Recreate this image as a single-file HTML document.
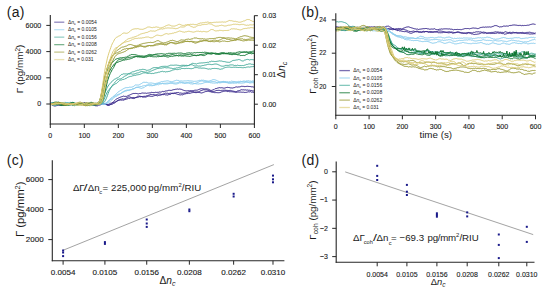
<!DOCTYPE html>
<html><head><meta charset="utf-8"><style>
html,body{margin:0;padding:0;background:#fff;}
body{width:550px;height:293px;overflow:hidden;}
svg{display:block;font-family:"Liberation Sans", sans-serif;}
text.s{stroke:#1a1a1a;stroke-width:0.12px;paint-order:stroke;}
</style></head><body>
<svg width="550" height="293" viewBox="0 0 550 293">
<rect width="550" height="293" fill="#fff"/>
<path d="M50.3,104.1 L51.0,104.5 L51.7,104.8 L52.3,105.2 L53.0,105.4 L53.7,105.8 L54.4,106.0 L55.1,105.8 L55.7,106.0 L56.4,105.7 L57.1,105.5 L57.8,105.5 L58.5,105.4 L59.1,105.2 L59.8,105.4 L60.5,105.4 L61.2,105.5 L61.9,105.3 L62.5,105.1 L63.2,105.0 L63.9,105.1 L64.6,104.9 L65.3,104.6 L65.9,104.4 L66.6,104.3 L67.3,104.2 L68.0,104.1 L68.7,104.2 L69.3,104.2 L70.0,104.2 L70.7,104.2 L71.4,104.0 L72.1,103.8 L72.8,103.8 L73.4,103.7 L74.1,103.8 L74.8,103.5 L75.5,103.7 L76.2,103.6 L76.8,103.4 L77.5,103.4 L78.2,103.5 L78.9,103.7 L79.6,103.5 L80.2,103.5 L80.9,103.4 L81.6,103.3 L82.3,103.7 L83.0,104.1 L83.6,104.3 L84.3,104.3 L85.0,104.4 L85.7,104.5 L86.4,104.3 L87.0,104.5 L87.7,104.3 L88.4,104.4 L89.1,104.4 L89.8,104.6 L90.4,104.5 L91.1,104.4 L91.8,104.2 L92.5,104.1 L93.2,104.0 L93.8,103.9 L94.5,103.7 L95.2,103.8 L95.9,103.8 L96.6,103.8 L97.2,104.2 L97.9,104.2 L98.6,104.2 L99.3,104.2 L100.0,104.2 L100.6,103.9 L101.3,103.8 L102.0,103.8 L102.7,103.6 L103.4,103.4 L104.0,103.4 L104.7,103.8 L105.4,103.6 L106.1,104.0 L106.8,104.2 L107.4,104.8 L108.1,105.0 L108.8,105.2 L109.5,104.8 L110.2,104.8 L110.8,104.2 L111.5,103.8 L112.2,103.1 L112.9,102.6 L113.6,101.7 L114.3,100.8 L114.9,100.4 L115.6,99.6 L116.3,99.1 L117.0,98.8 L117.7,98.4 L118.3,98.1 L119.0,97.8 L119.7,97.5 L120.4,97.2 L121.1,96.9 L121.7,96.7 L122.4,96.5 L123.1,96.2 L123.8,96.1 L124.5,96.4 L125.1,96.3 L125.8,96.4 L126.5,96.4 L127.2,96.0 L127.9,95.9 L128.5,95.4 L129.2,95.3 L129.9,94.8 L130.6,94.6 L131.3,94.3 L131.9,93.9 L132.6,93.7 L133.3,93.5 L134.0,93.4 L134.7,93.5 L135.3,93.4 L136.0,93.5 L136.7,93.5 L137.4,93.7 L138.1,93.7 L138.7,93.9 L139.4,93.5 L140.1,93.6 L140.8,93.5 L141.5,93.2 L142.1,92.9 L142.8,93.1 L143.5,93.1 L144.2,93.1 L144.9,93.2 L145.5,93.1 L146.2,93.3 L146.9,93.3 L147.6,93.1 L148.3,93.1 L148.9,92.9 L149.6,92.9 L150.3,92.8 L151.0,92.7 L151.7,92.3 L152.4,92.5 L153.0,92.5 L153.7,92.6 L154.4,92.6 L155.1,92.5 L155.8,92.2 L156.4,92.4 L157.1,92.4 L157.8,92.3 L158.5,92.3 L159.2,92.0 L159.8,92.0 L160.5,92.1 L161.2,92.0 L161.9,91.8 L162.6,91.4 L163.2,91.8 L163.9,91.3 L164.6,91.4 L165.3,91.0 L166.0,91.1 L166.6,90.9 L167.3,90.8 L168.0,90.6 L168.7,90.3 L169.4,90.3 L170.0,90.4 L170.7,90.4 L171.4,90.4 L172.1,90.1 L172.8,89.9 L173.4,89.7 L174.1,89.6 L174.8,89.5 L175.5,89.3 L176.2,89.3 L176.8,89.1 L177.5,89.0 L178.2,89.2 L178.9,89.2 L179.6,89.0 L180.2,89.1 L180.9,89.3 L181.6,89.4 L182.3,89.8 L183.0,89.9 L183.6,90.3 L184.3,90.5 L185.0,90.7 L185.7,90.8 L186.4,90.9 L187.0,90.8 L187.7,90.8 L188.4,90.7 L189.1,90.7 L189.8,90.9 L190.4,90.7 L191.1,90.9 L191.8,90.8 L192.5,90.7 L193.2,90.8 L193.9,90.4 L194.5,90.3 L195.2,90.2 L195.9,90.2 L196.6,90.2 L197.3,90.1 L197.9,89.9 L198.6,89.6 L199.3,89.3 L200.0,89.1 L200.7,88.8 L201.3,88.7 L202.0,88.7 L202.7,88.8 L203.4,88.8 L204.1,89.1 L204.7,88.9 L205.4,88.9 L206.1,88.9 L206.8,88.9 L207.5,89.0 L208.1,89.1 L208.8,89.3 L209.5,89.7 L210.2,90.1 L210.9,90.5 L211.5,90.4 L212.2,90.2 L212.9,89.9 L213.6,89.6 L214.3,89.4 L214.9,88.8 L215.6,88.6 L216.3,88.6 L217.0,88.1 L217.7,88.1 L218.3,87.9 L219.0,87.8 L219.7,87.6 L220.4,87.8 L221.1,87.8 L221.7,87.7 L222.4,87.8 L223.1,88.1 L223.8,88.1 L224.5,88.1 L225.1,88.0 L225.8,87.7 L226.5,87.5 L227.2,87.4 L227.9,87.3 L228.5,87.5 L229.2,87.6 L229.9,87.7 L230.6,87.9 L231.3,87.9 L231.9,88.0 L232.6,88.0 L233.3,87.8 L234.0,87.7 L234.7,87.5 L235.4,87.1 L236.0,87.0 L236.7,86.9 L237.4,87.1 L238.1,87.0 L238.8,86.9 L239.4,86.9 L240.1,86.9 L240.8,86.5 L241.5,86.3 L242.2,86.3 L242.8,86.4 L243.5,86.4 L244.2,86.4 L244.9,86.8 L245.6,86.5 L246.2,86.4 L246.9,86.4 L247.6,86.3 L248.3,86.4 L249.0,86.5 L249.6,86.5 L250.3,86.5 L251.0,86.8 L251.7,86.8 L252.4,86.8 L253.0,86.8 L253.7,87.1 L254.4,87.1" fill="none" stroke="#332288" stroke-width="1.0" stroke-opacity="1.0" stroke-linejoin="round"/>
<path d="M50.3,103.9 L51.0,103.7 L51.7,103.7 L52.3,103.8 L53.0,104.0 L53.7,104.0 L54.4,104.1 L55.1,104.2 L55.7,104.1 L56.4,104.5 L57.1,104.1 L57.8,104.2 L58.5,103.9 L59.1,103.9 L59.8,103.7 L60.5,103.3 L61.2,103.1 L61.9,102.9 L62.5,102.8 L63.2,102.6 L63.9,102.6 L64.6,102.8 L65.3,103.2 L65.9,103.5 L66.6,104.0 L67.3,104.3 L68.0,104.5 L68.7,104.7 L69.3,104.9 L70.0,104.9 L70.7,104.8 L71.4,104.6 L72.1,104.5 L72.8,104.2 L73.4,104.3 L74.1,104.2 L74.8,104.3 L75.5,104.2 L76.2,104.3 L76.8,104.4 L77.5,104.2 L78.2,104.4 L78.9,104.2 L79.6,104.3 L80.2,104.5 L80.9,104.4 L81.6,104.1 L82.3,103.9 L83.0,103.6 L83.6,103.4 L84.3,103.3 L85.0,102.9 L85.7,103.0 L86.4,102.8 L87.0,102.9 L87.7,102.9 L88.4,102.9 L89.1,102.8 L89.8,102.9 L90.4,103.0 L91.1,102.9 L91.8,103.1 L92.5,103.2 L93.2,103.2 L93.8,103.7 L94.5,103.7 L95.2,104.1 L95.9,104.1 L96.6,104.3 L97.2,104.4 L97.9,104.5 L98.6,104.5 L99.3,104.8 L100.0,104.8 L100.6,104.8 L101.3,104.5 L102.0,104.4 L102.7,104.0 L103.4,103.9 L104.0,103.7 L104.7,104.2 L105.4,104.3 L106.1,104.4 L106.8,104.9 L107.4,105.2 L108.1,105.2 L108.8,105.3 L109.5,105.1 L110.2,104.6 L110.8,104.5 L111.5,104.5 L112.2,104.2 L112.9,103.9 L113.6,103.4 L114.3,103.2 L114.9,102.7 L115.6,102.0 L116.3,101.4 L117.0,101.0 L117.7,100.6 L118.3,100.4 L119.0,100.1 L119.7,100.2 L120.4,100.0 L121.1,100.2 L121.7,100.1 L122.4,100.0 L123.1,100.0 L123.8,100.2 L124.5,99.7 L125.1,99.5 L125.8,99.4 L126.5,99.1 L127.2,98.8 L127.9,98.8 L128.5,98.3 L129.2,98.6 L129.9,98.3 L130.6,98.0 L131.3,97.9 L131.9,97.7 L132.6,97.5 L133.3,97.5 L134.0,97.4 L134.7,97.8 L135.3,97.6 L136.0,97.6 L136.7,97.5 L137.4,97.4 L138.1,97.3 L138.7,97.0 L139.4,96.7 L140.1,96.7 L140.8,96.8 L141.5,96.5 L142.1,96.6 L142.8,97.2 L143.5,97.1 L144.2,97.0 L144.9,97.1 L145.5,97.1 L146.2,96.9 L146.9,96.7 L147.6,96.3 L148.3,96.2 L148.9,96.0 L149.6,96.1 L150.3,96.2 L151.0,96.4 L151.7,96.3 L152.4,96.4 L153.0,96.2 L153.7,95.9 L154.4,95.7 L155.1,95.3 L155.8,95.0 L156.4,94.7 L157.1,94.4 L157.8,94.2 L158.5,94.0 L159.2,94.1 L159.8,93.9 L160.5,94.2 L161.2,94.4 L161.9,94.5 L162.6,94.6 L163.2,94.6 L163.9,94.7 L164.6,94.5 L165.3,94.8 L166.0,95.0 L166.6,94.9 L167.3,95.1 L168.0,94.8 L168.7,94.6 L169.4,94.5 L170.0,94.5 L170.7,94.2 L171.4,93.6 L172.1,93.6 L172.8,93.4 L173.4,93.2 L174.1,93.1 L174.8,93.3 L175.5,93.6 L176.2,93.8 L176.8,94.0 L177.5,94.3 L178.2,94.5 L178.9,94.6 L179.6,94.8 L180.2,94.9 L180.9,94.9 L181.6,94.7 L182.3,94.9 L183.0,94.7 L183.6,94.4 L184.3,94.1 L185.0,93.8 L185.7,93.8 L186.4,93.6 L187.0,93.6 L187.7,93.5 L188.4,93.3 L189.1,93.3 L189.8,93.4 L190.4,93.2 L191.1,93.0 L191.8,92.7 L192.5,92.6 L193.2,92.4 L193.9,92.4 L194.5,92.3 L195.2,91.9 L195.9,92.2 L196.6,92.0 L197.3,92.0 L197.9,92.2 L198.6,92.4 L199.3,92.5 L200.0,92.7 L200.7,92.8 L201.3,93.0 L202.0,92.7 L202.7,92.7 L203.4,92.4 L204.1,92.1 L204.7,91.9 L205.4,91.6 L206.1,91.6 L206.8,91.4 L207.5,91.3 L208.1,91.3 L208.8,91.3 L209.5,91.6 L210.2,91.7 L210.9,91.8 L211.5,92.1 L212.2,92.1 L212.9,92.3 L213.6,92.4 L214.3,92.6 L214.9,92.6 L215.6,92.6 L216.3,92.6 L217.0,92.6 L217.7,92.7 L218.3,92.7 L219.0,92.8 L219.7,92.6 L220.4,92.5 L221.1,92.2 L221.7,91.8 L222.4,91.7 L223.1,91.5 L223.8,91.2 L224.5,91.2 L225.1,91.2 L225.8,91.0 L226.5,91.2 L227.2,91.6 L227.9,91.4 L228.5,91.4 L229.2,91.7 L229.9,91.7 L230.6,91.7 L231.3,91.7 L231.9,91.8 L232.6,91.8 L233.3,91.9 L234.0,92.0 L234.7,92.1 L235.4,92.2 L236.0,92.5 L236.7,92.2 L237.4,92.1 L238.1,92.1 L238.8,92.0 L239.4,92.1 L240.1,92.2 L240.8,92.0 L241.5,92.2 L242.2,92.3 L242.8,92.2 L243.5,92.2 L244.2,92.3 L244.9,92.6 L245.6,92.4 L246.2,92.3 L246.9,92.3 L247.6,92.0 L248.3,91.8 L249.0,91.9 L249.6,91.9 L250.3,91.6 L251.0,92.0 L251.7,92.2 L252.4,92.1 L253.0,92.2 L253.7,92.4 L254.4,92.3" fill="none" stroke="#332288" stroke-width="1.0" stroke-opacity="1.0" stroke-linejoin="round"/>
<path d="M50.3,103.3 L51.0,103.3 L51.7,103.2 L52.3,103.2 L53.0,103.0 L53.7,103.0 L54.4,103.2 L55.1,103.6 L55.7,103.7 L56.4,104.1 L57.1,104.1 L57.8,103.9 L58.5,103.9 L59.1,103.6 L59.8,103.2 L60.5,103.2 L61.2,103.1 L61.9,103.1 L62.5,103.1 L63.2,103.7 L63.9,103.7 L64.6,103.9 L65.3,104.0 L65.9,104.1 L66.6,104.2 L67.3,104.1 L68.0,104.2 L68.7,104.1 L69.3,104.0 L70.0,104.1 L70.7,104.0 L71.4,103.8 L72.1,104.0 L72.8,104.2 L73.4,104.3 L74.1,104.5 L74.8,104.4 L75.5,104.3 L76.2,104.4 L76.8,104.1 L77.5,103.8 L78.2,103.7 L78.9,103.5 L79.6,103.5 L80.2,103.4 L80.9,103.3 L81.6,103.0 L82.3,103.2 L83.0,103.1 L83.6,103.0 L84.3,102.8 L85.0,102.7 L85.7,102.9 L86.4,102.9 L87.0,103.3 L87.7,103.4 L88.4,103.6 L89.1,103.7 L89.8,104.0 L90.4,103.9 L91.1,104.1 L91.8,104.3 L92.5,104.8 L93.2,104.8 L93.8,105.2 L94.5,105.5 L95.2,105.7 L95.9,105.8 L96.6,105.8 L97.2,105.9 L97.9,105.6 L98.6,105.2 L99.3,104.9 L100.0,104.6 L100.6,104.3 L101.3,104.2 L102.0,104.0 L102.7,103.8 L103.4,104.1 L104.0,103.9 L104.7,104.1 L105.4,104.4 L106.1,104.3 L106.8,104.7 L107.4,104.7 L108.1,104.5 L108.8,104.2 L109.5,103.8 L110.2,103.5 L110.8,103.1 L111.5,103.1 L112.2,102.6 L112.9,102.7 L113.6,102.5 L114.3,102.3 L114.9,102.2 L115.6,102.0 L116.3,101.7 L117.0,101.2 L117.7,100.7 L118.3,100.2 L119.0,100.0 L119.7,99.6 L120.4,99.4 L121.1,99.0 L121.7,99.2 L122.4,98.8 L123.1,99.0 L123.8,99.1 L124.5,98.9 L125.1,98.6 L125.8,98.3 L126.5,97.9 L127.2,97.6 L127.9,97.1 L128.5,96.9 L129.2,97.0 L129.9,96.9 L130.6,97.3 L131.3,97.7 L131.9,98.2 L132.6,98.5 L133.3,98.5 L134.0,98.7 L134.7,98.2 L135.3,97.8 L136.0,97.3 L136.7,97.0 L137.4,96.4 L138.1,96.1 L138.7,96.2 L139.4,96.1 L140.1,96.5 L140.8,96.3 L141.5,96.6 L142.1,96.5 L142.8,96.7 L143.5,96.4 L144.2,96.4 L144.9,96.2 L145.5,96.3 L146.2,96.1 L146.9,95.6 L147.6,95.7 L148.3,95.4 L148.9,95.1 L149.6,94.9 L150.3,94.5 L151.0,94.3 L151.7,94.5 L152.4,94.7 L153.0,94.4 L153.7,94.5 L154.4,94.7 L155.1,94.9 L155.8,95.3 L156.4,95.5 L157.1,95.8 L157.8,95.8 L158.5,95.5 L159.2,95.6 L159.8,95.1 L160.5,95.2 L161.2,95.0 L161.9,94.6 L162.6,94.2 L163.2,94.0 L163.9,93.9 L164.6,93.4 L165.3,93.1 L166.0,93.3 L166.6,93.3 L167.3,93.2 L168.0,93.3 L168.7,93.5 L169.4,93.4 L170.0,93.3 L170.7,93.2 L171.4,93.3 L172.1,93.2 L172.8,93.3 L173.4,93.6 L174.1,93.3 L174.8,93.1 L175.5,92.9 L176.2,92.6 L176.8,92.5 L177.5,92.5 L178.2,92.4 L178.9,92.8 L179.6,93.1 L180.2,92.9 L180.9,93.2 L181.6,93.2 L182.3,93.3 L183.0,93.3 L183.6,93.2 L184.3,93.1 L185.0,92.9 L185.7,93.1 L186.4,92.6 L187.0,92.7 L187.7,92.5 L188.4,92.1 L189.1,91.9 L189.8,91.9 L190.4,91.2 L191.1,91.4 L191.8,91.2 L192.5,91.4 L193.2,91.5 L193.9,92.0 L194.5,92.2 L195.2,92.6 L195.9,92.5 L196.6,92.6 L197.3,92.4 L197.9,92.0 L198.6,91.8 L199.3,91.5 L200.0,91.0 L200.7,90.8 L201.3,90.6 L202.0,90.1 L202.7,90.1 L203.4,89.8 L204.1,89.7 L204.7,89.9 L205.4,89.9 L206.1,89.9 L206.8,89.9 L207.5,90.1 L208.1,90.1 L208.8,90.6 L209.5,90.7 L210.2,91.0 L210.9,91.3 L211.5,91.4 L212.2,91.7 L212.9,91.5 L213.6,91.4 L214.3,91.3 L214.9,91.1 L215.6,90.8 L216.3,90.5 L217.0,90.5 L217.7,90.4 L218.3,90.3 L219.0,90.4 L219.7,90.4 L220.4,90.6 L221.1,90.6 L221.7,90.3 L222.4,90.3 L223.1,90.2 L223.8,90.3 L224.5,90.2 L225.1,90.2 L225.8,90.3 L226.5,90.4 L227.2,90.4 L227.9,90.5 L228.5,90.5 L229.2,90.4 L229.9,90.6 L230.6,90.4 L231.3,90.7 L231.9,90.7 L232.6,91.0 L233.3,91.2 L234.0,91.1 L234.7,91.5 L235.4,91.7 L236.0,91.6 L236.7,91.5 L237.4,91.0 L238.1,91.0 L238.8,90.6 L239.4,90.6 L240.1,90.2 L240.8,90.0 L241.5,89.7 L242.2,89.9 L242.8,89.8 L243.5,89.8 L244.2,90.0 L244.9,89.9 L245.6,89.9 L246.2,90.2 L246.9,90.0 L247.6,90.0 L248.3,90.2 L249.0,90.4 L249.6,90.2 L250.3,90.4 L251.0,90.4 L251.7,90.5 L252.4,90.8 L253.0,90.8 L253.7,91.0 L254.4,90.9" fill="none" stroke="#332288" stroke-width="1.0" stroke-opacity="1.0" stroke-linejoin="round"/>
<path d="M50.3,102.6 L51.0,102.6 L51.7,102.8 L52.3,102.7 L53.0,102.7 L53.7,102.9 L54.4,102.9 L55.1,102.7 L55.7,103.1 L56.4,103.2 L57.1,103.3 L57.8,103.1 L58.5,103.1 L59.1,103.4 L59.8,103.6 L60.5,103.8 L61.2,103.8 L61.9,104.3 L62.5,104.3 L63.2,104.4 L63.9,104.7 L64.6,104.7 L65.3,104.6 L65.9,104.5 L66.6,104.7 L67.3,104.4 L68.0,104.5 L68.7,104.5 L69.3,104.5 L70.0,104.5 L70.7,104.6 L71.4,104.7 L72.1,104.6 L72.8,104.3 L73.4,104.2 L74.1,104.3 L74.8,104.2 L75.5,104.3 L76.2,104.2 L76.8,104.1 L77.5,104.2 L78.2,104.1 L78.9,103.8 L79.6,103.7 L80.2,103.7 L80.9,103.5 L81.6,103.6 L82.3,103.6 L83.0,103.9 L83.6,104.1 L84.3,104.4 L85.0,104.8 L85.7,105.1 L86.4,105.3 L87.0,105.2 L87.7,105.2 L88.4,105.0 L89.1,105.1 L89.8,104.7 L90.4,104.4 L91.1,104.1 L91.8,104.0 L92.5,103.8 L93.2,103.6 L93.8,103.6 L94.5,103.7 L95.2,103.4 L95.9,103.3 L96.6,103.4 L97.2,103.1 L97.9,103.2 L98.6,102.9 L99.3,103.1 L100.0,103.2 L100.6,103.3 L101.3,103.5 L102.0,103.5 L102.7,103.6 L103.4,103.6 L104.0,103.6 L104.7,103.8 L105.4,103.2 L106.1,103.1 L106.8,102.4 L107.4,101.7 L108.1,101.1 L108.8,100.4 L109.5,99.6 L110.2,98.9 L110.8,98.3 L111.5,97.8 L112.2,97.3 L112.9,96.6 L113.6,96.2 L114.3,95.6 L114.9,95.1 L115.6,94.4 L116.3,93.8 L117.0,93.1 L117.7,92.4 L118.3,91.9 L119.0,91.5 L119.7,91.1 L120.4,90.4 L121.1,90.3 L121.7,89.9 L122.4,89.2 L123.1,88.8 L123.8,88.5 L124.5,88.2 L125.1,87.7 L125.8,87.8 L126.5,87.6 L127.2,87.6 L127.9,87.6 L128.5,87.5 L129.2,87.2 L129.9,87.2 L130.6,87.2 L131.3,87.2 L131.9,87.1 L132.6,86.8 L133.3,86.6 L134.0,86.0 L134.7,85.5 L135.3,85.0 L136.0,85.0 L136.7,85.0 L137.4,85.0 L138.1,85.3 L138.7,84.9 L139.4,84.7 L140.1,84.3 L140.8,83.9 L141.5,83.5 L142.1,83.1 L142.8,82.6 L143.5,82.3 L144.2,82.4 L144.9,82.2 L145.5,82.4 L146.2,82.2 L146.9,82.5 L147.6,82.7 L148.3,83.1 L148.9,83.0 L149.6,83.1 L150.3,83.0 L151.0,83.0 L151.7,83.0 L152.4,83.2 L153.0,83.2 L153.7,83.4 L154.4,83.5 L155.1,83.6 L155.8,83.5 L156.4,83.3 L157.1,83.3 L157.8,83.0 L158.5,82.9 L159.2,82.7 L159.8,82.2 L160.5,82.1 L161.2,81.7 L161.9,81.6 L162.6,81.6 L163.2,81.5 L163.9,81.3 L164.6,81.2 L165.3,81.2 L166.0,80.8 L166.6,80.9 L167.3,80.8 L168.0,80.9 L168.7,81.0 L169.4,81.3 L170.0,81.4 L170.7,81.5 L171.4,81.7 L172.1,81.7 L172.8,81.6 L173.4,81.3 L174.1,81.0 L174.8,80.8 L175.5,80.6 L176.2,80.4 L176.8,80.1 L177.5,80.4 L178.2,80.4 L178.9,80.6 L179.6,81.1 L180.2,80.9 L180.9,81.1 L181.6,80.9 L182.3,81.1 L183.0,81.1 L183.6,81.0 L184.3,80.9 L185.0,80.9 L185.7,80.9 L186.4,80.9 L187.0,80.8 L187.7,80.7 L188.4,80.6 L189.1,80.8 L189.8,80.9 L190.4,80.9 L191.1,81.0 L191.8,81.0 L192.5,81.1 L193.2,81.3 L193.9,81.3 L194.5,81.3 L195.2,81.3 L195.9,81.2 L196.6,81.2 L197.3,81.1 L197.9,80.7 L198.6,80.7 L199.3,80.4 L200.0,80.3 L200.7,80.5 L201.3,80.2 L202.0,80.2 L202.7,80.3 L203.4,80.2 L204.1,80.2 L204.7,80.7 L205.4,80.6 L206.1,80.8 L206.8,80.9 L207.5,81.0 L208.1,81.2 L208.8,81.1 L209.5,80.9 L210.2,80.7 L210.9,80.4 L211.5,80.3 L212.2,80.0 L212.9,79.6 L213.6,79.6 L214.3,79.6 L214.9,79.9 L215.6,80.0 L216.3,80.3 L217.0,80.6 L217.7,81.0 L218.3,81.2 L219.0,81.7 L219.7,81.9 L220.4,82.0 L221.1,81.9 L221.7,81.9 L222.4,81.6 L223.1,81.5 L223.8,81.4 L224.5,81.5 L225.1,81.5 L225.8,81.6 L226.5,81.8 L227.2,81.9 L227.9,81.9 L228.5,82.0 L229.2,81.8 L229.9,81.7 L230.6,81.8 L231.3,81.2 L231.9,81.2 L232.6,81.4 L233.3,81.4 L234.0,81.7 L234.7,81.6 L235.4,81.9 L236.0,82.2 L236.7,81.9 L237.4,81.8 L238.1,81.3 L238.8,81.5 L239.4,81.5 L240.1,81.2 L240.8,81.3 L241.5,81.5 L242.2,81.8 L242.8,81.7 L243.5,81.7 L244.2,82.1 L244.9,81.6 L245.6,81.5 L246.2,80.9 L246.9,80.9 L247.6,80.9 L248.3,80.7 L249.0,80.8 L249.6,81.1 L250.3,81.0 L251.0,81.2 L251.7,81.3 L252.4,80.9 L253.0,81.1 L253.7,81.0 L254.4,80.8" fill="none" stroke="#88CCEE" stroke-width="1.0" stroke-opacity="1.0" stroke-linejoin="round"/>
<path d="M50.3,104.3 L51.0,104.4 L51.7,104.0 L52.3,104.2 L53.0,103.8 L53.7,103.9 L54.4,103.9 L55.1,103.8 L55.7,103.8 L56.4,103.8 L57.1,103.8 L57.8,103.9 L58.5,103.8 L59.1,103.7 L59.8,103.4 L60.5,103.2 L61.2,103.0 L61.9,102.8 L62.5,102.7 L63.2,102.7 L63.9,102.7 L64.6,102.8 L65.3,102.9 L65.9,102.9 L66.6,103.4 L67.3,103.6 L68.0,103.7 L68.7,104.3 L69.3,104.1 L70.0,103.9 L70.7,103.9 L71.4,103.2 L72.1,103.5 L72.8,102.9 L73.4,102.8 L74.1,103.0 L74.8,103.3 L75.5,103.4 L76.2,103.8 L76.8,103.8 L77.5,104.1 L78.2,104.2 L78.9,104.2 L79.6,104.6 L80.2,104.6 L80.9,104.7 L81.6,104.8 L82.3,104.6 L83.0,104.6 L83.6,104.6 L84.3,104.4 L85.0,104.3 L85.7,104.2 L86.4,104.1 L87.0,104.2 L87.7,104.0 L88.4,104.2 L89.1,103.9 L89.8,103.9 L90.4,103.8 L91.1,103.8 L91.8,103.7 L92.5,103.8 L93.2,103.6 L93.8,103.7 L94.5,103.7 L95.2,103.9 L95.9,104.2 L96.6,104.3 L97.2,104.4 L97.9,104.5 L98.6,104.3 L99.3,104.4 L100.0,104.5 L100.6,104.4 L101.3,104.2 L102.0,104.2 L102.7,104.2 L103.4,104.0 L104.0,104.1 L104.7,104.0 L105.4,103.9 L106.1,103.9 L106.8,103.4 L107.4,103.3 L108.1,102.9 L108.8,102.6 L109.5,102.0 L110.2,101.5 L110.8,100.8 L111.5,100.2 L112.2,99.3 L112.9,98.7 L113.6,98.0 L114.3,97.5 L114.9,97.1 L115.6,96.6 L116.3,96.4 L117.0,95.9 L117.7,95.5 L118.3,95.1 L119.0,94.5 L119.7,94.1 L120.4,93.9 L121.1,93.2 L121.7,92.9 L122.4,92.4 L123.1,92.1 L123.8,91.9 L124.5,91.6 L125.1,91.0 L125.8,91.0 L126.5,90.9 L127.2,90.4 L127.9,90.2 L128.5,90.2 L129.2,90.0 L129.9,89.8 L130.6,89.6 L131.3,89.6 L131.9,89.5 L132.6,89.3 L133.3,89.1 L134.0,88.9 L134.7,88.3 L135.3,87.8 L136.0,87.5 L136.7,87.2 L137.4,87.1 L138.1,87.3 L138.7,87.6 L139.4,87.8 L140.1,87.8 L140.8,88.3 L141.5,88.4 L142.1,88.1 L142.8,87.9 L143.5,87.7 L144.2,87.5 L144.9,86.8 L145.5,86.5 L146.2,86.1 L146.9,85.6 L147.6,85.2 L148.3,84.9 L148.9,84.8 L149.6,84.7 L150.3,84.7 L151.0,84.8 L151.7,84.9 L152.4,85.3 L153.0,85.4 L153.7,85.2 L154.4,85.4 L155.1,85.1 L155.8,84.9 L156.4,84.8 L157.1,84.7 L157.8,84.5 L158.5,84.8 L159.2,84.3 L159.8,84.0 L160.5,84.0 L161.2,83.9 L161.9,83.6 L162.6,83.4 L163.2,83.8 L163.9,83.7 L164.6,83.9 L165.3,83.9 L166.0,84.0 L166.6,83.9 L167.3,83.9 L168.0,83.7 L168.7,83.6 L169.4,83.5 L170.0,83.3 L170.7,83.3 L171.4,83.4 L172.1,83.1 L172.8,83.4 L173.4,83.7 L174.1,83.7 L174.8,84.0 L175.5,84.0 L176.2,84.0 L176.8,83.9 L177.5,83.7 L178.2,83.5 L178.9,83.2 L179.6,82.8 L180.2,83.0 L180.9,82.7 L181.6,82.7 L182.3,83.0 L183.0,83.2 L183.6,83.1 L184.3,83.4 L185.0,83.2 L185.7,83.3 L186.4,83.2 L187.0,83.1 L187.7,83.0 L188.4,83.1 L189.1,83.3 L189.8,83.6 L190.4,83.8 L191.1,83.8 L191.8,83.9 L192.5,84.1 L193.2,83.9 L193.9,83.7 L194.5,83.6 L195.2,83.4 L195.9,83.2 L196.6,82.9 L197.3,82.6 L197.9,82.3 L198.6,82.1 L199.3,81.6 L200.0,81.6 L200.7,81.0 L201.3,81.0 L202.0,80.9 L202.7,81.0 L203.4,81.3 L204.1,81.2 L204.7,81.4 L205.4,81.4 L206.1,81.8 L206.8,81.6 L207.5,81.9 L208.1,81.9 L208.8,82.2 L209.5,81.9 L210.2,81.9 L210.9,81.7 L211.5,81.6 L212.2,81.7 L212.9,81.4 L213.6,81.5 L214.3,81.6 L214.9,81.7 L215.6,81.9 L216.3,82.3 L217.0,82.6 L217.7,82.7 L218.3,82.3 L219.0,82.3 L219.7,82.1 L220.4,82.0 L221.1,81.8 L221.7,81.7 L222.4,81.7 L223.1,81.8 L223.8,81.6 L224.5,81.9 L225.1,82.1 L225.8,82.4 L226.5,82.6 L227.2,82.7 L227.9,83.0 L228.5,83.3 L229.2,83.3 L229.9,83.3 L230.6,83.2 L231.3,82.8 L231.9,82.7 L232.6,82.3 L233.3,82.4 L234.0,82.2 L234.7,82.0 L235.4,82.0 L236.0,82.1 L236.7,82.2 L237.4,82.4 L238.1,82.6 L238.8,82.9 L239.4,83.0 L240.1,83.0 L240.8,83.1 L241.5,83.1 L242.2,83.1 L242.8,83.0 L243.5,82.9 L244.2,82.8 L244.9,82.6 L245.6,82.4 L246.2,82.4 L246.9,82.2 L247.6,82.0 L248.3,82.1 L249.0,82.1 L249.6,82.2 L250.3,82.1 L251.0,81.9 L251.7,81.8 L252.4,81.9 L253.0,81.8 L253.7,81.8 L254.4,81.9" fill="none" stroke="#88CCEE" stroke-width="1.0" stroke-opacity="1.0" stroke-linejoin="round"/>
<path d="M50.3,103.8 L51.0,103.5 L51.7,103.2 L52.3,103.0 L53.0,102.7 L53.7,102.6 L54.4,102.8 L55.1,102.9 L55.7,103.1 L56.4,102.9 L57.1,103.0 L57.8,103.3 L58.5,103.2 L59.1,103.3 L59.8,103.6 L60.5,103.7 L61.2,103.6 L61.9,103.3 L62.5,103.2 L63.2,102.8 L63.9,102.3 L64.6,102.4 L65.3,102.3 L65.9,102.5 L66.6,102.6 L67.3,102.6 L68.0,102.5 L68.7,102.7 L69.3,102.5 L70.0,102.3 L70.7,102.3 L71.4,102.5 L72.1,102.5 L72.8,102.7 L73.4,102.6 L74.1,103.0 L74.8,103.3 L75.5,103.9 L76.2,104.3 L76.8,104.4 L77.5,104.6 L78.2,104.8 L78.9,104.7 L79.6,104.6 L80.2,104.6 L80.9,104.6 L81.6,104.7 L82.3,104.5 L83.0,104.4 L83.6,104.5 L84.3,104.5 L85.0,104.4 L85.7,104.2 L86.4,104.2 L87.0,104.3 L87.7,104.5 L88.4,104.7 L89.1,104.8 L89.8,105.0 L90.4,105.1 L91.1,104.9 L91.8,104.7 L92.5,104.7 L93.2,104.4 L93.8,104.5 L94.5,104.5 L95.2,104.4 L95.9,104.1 L96.6,103.7 L97.2,103.5 L97.9,103.3 L98.6,103.2 L99.3,103.2 L100.0,103.4 L100.6,103.5 L101.3,103.7 L102.0,104.1 L102.7,104.3 L103.4,104.5 L104.0,104.6 L104.7,104.4 L105.4,104.2 L106.1,103.5 L106.8,103.2 L107.4,102.4 L108.1,101.4 L108.8,101.0 L109.5,100.5 L110.2,99.8 L110.8,99.1 L111.5,98.8 L112.2,98.2 L112.9,97.7 L113.6,97.1 L114.3,96.2 L114.9,96.0 L115.6,95.6 L116.3,95.2 L117.0,94.7 L117.7,94.5 L118.3,94.3 L119.0,94.2 L119.7,94.1 L120.4,93.6 L121.1,93.2 L121.7,92.7 L122.4,92.3 L123.1,91.7 L123.8,91.3 L124.5,90.9 L125.1,90.8 L125.8,90.4 L126.5,90.2 L127.2,90.3 L127.9,90.2 L128.5,90.2 L129.2,90.0 L129.9,90.3 L130.6,89.8 L131.3,89.7 L131.9,89.2 L132.6,88.7 L133.3,88.6 L134.0,88.4 L134.7,88.3 L135.3,87.8 L136.0,87.7 L136.7,87.5 L137.4,87.5 L138.1,87.2 L138.7,86.8 L139.4,86.8 L140.1,86.6 L140.8,86.4 L141.5,86.5 L142.1,86.1 L142.8,86.0 L143.5,85.8 L144.2,85.8 L144.9,85.5 L145.5,85.5 L146.2,85.2 L146.9,85.1 L147.6,85.1 L148.3,85.2 L148.9,85.3 L149.6,85.8 L150.3,85.6 L151.0,85.8 L151.7,85.7 L152.4,85.7 L153.0,85.6 L153.7,85.3 L154.4,84.9 L155.1,84.5 L155.8,84.4 L156.4,84.2 L157.1,83.7 L157.8,83.8 L158.5,83.3 L159.2,83.5 L159.8,83.6 L160.5,83.4 L161.2,83.4 L161.9,83.7 L162.6,83.3 L163.2,83.5 L163.9,83.2 L164.6,83.3 L165.3,83.3 L166.0,83.1 L166.6,83.1 L167.3,83.0 L168.0,83.0 L168.7,83.1 L169.4,83.0 L170.0,82.9 L170.7,82.7 L171.4,82.7 L172.1,82.7 L172.8,83.0 L173.4,82.9 L174.1,83.1 L174.8,82.9 L175.5,83.0 L176.2,83.0 L176.8,82.7 L177.5,82.6 L178.2,82.4 L178.9,82.3 L179.6,81.9 L180.2,82.0 L180.9,82.3 L181.6,82.3 L182.3,82.4 L183.0,82.6 L183.6,82.7 L184.3,82.9 L185.0,82.9 L185.7,82.8 L186.4,82.6 L187.0,82.7 L187.7,82.6 L188.4,82.3 L189.1,82.4 L189.8,82.3 L190.4,82.4 L191.1,82.5 L191.8,82.5 L192.5,82.8 L193.2,83.0 L193.9,83.4 L194.5,83.5 L195.2,83.6 L195.9,83.7 L196.6,83.9 L197.3,83.8 L197.9,84.0 L198.6,84.0 L199.3,83.8 L200.0,83.8 L200.7,83.8 L201.3,83.7 L202.0,83.4 L202.7,83.4 L203.4,83.0 L204.1,83.0 L204.7,82.5 L205.4,82.5 L206.1,82.2 L206.8,82.3 L207.5,82.1 L208.1,82.0 L208.8,82.2 L209.5,82.3 L210.2,82.6 L210.9,82.9 L211.5,82.8 L212.2,82.9 L212.9,83.2 L213.6,83.0 L214.3,83.1 L214.9,83.1 L215.6,83.0 L216.3,83.0 L217.0,82.7 L217.7,83.0 L218.3,82.7 L219.0,82.6 L219.7,82.9 L220.4,82.8 L221.1,82.5 L221.7,82.6 L222.4,82.5 L223.1,82.4 L223.8,82.5 L224.5,82.5 L225.1,82.6 L225.8,82.2 L226.5,82.3 L227.2,82.2 L227.9,82.2 L228.5,82.5 L229.2,82.3 L229.9,82.5 L230.6,82.7 L231.3,83.0 L231.9,83.0 L232.6,83.1 L233.3,83.2 L234.0,83.3 L234.7,83.1 L235.4,83.1 L236.0,83.1 L236.7,83.1 L237.4,82.8 L238.1,82.7 L238.8,82.8 L239.4,82.4 L240.1,82.1 L240.8,81.7 L241.5,81.6 L242.2,81.4 L242.8,81.3 L243.5,81.0 L244.2,81.0 L244.9,81.1 L245.6,81.3 L246.2,81.4 L246.9,81.8 L247.6,82.3 L248.3,82.4 L249.0,82.8 L249.6,82.9 L250.3,82.9 L251.0,82.8 L251.7,82.7 L252.4,82.7 L253.0,82.6 L253.7,82.8 L254.4,82.6" fill="none" stroke="#88CCEE" stroke-width="1.0" stroke-opacity="1.0" stroke-linejoin="round"/>
<path d="M50.3,104.3 L51.0,104.2 L51.7,104.6 L52.3,104.7 L53.0,104.8 L53.7,104.8 L54.4,104.6 L55.1,104.8 L55.7,104.3 L56.4,104.1 L57.1,103.7 L57.8,103.7 L58.5,103.4 L59.1,103.4 L59.8,103.2 L60.5,103.1 L61.2,103.2 L61.9,103.2 L62.5,103.5 L63.2,103.4 L63.9,103.4 L64.6,103.4 L65.3,103.0 L65.9,103.1 L66.6,102.9 L67.3,102.9 L68.0,102.9 L68.7,103.2 L69.3,103.5 L70.0,103.9 L70.7,104.2 L71.4,104.8 L72.1,105.2 L72.8,105.6 L73.4,105.4 L74.1,105.9 L74.8,105.5 L75.5,104.9 L76.2,104.5 L76.8,104.1 L77.5,103.6 L78.2,103.1 L78.9,102.9 L79.6,103.1 L80.2,103.1 L80.9,103.4 L81.6,103.6 L82.3,103.8 L83.0,104.2 L83.6,104.4 L84.3,104.1 L85.0,103.7 L85.7,103.5 L86.4,103.2 L87.0,102.7 L87.7,102.9 L88.4,102.7 L89.1,103.0 L89.8,103.1 L90.4,103.3 L91.1,103.3 L91.8,103.7 L92.5,103.7 L93.2,103.7 L93.8,103.4 L94.5,103.3 L95.2,103.2 L95.9,103.3 L96.6,103.3 L97.2,103.2 L97.9,103.5 L98.6,103.5 L99.3,103.4 L100.0,103.2 L100.6,102.7 L101.3,101.5 L102.0,100.3 L102.7,98.7 L103.4,97.3 L104.0,95.4 L104.7,93.6 L105.4,91.8 L106.1,90.0 L106.8,88.5 L107.4,87.2 L108.1,86.0 L108.8,84.9 L109.5,84.2 L110.2,83.3 L110.8,82.6 L111.5,82.2 L112.2,81.2 L112.9,80.4 L113.6,80.0 L114.3,79.4 L114.9,79.1 L115.6,78.8 L116.3,78.3 L117.0,78.1 L117.7,77.8 L118.3,77.5 L119.0,76.7 L119.7,76.2 L120.4,75.6 L121.1,74.8 L121.7,74.4 L122.4,74.4 L123.1,73.9 L123.8,73.8 L124.5,73.9 L125.1,73.7 L125.8,74.0 L126.5,73.9 L127.2,73.9 L127.9,73.8 L128.5,73.5 L129.2,73.5 L129.9,73.2 L130.6,72.8 L131.3,72.4 L131.9,72.2 L132.6,71.8 L133.3,71.8 L134.0,71.6 L134.7,71.3 L135.3,71.0 L136.0,70.9 L136.7,70.6 L137.4,70.3 L138.1,70.4 L138.7,70.2 L139.4,69.8 L140.1,69.9 L140.8,69.7 L141.5,69.6 L142.1,69.4 L142.8,69.3 L143.5,69.4 L144.2,69.5 L144.9,69.6 L145.5,69.8 L146.2,70.3 L146.9,70.2 L147.6,70.3 L148.3,70.1 L148.9,70.1 L149.6,69.8 L150.3,69.4 L151.0,69.1 L151.7,68.5 L152.4,68.2 L153.0,67.8 L153.7,67.7 L154.4,67.6 L155.1,67.6 L155.8,67.6 L156.4,67.5 L157.1,67.7 L157.8,67.6 L158.5,67.6 L159.2,67.2 L159.8,67.2 L160.5,66.8 L161.2,66.6 L161.9,66.4 L162.6,66.4 L163.2,66.4 L163.9,66.3 L164.6,66.3 L165.3,66.3 L166.0,66.3 L166.6,66.4 L167.3,66.4 L168.0,66.2 L168.7,66.0 L169.4,65.7 L170.0,65.3 L170.7,65.2 L171.4,65.2 L172.1,65.3 L172.8,65.2 L173.4,65.3 L174.1,65.1 L174.8,65.2 L175.5,65.1 L176.2,65.0 L176.8,65.2 L177.5,65.3 L178.2,65.3 L178.9,65.5 L179.6,65.6 L180.2,65.6 L180.9,65.6 L181.6,65.3 L182.3,65.3 L183.0,65.2 L183.6,65.3 L184.3,65.3 L185.0,65.4 L185.7,65.4 L186.4,65.3 L187.0,65.5 L187.7,65.7 L188.4,65.5 L189.1,65.4 L189.8,65.0 L190.4,64.4 L191.1,64.0 L191.8,63.7 L192.5,63.3 L193.2,63.4 L193.9,63.5 L194.5,63.7 L195.2,63.8 L195.9,63.7 L196.6,64.0 L197.3,63.6 L197.9,63.3 L198.6,63.3 L199.3,63.1 L200.0,63.1 L200.7,63.0 L201.3,62.9 L202.0,63.0 L202.7,62.9 L203.4,62.8 L204.1,62.8 L204.7,62.7 L205.4,62.6 L206.1,62.5 L206.8,62.5 L207.5,62.3 L208.1,62.3 L208.8,62.3 L209.5,61.7 L210.2,61.8 L210.9,61.5 L211.5,61.2 L212.2,61.4 L212.9,61.3 L213.6,61.4 L214.3,61.5 L214.9,61.5 L215.6,61.5 L216.3,61.4 L217.0,61.4 L217.7,61.2 L218.3,61.1 L219.0,61.1 L219.7,60.8 L220.4,61.0 L221.1,61.1 L221.7,61.0 L222.4,61.3 L223.1,61.5 L223.8,61.6 L224.5,61.6 L225.1,61.9 L225.8,61.8 L226.5,62.1 L227.2,62.1 L227.9,62.4 L228.5,62.3 L229.2,62.3 L229.9,62.3 L230.6,61.8 L231.3,61.5 L231.9,61.0 L232.6,60.6 L233.3,60.4 L234.0,60.5 L234.7,60.3 L235.4,60.2 L236.0,60.1 L236.7,59.9 L237.4,59.9 L238.1,59.5 L238.8,59.6 L239.4,59.6 L240.1,59.9 L240.8,60.2 L241.5,60.7 L242.2,60.9 L242.8,61.0 L243.5,60.9 L244.2,60.3 L244.9,60.0 L245.6,59.9 L246.2,59.6 L246.9,59.5 L247.6,59.4 L248.3,59.5 L249.0,59.7 L249.6,60.0 L250.3,59.7 L251.0,59.6 L251.7,59.6 L252.4,59.6 L253.0,59.8 L253.7,59.8 L254.4,60.0" fill="none" stroke="#44AA99" stroke-width="1.0" stroke-opacity="1.0" stroke-linejoin="round"/>
<path d="M50.3,103.6 L51.0,103.9 L51.7,104.0 L52.3,104.8 L53.0,104.7 L53.7,105.0 L54.4,105.3 L55.1,105.3 L55.7,105.3 L56.4,105.1 L57.1,104.8 L57.8,104.8 L58.5,104.2 L59.1,104.1 L59.8,103.7 L60.5,103.8 L61.2,103.8 L61.9,104.0 L62.5,104.1 L63.2,104.4 L63.9,104.6 L64.6,104.6 L65.3,104.7 L65.9,104.7 L66.6,105.3 L67.3,105.3 L68.0,105.2 L68.7,105.4 L69.3,105.2 L70.0,104.7 L70.7,104.5 L71.4,104.5 L72.1,104.0 L72.8,103.9 L73.4,104.0 L74.1,104.2 L74.8,104.4 L75.5,104.7 L76.2,104.9 L76.8,104.8 L77.5,104.8 L78.2,104.5 L78.9,104.6 L79.6,104.6 L80.2,104.1 L80.9,103.8 L81.6,103.6 L82.3,103.5 L83.0,103.6 L83.6,103.4 L84.3,103.8 L85.0,103.9 L85.7,104.2 L86.4,104.4 L87.0,104.2 L87.7,104.6 L88.4,104.4 L89.1,104.1 L89.8,104.0 L90.4,103.6 L91.1,103.5 L91.8,103.4 L92.5,103.1 L93.2,103.6 L93.8,103.8 L94.5,104.1 L95.2,104.1 L95.9,103.9 L96.6,103.8 L97.2,103.8 L97.9,103.9 L98.6,103.8 L99.3,104.2 L100.0,104.2 L100.6,104.1 L101.3,104.0 L102.0,103.3 L102.7,102.5 L103.4,101.3 L104.0,99.5 L104.7,97.9 L105.4,96.1 L106.1,94.5 L106.8,93.0 L107.4,91.8 L108.1,90.7 L108.8,89.7 L109.5,89.2 L110.2,88.3 L110.8,87.4 L111.5,86.9 L112.2,85.8 L112.9,84.8 L113.6,83.9 L114.3,83.3 L114.9,82.3 L115.6,81.5 L116.3,80.9 L117.0,80.1 L117.7,79.5 L118.3,79.3 L119.0,79.3 L119.7,78.9 L120.4,78.9 L121.1,78.7 L121.7,78.3 L122.4,78.0 L123.1,77.3 L123.8,76.8 L124.5,76.3 L125.1,76.0 L125.8,75.7 L126.5,75.3 L127.2,74.8 L127.9,74.6 L128.5,73.9 L129.2,74.0 L129.9,73.9 L130.6,73.7 L131.3,73.8 L131.9,74.0 L132.6,74.2 L133.3,74.1 L134.0,74.0 L134.7,73.8 L135.3,73.7 L136.0,73.3 L136.7,73.1 L137.4,72.9 L138.1,73.1 L138.7,72.6 L139.4,72.3 L140.1,72.0 L140.8,71.7 L141.5,71.4 L142.1,71.4 L142.8,71.6 L143.5,71.8 L144.2,71.8 L144.9,72.2 L145.5,72.2 L146.2,72.1 L146.9,72.2 L147.6,72.4 L148.3,72.1 L148.9,72.0 L149.6,71.7 L150.3,71.3 L151.0,71.1 L151.7,70.9 L152.4,70.5 L153.0,70.3 L153.7,70.0 L154.4,69.7 L155.1,69.4 L155.8,69.2 L156.4,68.9 L157.1,68.6 L157.8,68.5 L158.5,68.5 L159.2,68.1 L159.8,68.3 L160.5,68.2 L161.2,68.2 L161.9,68.1 L162.6,67.9 L163.2,67.8 L163.9,67.8 L164.6,67.5 L165.3,67.7 L166.0,67.5 L166.6,67.9 L167.3,67.8 L168.0,67.6 L168.7,67.8 L169.4,67.9 L170.0,67.9 L170.7,68.2 L171.4,68.2 L172.1,68.6 L172.8,68.5 L173.4,68.6 L174.1,68.4 L174.8,68.3 L175.5,68.3 L176.2,67.9 L176.8,67.9 L177.5,67.9 L178.2,67.8 L178.9,67.3 L179.6,67.3 L180.2,67.2 L180.9,67.0 L181.6,66.7 L182.3,66.2 L183.0,66.2 L183.6,65.9 L184.3,66.1 L185.0,66.2 L185.7,65.8 L186.4,65.9 L187.0,65.8 L187.7,65.5 L188.4,65.5 L189.1,65.1 L189.8,64.9 L190.4,64.8 L191.1,64.6 L191.8,64.8 L192.5,64.9 L193.2,65.3 L193.9,65.7 L194.5,65.9 L195.2,66.0 L195.9,66.0 L196.6,65.9 L197.3,65.9 L197.9,65.9 L198.6,66.1 L199.3,66.0 L200.0,66.0 L200.7,66.1 L201.3,65.9 L202.0,65.8 L202.7,65.5 L203.4,65.5 L204.1,65.3 L204.7,65.1 L205.4,65.0 L206.1,65.0 L206.8,64.6 L207.5,64.4 L208.1,64.4 L208.8,64.2 L209.5,64.3 L210.2,64.4 L210.9,64.5 L211.5,64.6 L212.2,64.6 L212.9,64.4 L213.6,64.3 L214.3,64.1 L214.9,64.1 L215.6,64.0 L216.3,64.0 L217.0,64.3 L217.7,64.4 L218.3,64.7 L219.0,65.0 L219.7,65.3 L220.4,65.7 L221.1,66.1 L221.7,66.1 L222.4,66.2 L223.1,66.4 L223.8,66.0 L224.5,65.9 L225.1,65.4 L225.8,65.5 L226.5,65.4 L227.2,65.4 L227.9,65.4 L228.5,65.4 L229.2,65.1 L229.9,65.1 L230.6,64.9 L231.3,64.8 L231.9,65.1 L232.6,64.9 L233.3,65.1 L234.0,65.2 L234.7,65.6 L235.4,65.4 L236.0,65.5 L236.7,65.6 L237.4,65.2 L238.1,65.4 L238.8,65.5 L239.4,65.5 L240.1,65.5 L240.8,65.5 L241.5,65.6 L242.2,65.5 L242.8,65.5 L243.5,65.6 L244.2,65.3 L244.9,65.2 L245.6,64.9 L246.2,64.5 L246.9,64.4 L247.6,64.4 L248.3,64.1 L249.0,63.8 L249.6,63.9 L250.3,63.9 L251.0,63.9 L251.7,64.4 L252.4,64.3 L253.0,64.5 L253.7,64.6 L254.4,64.8" fill="none" stroke="#44AA99" stroke-width="1.0" stroke-opacity="1.0" stroke-linejoin="round"/>
<path d="M50.3,104.5 L51.0,104.3 L51.7,104.5 L52.3,104.6 L53.0,104.6 L53.7,104.4 L54.4,104.5 L55.1,104.5 L55.7,104.9 L56.4,104.8 L57.1,104.6 L57.8,104.7 L58.5,104.5 L59.1,104.4 L59.8,103.9 L60.5,103.9 L61.2,103.9 L61.9,103.8 L62.5,103.7 L63.2,103.5 L63.9,103.3 L64.6,103.3 L65.3,103.1 L65.9,103.3 L66.6,103.5 L67.3,103.4 L68.0,103.7 L68.7,103.7 L69.3,103.9 L70.0,104.1 L70.7,103.9 L71.4,104.1 L72.1,104.0 L72.8,104.4 L73.4,104.5 L74.1,104.5 L74.8,104.7 L75.5,104.9 L76.2,105.2 L76.8,105.1 L77.5,105.4 L78.2,105.2 L78.9,105.0 L79.6,104.7 L80.2,104.2 L80.9,104.0 L81.6,103.6 L82.3,103.3 L83.0,103.5 L83.6,103.4 L84.3,103.5 L85.0,103.8 L85.7,104.0 L86.4,104.6 L87.0,104.7 L87.7,105.0 L88.4,105.4 L89.1,105.7 L89.8,105.6 L90.4,105.6 L91.1,105.4 L91.8,105.3 L92.5,105.0 L93.2,105.0 L93.8,104.6 L94.5,104.8 L95.2,104.4 L95.9,104.0 L96.6,103.9 L97.2,103.4 L97.9,103.4 L98.6,103.0 L99.3,103.0 L100.0,102.9 L100.6,102.9 L101.3,103.0 L102.0,103.1 L102.7,102.9 L103.4,102.9 L104.0,102.5 L104.7,101.5 L105.4,100.4 L106.1,98.9 L106.8,97.2 L107.4,95.7 L108.1,93.6 L108.8,91.8 L109.5,90.3 L110.2,88.8 L110.8,87.9 L111.5,86.7 L112.2,85.7 L112.9,85.5 L113.6,85.0 L114.3,84.6 L114.9,84.2 L115.6,83.7 L116.3,83.6 L117.0,82.9 L117.7,82.2 L118.3,81.8 L119.0,81.1 L119.7,80.4 L120.4,80.1 L121.1,79.9 L121.7,80.0 L122.4,79.6 L123.1,79.5 L123.8,79.4 L124.5,79.2 L125.1,78.6 L125.8,78.6 L126.5,78.2 L127.2,77.7 L127.9,77.3 L128.5,77.0 L129.2,76.8 L129.9,76.5 L130.6,76.4 L131.3,76.4 L131.9,76.1 L132.6,75.8 L133.3,75.7 L134.0,75.4 L134.7,75.3 L135.3,75.4 L136.0,75.2 L136.7,74.9 L137.4,74.8 L138.1,74.8 L138.7,74.6 L139.4,74.5 L140.1,74.4 L140.8,73.9 L141.5,73.7 L142.1,73.3 L142.8,73.1 L143.5,72.9 L144.2,72.9 L144.9,72.8 L145.5,72.8 L146.2,73.1 L146.9,73.1 L147.6,73.5 L148.3,73.5 L148.9,73.3 L149.6,73.2 L150.3,73.3 L151.0,73.4 L151.7,73.6 L152.4,73.4 L153.0,73.4 L153.7,73.5 L154.4,73.2 L155.1,73.0 L155.8,72.8 L156.4,72.8 L157.1,72.5 L157.8,72.6 L158.5,72.2 L159.2,72.2 L159.8,72.1 L160.5,71.7 L161.2,71.5 L161.9,71.6 L162.6,71.3 L163.2,71.7 L163.9,71.7 L164.6,71.6 L165.3,72.0 L166.0,71.7 L166.6,71.7 L167.3,71.7 L168.0,71.7 L168.7,71.4 L169.4,71.4 L170.0,71.2 L170.7,70.9 L171.4,70.7 L172.1,70.1 L172.8,70.1 L173.4,69.9 L174.1,69.7 L174.8,69.6 L175.5,69.4 L176.2,69.5 L176.8,69.6 L177.5,69.6 L178.2,69.5 L178.9,69.3 L179.6,69.1 L180.2,69.1 L180.9,69.1 L181.6,68.5 L182.3,68.5 L183.0,68.5 L183.6,68.5 L184.3,68.6 L185.0,68.6 L185.7,68.5 L186.4,68.4 L187.0,68.4 L187.7,68.5 L188.4,68.4 L189.1,68.4 L189.8,68.6 L190.4,68.6 L191.1,68.8 L191.8,68.6 L192.5,68.5 L193.2,68.3 L193.9,68.1 L194.5,67.7 L195.2,67.7 L195.9,67.5 L196.6,67.6 L197.3,67.6 L197.9,67.8 L198.6,68.0 L199.3,68.0 L200.0,68.1 L200.7,68.0 L201.3,68.2 L202.0,68.2 L202.7,68.1 L203.4,68.1 L204.1,68.2 L204.7,68.2 L205.4,68.4 L206.1,68.5 L206.8,68.7 L207.5,68.9 L208.1,69.1 L208.8,69.1 L209.5,68.9 L210.2,69.1 L210.9,69.0 L211.5,68.8 L212.2,68.6 L212.9,68.4 L213.6,68.5 L214.3,68.5 L214.9,68.3 L215.6,68.5 L216.3,68.5 L217.0,68.6 L217.7,68.7 L218.3,68.7 L219.0,69.0 L219.7,69.2 L220.4,69.3 L221.1,69.2 L221.7,68.9 L222.4,68.9 L223.1,68.4 L223.8,68.1 L224.5,67.8 L225.1,67.6 L225.8,67.3 L226.5,67.3 L227.2,67.1 L227.9,67.2 L228.5,67.1 L229.2,67.0 L229.9,67.2 L230.6,67.3 L231.3,67.5 L231.9,67.2 L232.6,67.4 L233.3,67.2 L234.0,67.2 L234.7,67.3 L235.4,67.2 L236.0,67.3 L236.7,67.4 L237.4,67.4 L238.1,67.5 L238.8,67.5 L239.4,67.4 L240.1,67.5 L240.8,67.4 L241.5,67.6 L242.2,67.7 L242.8,67.7 L243.5,67.7 L244.2,67.6 L244.9,67.4 L245.6,67.6 L246.2,67.2 L246.9,67.2 L247.6,67.0 L248.3,66.9 L249.0,67.1 L249.6,67.1 L250.3,66.9 L251.0,66.8 L251.7,66.7 L252.4,66.7 L253.0,66.3 L253.7,66.6 L254.4,66.8" fill="none" stroke="#44AA99" stroke-width="1.0" stroke-opacity="1.0" stroke-linejoin="round"/>
<path d="M50.3,103.7 L51.0,103.5 L51.7,103.2 L52.3,103.1 L53.0,102.8 L53.7,102.6 L54.4,102.3 L55.1,102.2 L55.7,102.1 L56.4,102.1 L57.1,102.1 L57.8,102.3 L58.5,102.1 L59.1,102.3 L59.8,102.6 L60.5,102.6 L61.2,102.7 L61.9,103.0 L62.5,103.0 L63.2,103.2 L63.9,103.5 L64.6,103.5 L65.3,103.6 L65.9,103.7 L66.6,103.9 L67.3,104.0 L68.0,104.0 L68.7,103.8 L69.3,103.5 L70.0,103.1 L70.7,102.8 L71.4,102.6 L72.1,102.4 L72.8,102.4 L73.4,102.5 L74.1,102.6 L74.8,103.3 L75.5,103.4 L76.2,103.6 L76.8,103.8 L77.5,104.3 L78.2,104.2 L78.9,104.2 L79.6,104.4 L80.2,104.5 L80.9,104.2 L81.6,104.3 L82.3,104.2 L83.0,104.6 L83.6,104.5 L84.3,105.0 L85.0,105.2 L85.7,105.2 L86.4,105.2 L87.0,104.7 L87.7,104.1 L88.4,103.8 L89.1,103.2 L89.8,103.0 L90.4,102.5 L91.1,102.1 L91.8,102.6 L92.5,102.5 L93.2,102.8 L93.8,103.5 L94.5,103.8 L95.2,104.0 L95.9,104.0 L96.6,104.1 L97.2,104.0 L97.9,103.5 L98.6,102.9 L99.3,101.7 L100.0,100.0 L100.6,97.4 L101.3,94.6 L102.0,91.0 L102.7,87.7 L103.4,84.2 L104.0,80.7 L104.7,77.8 L105.4,75.5 L106.1,73.1 L106.8,71.6 L107.4,70.1 L108.1,68.7 L108.8,67.6 L109.5,66.3 L110.2,65.3 L110.8,64.0 L111.5,63.2 L112.2,62.5 L112.9,61.8 L113.6,61.2 L114.3,60.5 L114.9,59.9 L115.6,59.3 L116.3,59.0 L117.0,58.7 L117.7,58.5 L118.3,58.4 L119.0,58.2 L119.7,58.0 L120.4,57.8 L121.1,57.8 L121.7,57.8 L122.4,57.6 L123.1,57.4 L123.8,57.6 L124.5,57.4 L125.1,57.2 L125.8,57.2 L126.5,57.1 L127.2,56.5 L127.9,56.3 L128.5,56.1 L129.2,55.5 L129.9,55.1 L130.6,55.1 L131.3,54.4 L131.9,54.6 L132.6,54.5 L133.3,54.6 L134.0,54.5 L134.7,54.7 L135.3,54.7 L136.0,54.8 L136.7,55.1 L137.4,55.3 L138.1,55.3 L138.7,55.8 L139.4,55.7 L140.1,55.9 L140.8,55.9 L141.5,55.9 L142.1,55.9 L142.8,56.0 L143.5,56.1 L144.2,56.1 L144.9,56.0 L145.5,55.9 L146.2,55.8 L146.9,55.4 L147.6,55.1 L148.3,54.7 L148.9,54.5 L149.6,54.4 L150.3,54.5 L151.0,54.6 L151.7,54.8 L152.4,55.0 L153.0,54.7 L153.7,54.8 L154.4,54.5 L155.1,54.4 L155.8,54.1 L156.4,54.1 L157.1,53.9 L157.8,53.9 L158.5,53.9 L159.2,53.9 L159.8,53.7 L160.5,53.7 L161.2,53.7 L161.9,53.6 L162.6,53.8 L163.2,53.9 L163.9,54.1 L164.6,54.1 L165.3,54.2 L166.0,54.2 L166.6,53.7 L167.3,53.9 L168.0,53.4 L168.7,53.3 L169.4,53.3 L170.0,53.4 L170.7,53.3 L171.4,53.4 L172.1,53.4 L172.8,53.3 L173.4,53.3 L174.1,53.3 L174.8,53.2 L175.5,53.4 L176.2,53.3 L176.8,53.4 L177.5,53.2 L178.2,53.1 L178.9,53.0 L179.6,53.1 L180.2,53.0 L180.9,53.1 L181.6,53.1 L182.3,53.3 L183.0,53.4 L183.6,53.7 L184.3,53.6 L185.0,53.7 L185.7,53.6 L186.4,53.2 L187.0,53.0 L187.7,53.0 L188.4,52.9 L189.1,52.7 L189.8,52.9 L190.4,53.1 L191.1,52.8 L191.8,53.0 L192.5,53.1 L193.2,52.9 L193.9,52.9 L194.5,52.6 L195.2,52.8 L195.9,52.8 L196.6,52.6 L197.3,52.6 L197.9,52.3 L198.6,52.6 L199.3,52.5 L200.0,52.4 L200.7,52.5 L201.3,52.5 L202.0,52.5 L202.7,52.3 L203.4,52.5 L204.1,52.3 L204.7,52.2 L205.4,52.3 L206.1,52.3 L206.8,52.5 L207.5,52.6 L208.1,52.8 L208.8,52.8 L209.5,53.0 L210.2,52.8 L210.9,53.0 L211.5,52.7 L212.2,52.8 L212.9,53.0 L213.6,53.3 L214.3,53.6 L214.9,53.6 L215.6,53.9 L216.3,53.9 L217.0,54.0 L217.7,53.6 L218.3,53.6 L219.0,53.3 L219.7,53.3 L220.4,53.0 L221.1,52.7 L221.7,52.6 L222.4,52.6 L223.1,52.5 L223.8,52.8 L224.5,52.8 L225.1,53.4 L225.8,53.2 L226.5,53.2 L227.2,53.3 L227.9,53.1 L228.5,52.7 L229.2,52.9 L229.9,52.8 L230.6,52.7 L231.3,52.9 L231.9,52.9 L232.6,53.1 L233.3,53.0 L234.0,53.0 L234.7,53.0 L235.4,53.1 L236.0,52.6 L236.7,52.4 L237.4,52.3 L238.1,51.9 L238.8,52.1 L239.4,51.7 L240.1,52.0 L240.8,51.9 L241.5,52.1 L242.2,52.2 L242.8,52.1 L243.5,52.1 L244.2,52.1 L244.9,52.1 L245.6,52.3 L246.2,52.1 L246.9,52.0 L247.6,52.1 L248.3,52.1 L249.0,52.0 L249.6,51.8 L250.3,51.7 L251.0,51.8 L251.7,51.7 L252.4,51.3 L253.0,51.4 L253.7,51.1 L254.4,51.1" fill="none" stroke="#117733" stroke-width="1.0" stroke-opacity="1.0" stroke-linejoin="round"/>
<path d="M50.3,104.4 L51.0,104.4 L51.7,104.3 L52.3,104.6 L53.0,104.2 L53.7,104.5 L54.4,104.1 L55.1,104.1 L55.7,103.8 L56.4,104.0 L57.1,104.1 L57.8,104.3 L58.5,104.5 L59.1,104.5 L59.8,104.5 L60.5,104.7 L61.2,104.6 L61.9,104.8 L62.5,104.8 L63.2,104.6 L63.9,105.1 L64.6,105.1 L65.3,105.3 L65.9,105.3 L66.6,105.3 L67.3,104.9 L68.0,105.2 L68.7,105.0 L69.3,104.8 L70.0,104.9 L70.7,104.6 L71.4,104.4 L72.1,104.6 L72.8,104.7 L73.4,104.6 L74.1,104.8 L74.8,104.6 L75.5,104.4 L76.2,104.2 L76.8,104.3 L77.5,104.3 L78.2,104.3 L78.9,104.4 L79.6,104.4 L80.2,104.4 L80.9,104.2 L81.6,104.2 L82.3,103.9 L83.0,103.6 L83.6,103.6 L84.3,103.4 L85.0,103.5 L85.7,103.6 L86.4,103.5 L87.0,103.8 L87.7,103.9 L88.4,104.1 L89.1,104.1 L89.8,103.8 L90.4,104.4 L91.1,104.2 L91.8,104.3 L92.5,104.4 L93.2,104.7 L93.8,105.2 L94.5,104.9 L95.2,105.2 L95.9,105.0 L96.6,105.0 L97.2,104.8 L97.9,104.5 L98.6,104.0 L99.3,103.5 L100.0,102.9 L100.6,101.7 L101.3,100.1 L102.0,97.8 L102.7,94.9 L103.4,91.7 L104.0,88.5 L104.7,85.3 L105.4,82.4 L106.1,79.8 L106.8,77.8 L107.4,75.6 L108.1,74.2 L108.8,72.6 L109.5,71.3 L110.2,70.0 L110.8,69.1 L111.5,67.6 L112.2,66.8 L112.9,65.9 L113.6,64.9 L114.3,64.0 L114.9,63.6 L115.6,63.3 L116.3,62.9 L117.0,62.4 L117.7,62.4 L118.3,62.0 L119.0,61.8 L119.7,61.3 L120.4,61.3 L121.1,60.8 L121.7,60.8 L122.4,60.5 L123.1,60.2 L123.8,60.0 L124.5,60.1 L125.1,59.8 L125.8,59.7 L126.5,59.7 L127.2,59.5 L127.9,59.3 L128.5,59.2 L129.2,59.1 L129.9,58.9 L130.6,58.7 L131.3,58.6 L131.9,58.1 L132.6,58.0 L133.3,57.5 L134.0,57.3 L134.7,57.2 L135.3,56.8 L136.0,56.6 L136.7,56.6 L137.4,56.9 L138.1,56.6 L138.7,56.8 L139.4,56.9 L140.1,57.0 L140.8,57.0 L141.5,57.0 L142.1,57.2 L142.8,57.3 L143.5,57.5 L144.2,57.5 L144.9,57.3 L145.5,57.1 L146.2,57.2 L146.9,56.9 L147.6,56.6 L148.3,56.5 L148.9,56.3 L149.6,56.2 L150.3,56.5 L151.0,56.6 L151.7,56.5 L152.4,56.7 L153.0,56.7 L153.7,56.8 L154.4,56.8 L155.1,56.7 L155.8,56.8 L156.4,56.9 L157.1,56.7 L157.8,56.6 L158.5,56.7 L159.2,56.4 L159.8,56.4 L160.5,56.5 L161.2,56.4 L161.9,56.4 L162.6,56.2 L163.2,56.1 L163.9,56.3 L164.6,56.4 L165.3,56.3 L166.0,56.6 L166.6,56.8 L167.3,57.0 L168.0,56.9 L168.7,57.0 L169.4,56.6 L170.0,56.7 L170.7,56.4 L171.4,56.2 L172.1,56.5 L172.8,56.2 L173.4,56.1 L174.1,56.0 L174.8,55.8 L175.5,55.8 L176.2,55.7 L176.8,55.6 L177.5,55.6 L178.2,55.9 L178.9,56.1 L179.6,55.7 L180.2,55.8 L180.9,55.9 L181.6,56.1 L182.3,56.0 L183.0,56.0 L183.6,56.1 L184.3,55.8 L185.0,56.0 L185.7,55.9 L186.4,56.1 L187.0,56.1 L187.7,56.2 L188.4,56.2 L189.1,56.4 L189.8,56.4 L190.4,56.3 L191.1,56.1 L191.8,55.8 L192.5,55.7 L193.2,55.6 L193.9,55.3 L194.5,55.1 L195.2,55.3 L195.9,55.3 L196.6,55.4 L197.3,55.3 L197.9,55.2 L198.6,55.3 L199.3,55.1 L200.0,55.0 L200.7,54.9 L201.3,55.0 L202.0,55.2 L202.7,55.5 L203.4,55.6 L204.1,55.4 L204.7,55.5 L205.4,55.0 L206.1,54.8 L206.8,54.2 L207.5,53.8 L208.1,53.7 L208.8,53.4 L209.5,53.7 L210.2,53.8 L210.9,53.9 L211.5,54.0 L212.2,53.7 L212.9,53.7 L213.6,53.4 L214.3,53.3 L214.9,53.1 L215.6,53.1 L216.3,53.3 L217.0,53.6 L217.7,53.8 L218.3,54.0 L219.0,54.3 L219.7,54.2 L220.4,54.1 L221.1,53.7 L221.7,53.6 L222.4,53.6 L223.1,53.6 L223.8,53.8 L224.5,53.7 L225.1,53.7 L225.8,53.7 L226.5,53.8 L227.2,53.8 L227.9,53.7 L228.5,53.8 L229.2,54.2 L229.9,54.2 L230.6,54.3 L231.3,54.6 L231.9,54.5 L232.6,54.6 L233.3,54.2 L234.0,54.2 L234.7,54.2 L235.4,54.2 L236.0,54.1 L236.7,54.6 L237.4,54.8 L238.1,54.8 L238.8,54.9 L239.4,54.9 L240.1,55.4 L240.8,55.6 L241.5,55.5 L242.2,55.5 L242.8,55.5 L243.5,55.4 L244.2,55.6 L244.9,55.3 L245.6,55.0 L246.2,54.6 L246.9,54.2 L247.6,54.0 L248.3,53.7 L249.0,53.1 L249.6,52.9 L250.3,52.5 L251.0,52.7 L251.7,52.5 L252.4,52.9 L253.0,53.0 L253.7,53.3 L254.4,53.5" fill="none" stroke="#117733" stroke-width="1.0" stroke-opacity="1.0" stroke-linejoin="round"/>
<path d="M50.3,103.7 L51.0,103.7 L51.7,104.0 L52.3,104.0 L53.0,103.8 L53.7,104.0 L54.4,103.8 L55.1,103.8 L55.7,103.7 L56.4,103.7 L57.1,104.0 L57.8,104.4 L58.5,104.3 L59.1,104.8 L59.8,105.0 L60.5,105.4 L61.2,105.5 L61.9,105.4 L62.5,105.4 L63.2,105.5 L63.9,105.2 L64.6,105.4 L65.3,105.3 L65.9,105.0 L66.6,105.3 L67.3,105.0 L68.0,105.0 L68.7,104.5 L69.3,104.3 L70.0,103.8 L70.7,103.7 L71.4,103.4 L72.1,103.1 L72.8,103.2 L73.4,103.2 L74.1,103.2 L74.8,103.5 L75.5,103.7 L76.2,103.9 L76.8,103.8 L77.5,103.7 L78.2,103.5 L78.9,103.5 L79.6,103.2 L80.2,103.5 L80.9,103.8 L81.6,103.7 L82.3,103.9 L83.0,103.8 L83.6,104.0 L84.3,103.4 L85.0,103.3 L85.7,103.1 L86.4,103.3 L87.0,103.1 L87.7,103.4 L88.4,103.7 L89.1,104.3 L89.8,104.8 L90.4,104.9 L91.1,105.1 L91.8,104.9 L92.5,104.9 L93.2,104.6 L93.8,104.4 L94.5,104.1 L95.2,103.9 L95.9,103.8 L96.6,103.6 L97.2,103.7 L97.9,103.6 L98.6,103.7 L99.3,103.9 L100.0,103.6 L100.6,103.1 L101.3,102.7 L102.0,101.8 L102.7,100.3 L103.4,98.4 L104.0,96.0 L104.7,92.9 L105.4,89.9 L106.1,87.0 L106.8,84.1 L107.4,81.5 L108.1,79.2 L108.8,77.0 L109.5,75.2 L110.2,73.5 L110.8,72.3 L111.5,71.0 L112.2,69.6 L112.9,68.6 L113.6,67.6 L114.3,66.1 L114.9,65.0 L115.6,63.3 L116.3,62.2 L117.0,61.2 L117.7,60.6 L118.3,60.0 L119.0,59.5 L119.7,59.3 L120.4,59.3 L121.1,59.1 L121.7,59.0 L122.4,59.0 L123.1,59.2 L123.8,59.3 L124.5,58.9 L125.1,58.8 L125.8,58.4 L126.5,58.0 L127.2,57.8 L127.9,57.8 L128.5,57.5 L129.2,57.3 L129.9,57.4 L130.6,57.2 L131.3,57.0 L131.9,57.0 L132.6,56.9 L133.3,56.8 L134.0,56.5 L134.7,56.5 L135.3,56.3 L136.0,56.5 L136.7,56.4 L137.4,56.5 L138.1,56.8 L138.7,56.6 L139.4,56.7 L140.1,56.5 L140.8,56.7 L141.5,56.8 L142.1,56.8 L142.8,57.0 L143.5,56.8 L144.2,56.7 L144.9,56.6 L145.5,56.3 L146.2,56.3 L146.9,55.9 L147.6,56.0 L148.3,55.7 L148.9,55.7 L149.6,55.6 L150.3,55.7 L151.0,55.2 L151.7,55.4 L152.4,55.3 L153.0,55.2 L153.7,54.8 L154.4,54.9 L155.1,54.6 L155.8,54.9 L156.4,54.9 L157.1,55.1 L157.8,55.3 L158.5,55.7 L159.2,56.0 L159.8,56.0 L160.5,56.2 L161.2,56.2 L161.9,55.8 L162.6,55.9 L163.2,55.4 L163.9,55.3 L164.6,55.3 L165.3,55.1 L166.0,55.2 L166.6,55.5 L167.3,55.6 L168.0,55.5 L168.7,55.4 L169.4,55.3 L170.0,55.2 L170.7,54.9 L171.4,54.7 L172.1,54.5 L172.8,54.5 L173.4,54.7 L174.1,54.8 L174.8,55.2 L175.5,55.3 L176.2,55.3 L176.8,55.1 L177.5,55.5 L178.2,55.1 L178.9,55.1 L179.6,55.1 L180.2,54.8 L180.9,55.0 L181.6,55.0 L182.3,55.2 L183.0,55.0 L183.6,55.1 L184.3,55.0 L185.0,54.9 L185.7,54.9 L186.4,54.7 L187.0,54.6 L187.7,54.5 L188.4,54.5 L189.1,54.6 L189.8,54.1 L190.4,54.1 L191.1,54.4 L191.8,54.6 L192.5,54.8 L193.2,55.2 L193.9,55.2 L194.5,55.5 L195.2,55.6 L195.9,55.5 L196.6,55.7 L197.3,55.4 L197.9,55.2 L198.6,55.3 L199.3,54.8 L200.0,54.8 L200.7,54.5 L201.3,54.4 L202.0,54.4 L202.7,54.3 L203.4,54.3 L204.1,54.0 L204.7,53.9 L205.4,53.5 L206.1,53.4 L206.8,53.7 L207.5,53.5 L208.1,53.6 L208.8,53.8 L209.5,53.7 L210.2,53.7 L210.9,53.8 L211.5,53.7 L212.2,53.5 L212.9,53.6 L213.6,53.4 L214.3,53.5 L214.9,53.8 L215.6,54.0 L216.3,54.1 L217.0,54.2 L217.7,54.3 L218.3,54.4 L219.0,54.1 L219.7,54.1 L220.4,53.9 L221.1,53.7 L221.7,53.8 L222.4,53.6 L223.1,53.5 L223.8,53.5 L224.5,53.2 L225.1,53.3 L225.8,53.7 L226.5,53.5 L227.2,53.7 L227.9,53.6 L228.5,53.8 L229.2,53.9 L229.9,54.0 L230.6,53.9 L231.3,54.0 L231.9,54.0 L232.6,54.0 L233.3,53.9 L234.0,54.1 L234.7,54.0 L235.4,54.1 L236.0,54.2 L236.7,54.0 L237.4,54.2 L238.1,53.9 L238.8,53.8 L239.4,53.3 L240.1,53.1 L240.8,52.7 L241.5,52.4 L242.2,52.4 L242.8,52.1 L243.5,52.1 L244.2,52.0 L244.9,52.0 L245.6,52.0 L246.2,52.0 L246.9,52.0 L247.6,52.4 L248.3,52.7 L249.0,53.1 L249.6,53.3 L250.3,53.4 L251.0,53.7 L251.7,53.8 L252.4,53.6 L253.0,53.4 L253.7,53.2 L254.4,53.0" fill="none" stroke="#117733" stroke-width="1.0" stroke-opacity="1.0" stroke-linejoin="round"/>
<path d="M50.3,104.4 L51.0,104.1 L51.7,104.1 L52.3,104.0 L53.0,103.9 L53.7,103.8 L54.4,103.7 L55.1,103.4 L55.7,103.3 L56.4,103.6 L57.1,103.4 L57.8,103.5 L58.5,103.5 L59.1,103.6 L59.8,103.5 L60.5,103.6 L61.2,103.7 L61.9,104.1 L62.5,104.0 L63.2,104.2 L63.9,104.4 L64.6,104.2 L65.3,104.4 L65.9,104.0 L66.6,103.8 L67.3,103.8 L68.0,103.5 L68.7,103.4 L69.3,103.3 L70.0,103.5 L70.7,103.3 L71.4,103.5 L72.1,103.5 L72.8,103.7 L73.4,103.6 L74.1,103.7 L74.8,103.6 L75.5,103.4 L76.2,103.3 L76.8,103.0 L77.5,102.8 L78.2,102.5 L78.9,102.4 L79.6,102.2 L80.2,102.1 L80.9,102.4 L81.6,102.6 L82.3,103.0 L83.0,103.5 L83.6,103.7 L84.3,103.9 L85.0,104.2 L85.7,104.3 L86.4,104.0 L87.0,104.0 L87.7,103.6 L88.4,103.7 L89.1,103.7 L89.8,103.8 L90.4,103.7 L91.1,103.8 L91.8,103.8 L92.5,103.7 L93.2,103.9 L93.8,103.7 L94.5,104.1 L95.2,104.0 L95.9,104.0 L96.6,103.9 L97.2,103.3 L97.9,103.2 L98.6,102.2 L99.3,101.7 L100.0,100.3 L100.6,98.4 L101.3,96.6 L102.0,93.6 L102.7,90.0 L103.4,86.5 L104.0,82.9 L104.7,79.3 L105.4,76.0 L106.1,72.8 L106.8,69.8 L107.4,67.5 L108.1,65.2 L108.8,63.0 L109.5,61.1 L110.2,59.8 L110.8,58.3 L111.5,57.2 L112.2,56.2 L112.9,55.2 L113.6,54.3 L114.3,53.5 L114.9,52.8 L115.6,51.9 L116.3,51.1 L117.0,50.4 L117.7,50.1 L118.3,49.6 L119.0,49.1 L119.7,48.6 L120.4,48.2 L121.1,47.7 L121.7,47.1 L122.4,47.1 L123.1,46.9 L123.8,47.0 L124.5,46.6 L125.1,46.5 L125.8,46.1 L126.5,46.0 L127.2,45.5 L127.9,45.2 L128.5,44.8 L129.2,44.8 L129.9,44.4 L130.6,44.5 L131.3,44.6 L131.9,44.9 L132.6,45.1 L133.3,45.3 L134.0,45.8 L134.7,45.6 L135.3,45.8 L136.0,46.0 L136.7,45.8 L137.4,45.4 L138.1,45.4 L138.7,45.1 L139.4,44.6 L140.1,44.5 L140.8,44.2 L141.5,44.0 L142.1,43.8 L142.8,43.6 L143.5,43.4 L144.2,43.4 L144.9,43.2 L145.5,43.1 L146.2,43.0 L146.9,42.8 L147.6,42.7 L148.3,42.6 L148.9,42.4 L149.6,42.5 L150.3,42.3 L151.0,42.4 L151.7,42.5 L152.4,42.5 L153.0,42.4 L153.7,42.3 L154.4,42.0 L155.1,41.8 L155.8,41.5 L156.4,40.9 L157.1,40.7 L157.8,40.7 L158.5,40.7 L159.2,41.1 L159.8,41.5 L160.5,42.0 L161.2,42.1 L161.9,42.6 L162.6,42.7 L163.2,43.0 L163.9,42.9 L164.6,42.7 L165.3,42.7 L166.0,42.5 L166.6,42.2 L167.3,42.0 L168.0,41.6 L168.7,41.4 L169.4,41.1 L170.0,41.0 L170.7,40.4 L171.4,40.5 L172.1,40.4 L172.8,40.2 L173.4,40.5 L174.1,40.6 L174.8,41.0 L175.5,41.2 L176.2,41.5 L176.8,41.5 L177.5,41.5 L178.2,41.4 L178.9,41.1 L179.6,40.7 L180.2,40.4 L180.9,39.9 L181.6,39.9 L182.3,40.0 L183.0,40.2 L183.6,40.1 L184.3,40.2 L185.0,39.9 L185.7,39.6 L186.4,39.4 L187.0,39.3 L187.7,39.2 L188.4,39.0 L189.1,39.4 L189.8,39.4 L190.4,39.3 L191.1,39.2 L191.8,38.8 L192.5,38.8 L193.2,38.5 L193.9,37.8 L194.5,38.0 L195.2,38.0 L195.9,38.0 L196.6,38.0 L197.3,38.4 L197.9,38.4 L198.6,38.6 L199.3,38.7 L200.0,38.8 L200.7,38.8 L201.3,38.8 L202.0,39.0 L202.7,38.6 L203.4,39.0 L204.1,39.0 L204.7,38.9 L205.4,39.2 L206.1,39.1 L206.8,39.2 L207.5,39.0 L208.1,39.0 L208.8,38.9 L209.5,38.6 L210.2,38.6 L210.9,38.7 L211.5,38.6 L212.2,38.5 L212.9,38.7 L213.6,38.5 L214.3,38.5 L214.9,38.2 L215.6,38.3 L216.3,37.9 L217.0,38.0 L217.7,37.7 L218.3,37.5 L219.0,37.4 L219.7,37.4 L220.4,37.4 L221.1,37.5 L221.7,37.5 L222.4,37.6 L223.1,37.7 L223.8,37.8 L224.5,37.9 L225.1,37.9 L225.8,38.2 L226.5,38.0 L227.2,37.9 L227.9,37.9 L228.5,37.8 L229.2,37.9 L229.9,38.1 L230.6,38.1 L231.3,38.0 L231.9,38.2 L232.6,38.3 L233.3,38.3 L234.0,38.5 L234.7,38.6 L235.4,38.8 L236.0,38.6 L236.7,38.5 L237.4,38.2 L238.1,37.8 L238.8,37.7 L239.4,37.1 L240.1,36.8 L240.8,36.7 L241.5,36.6 L242.2,36.2 L242.8,36.2 L243.5,35.9 L244.2,35.7 L244.9,35.8 L245.6,35.8 L246.2,35.9 L246.9,36.1 L247.6,36.2 L248.3,36.4 L249.0,36.5 L249.6,37.0 L250.3,37.1 L251.0,37.1 L251.7,37.4 L252.4,37.4 L253.0,37.6 L253.7,37.5 L254.4,37.4" fill="none" stroke="#999933" stroke-width="1.0" stroke-opacity="1.0" stroke-linejoin="round"/>
<path d="M50.3,103.5 L51.0,103.7 L51.7,104.0 L52.3,104.1 L53.0,103.9 L53.7,104.1 L54.4,104.2 L55.1,104.1 L55.7,103.8 L56.4,103.6 L57.1,103.0 L57.8,102.9 L58.5,102.7 L59.1,102.4 L59.8,102.8 L60.5,102.8 L61.2,103.2 L61.9,103.4 L62.5,103.7 L63.2,104.1 L63.9,104.4 L64.6,104.7 L65.3,104.8 L65.9,105.0 L66.6,104.9 L67.3,104.9 L68.0,104.5 L68.7,104.5 L69.3,104.1 L70.0,104.1 L70.7,104.1 L71.4,104.0 L72.1,104.1 L72.8,104.3 L73.4,103.9 L74.1,104.0 L74.8,103.6 L75.5,103.6 L76.2,103.8 L76.8,103.8 L77.5,104.1 L78.2,104.1 L78.9,104.5 L79.6,104.4 L80.2,104.6 L80.9,105.0 L81.6,105.1 L82.3,105.0 L83.0,105.3 L83.6,105.3 L84.3,105.4 L85.0,105.5 L85.7,105.4 L86.4,105.3 L87.0,105.3 L87.7,105.1 L88.4,104.8 L89.1,104.8 L89.8,104.9 L90.4,104.8 L91.1,104.6 L91.8,104.5 L92.5,104.5 L93.2,104.4 L93.8,104.3 L94.5,104.1 L95.2,103.9 L95.9,104.1 L96.6,104.2 L97.2,103.9 L97.9,103.9 L98.6,103.8 L99.3,103.6 L100.0,103.6 L100.6,103.5 L101.3,103.0 L102.0,101.6 L102.7,99.8 L103.4,97.1 L104.0,93.9 L104.7,90.2 L105.4,86.5 L106.1,82.7 L106.8,79.4 L107.4,76.3 L108.1,73.6 L108.8,71.5 L109.5,69.4 L110.2,67.2 L110.8,65.5 L111.5,63.7 L112.2,62.0 L112.9,60.4 L113.6,59.0 L114.3,57.8 L114.9,56.7 L115.6,55.9 L116.3,55.1 L117.0,54.5 L117.7,54.1 L118.3,53.8 L119.0,53.5 L119.7,53.3 L120.4,53.1 L121.1,53.0 L121.7,52.6 L122.4,52.4 L123.1,52.3 L123.8,51.9 L124.5,51.6 L125.1,51.3 L125.8,51.1 L126.5,50.5 L127.2,50.0 L127.9,49.4 L128.5,49.2 L129.2,48.7 L129.9,48.5 L130.6,48.2 L131.3,47.9 L131.9,48.1 L132.6,48.1 L133.3,47.8 L134.0,47.8 L134.7,47.8 L135.3,47.5 L136.0,47.2 L136.7,47.2 L137.4,46.7 L138.1,46.2 L138.7,46.0 L139.4,45.8 L140.1,45.6 L140.8,45.8 L141.5,46.0 L142.1,46.2 L142.8,46.4 L143.5,46.3 L144.2,46.5 L144.9,46.2 L145.5,46.3 L146.2,46.0 L146.9,46.0 L147.6,45.7 L148.3,45.5 L148.9,45.5 L149.6,45.5 L150.3,45.7 L151.0,45.8 L151.7,45.8 L152.4,45.8 L153.0,45.9 L153.7,45.7 L154.4,45.6 L155.1,45.4 L155.8,45.2 L156.4,45.0 L157.1,45.0 L157.8,44.8 L158.5,44.7 L159.2,44.5 L159.8,44.4 L160.5,44.2 L161.2,44.3 L161.9,43.9 L162.6,44.3 L163.2,44.3 L163.9,44.4 L164.6,44.9 L165.3,44.8 L166.0,44.6 L166.6,44.9 L167.3,44.3 L168.0,44.1 L168.7,43.6 L169.4,43.0 L170.0,42.8 L170.7,42.4 L171.4,42.4 L172.1,42.6 L172.8,42.8 L173.4,42.9 L174.1,43.5 L174.8,43.8 L175.5,43.9 L176.2,43.9 L176.8,43.6 L177.5,43.3 L178.2,43.2 L178.9,42.9 L179.6,42.9 L180.2,42.6 L180.9,43.0 L181.6,42.7 L182.3,42.6 L183.0,42.4 L183.6,42.2 L184.3,41.9 L185.0,41.6 L185.7,41.4 L186.4,41.5 L187.0,41.5 L187.7,41.4 L188.4,41.4 L189.1,41.6 L189.8,41.6 L190.4,41.6 L191.1,41.4 L191.8,41.8 L192.5,42.2 L193.2,42.4 L193.9,42.6 L194.5,42.9 L195.2,43.2 L195.9,43.0 L196.6,42.8 L197.3,42.6 L197.9,42.4 L198.6,42.1 L199.3,41.9 L200.0,41.5 L200.7,41.2 L201.3,41.2 L202.0,41.0 L202.7,40.7 L203.4,40.4 L204.1,40.4 L204.7,40.5 L205.4,40.8 L206.1,40.7 L206.8,40.9 L207.5,41.0 L208.1,41.2 L208.8,41.3 L209.5,41.3 L210.2,40.9 L210.9,41.0 L211.5,40.8 L212.2,40.6 L212.9,40.4 L213.6,40.2 L214.3,40.2 L214.9,40.2 L215.6,40.2 L216.3,40.5 L217.0,40.9 L217.7,41.1 L218.3,41.5 L219.0,41.8 L219.7,41.9 L220.4,41.7 L221.1,41.5 L221.7,41.3 L222.4,41.0 L223.1,41.1 L223.8,41.1 L224.5,41.0 L225.1,41.1 L225.8,41.4 L226.5,41.5 L227.2,41.5 L227.9,41.6 L228.5,41.5 L229.2,41.5 L229.9,41.0 L230.6,40.9 L231.3,40.8 L231.9,40.7 L232.6,40.6 L233.3,40.3 L234.0,40.0 L234.7,39.7 L235.4,39.7 L236.0,39.4 L236.7,39.5 L237.4,39.5 L238.1,39.8 L238.8,39.8 L239.4,39.9 L240.1,40.1 L240.8,40.4 L241.5,40.5 L242.2,40.6 L242.8,40.9 L243.5,40.9 L244.2,40.7 L244.9,40.8 L245.6,40.5 L246.2,40.6 L246.9,40.5 L247.6,40.3 L248.3,40.0 L249.0,40.3 L249.6,40.2 L250.3,40.2 L251.0,40.4 L251.7,40.1 L252.4,40.2 L253.0,40.1 L253.7,40.3 L254.4,40.2" fill="none" stroke="#999933" stroke-width="1.0" stroke-opacity="1.0" stroke-linejoin="round"/>
<path d="M50.3,104.2 L51.0,104.3 L51.7,104.0 L52.3,103.7 L53.0,103.6 L53.7,103.4 L54.4,102.9 L55.1,102.7 L55.7,102.5 L56.4,102.5 L57.1,102.7 L57.8,102.6 L58.5,102.6 L59.1,102.9 L59.8,103.0 L60.5,103.3 L61.2,103.5 L61.9,103.8 L62.5,104.5 L63.2,104.6 L63.9,104.8 L64.6,105.0 L65.3,104.9 L65.9,104.7 L66.6,104.5 L67.3,104.3 L68.0,104.2 L68.7,104.3 L69.3,104.3 L70.0,104.4 L70.7,104.7 L71.4,104.6 L72.1,104.7 L72.8,105.0 L73.4,104.8 L74.1,105.0 L74.8,104.9 L75.5,104.5 L76.2,104.7 L76.8,104.4 L77.5,104.0 L78.2,103.9 L78.9,103.9 L79.6,103.6 L80.2,103.8 L80.9,104.1 L81.6,104.2 L82.3,104.4 L83.0,104.6 L83.6,105.3 L84.3,105.3 L85.0,105.5 L85.7,105.8 L86.4,105.6 L87.0,105.8 L87.7,105.6 L88.4,105.3 L89.1,105.1 L89.8,104.7 L90.4,104.3 L91.1,103.8 L91.8,103.3 L92.5,103.2 L93.2,103.0 L93.8,102.9 L94.5,103.3 L95.2,103.4 L95.9,103.4 L96.6,103.4 L97.2,103.4 L97.9,103.0 L98.6,102.2 L99.3,101.1 L100.0,99.5 L100.6,97.0 L101.3,94.0 L102.0,90.6 L102.7,86.7 L103.4,83.3 L104.0,80.0 L104.7,76.9 L105.4,74.0 L106.1,71.7 L106.8,69.6 L107.4,67.5 L108.1,65.6 L108.8,63.8 L109.5,62.0 L110.2,60.4 L110.8,59.0 L111.5,57.7 L112.2,56.5 L112.9,55.8 L113.6,54.7 L114.3,54.2 L114.9,53.7 L115.6,53.6 L116.3,52.9 L117.0,53.0 L117.7,52.7 L118.3,52.2 L119.0,52.0 L119.7,51.6 L120.4,51.4 L121.1,50.7 L121.7,50.3 L122.4,49.8 L123.1,49.6 L123.8,49.3 L124.5,49.0 L125.1,49.0 L125.8,48.9 L126.5,48.5 L127.2,48.7 L127.9,48.4 L128.5,48.5 L129.2,48.4 L129.9,48.6 L130.6,48.6 L131.3,48.5 L131.9,48.4 L132.6,48.0 L133.3,47.6 L134.0,47.1 L134.7,46.7 L135.3,46.4 L136.0,46.5 L136.7,46.7 L137.4,46.7 L138.1,46.7 L138.7,46.7 L139.4,46.3 L140.1,46.2 L140.8,46.0 L141.5,46.2 L142.1,46.3 L142.8,46.4 L143.5,46.9 L144.2,47.0 L144.9,47.0 L145.5,47.0 L146.2,46.7 L146.9,46.5 L147.6,46.1 L148.3,46.0 L148.9,45.9 L149.6,45.5 L150.3,45.7 L151.0,45.8 L151.7,45.5 L152.4,45.5 L153.0,45.7 L153.7,45.1 L154.4,44.7 L155.1,44.5 L155.8,44.0 L156.4,43.9 L157.1,43.7 L157.8,43.7 L158.5,43.5 L159.2,43.4 L159.8,43.5 L160.5,43.6 L161.2,43.8 L161.9,43.8 L162.6,44.0 L163.2,43.9 L163.9,44.1 L164.6,44.1 L165.3,44.2 L166.0,43.9 L166.6,44.1 L167.3,43.8 L168.0,43.3 L168.7,43.3 L169.4,43.2 L170.0,42.9 L170.7,42.7 L171.4,42.7 L172.1,43.0 L172.8,42.8 L173.4,43.1 L174.1,42.8 L174.8,43.0 L175.5,43.1 L176.2,43.1 L176.8,43.1 L177.5,43.3 L178.2,42.9 L178.9,42.9 L179.6,42.8 L180.2,42.2 L180.9,41.9 L181.6,41.7 L182.3,41.6 L183.0,41.6 L183.6,41.3 L184.3,41.1 L185.0,41.2 L185.7,41.2 L186.4,41.4 L187.0,41.3 L187.7,41.3 L188.4,41.5 L189.1,41.6 L189.8,41.5 L190.4,41.4 L191.1,41.3 L191.8,41.4 L192.5,41.4 L193.2,41.5 L193.9,41.6 L194.5,41.7 L195.2,41.8 L195.9,42.0 L196.6,41.9 L197.3,41.9 L197.9,41.6 L198.6,41.5 L199.3,41.1 L200.0,41.1 L200.7,41.0 L201.3,41.1 L202.0,41.1 L202.7,41.0 L203.4,40.9 L204.1,40.8 L204.7,40.7 L205.4,40.5 L206.1,40.5 L206.8,40.5 L207.5,40.6 L208.1,41.0 L208.8,41.3 L209.5,41.3 L210.2,41.6 L210.9,41.6 L211.5,41.5 L212.2,41.5 L212.9,41.7 L213.6,41.7 L214.3,41.7 L214.9,41.8 L215.6,41.5 L216.3,41.4 L217.0,41.0 L217.7,41.0 L218.3,40.5 L219.0,40.4 L219.7,40.0 L220.4,39.8 L221.1,39.3 L221.7,39.0 L222.4,38.7 L223.1,38.4 L223.8,38.2 L224.5,38.3 L225.1,38.4 L225.8,38.7 L226.5,39.2 L227.2,39.1 L227.9,39.4 L228.5,39.4 L229.2,39.4 L229.9,39.7 L230.6,39.9 L231.3,40.0 L231.9,40.2 L232.6,40.2 L233.3,40.4 L234.0,40.4 L234.7,40.2 L235.4,40.4 L236.0,40.1 L236.7,40.0 L237.4,39.7 L238.1,39.3 L238.8,39.0 L239.4,39.0 L240.1,38.9 L240.8,38.9 L241.5,38.9 L242.2,38.8 L242.8,38.8 L243.5,39.4 L244.2,39.5 L244.9,39.2 L245.6,39.6 L246.2,39.4 L246.9,39.6 L247.6,39.3 L248.3,39.2 L249.0,39.2 L249.6,39.1 L250.3,39.0 L251.0,38.9 L251.7,38.7 L252.4,38.7 L253.0,38.8 L253.7,38.7 L254.4,38.7" fill="none" stroke="#999933" stroke-width="1.0" stroke-opacity="1.0" stroke-linejoin="round"/>
<path d="M50.3,103.6 L51.0,104.0 L51.7,103.8 L52.3,104.1 L53.0,103.9 L53.7,103.3 L54.4,103.3 L55.1,103.3 L55.7,103.0 L56.4,103.1 L57.1,103.2 L57.8,103.4 L58.5,103.3 L59.1,103.3 L59.8,103.4 L60.5,103.2 L61.2,103.3 L61.9,103.2 L62.5,103.4 L63.2,103.8 L63.9,104.0 L64.6,104.2 L65.3,104.4 L65.9,104.7 L66.6,104.8 L67.3,104.8 L68.0,104.8 L68.7,104.6 L69.3,104.6 L70.0,104.5 L70.7,104.4 L71.4,104.0 L72.1,103.9 L72.8,103.8 L73.4,103.7 L74.1,103.7 L74.8,103.5 L75.5,103.7 L76.2,103.4 L76.8,103.3 L77.5,102.9 L78.2,102.9 L78.9,102.8 L79.6,102.7 L80.2,102.7 L80.9,102.9 L81.6,102.9 L82.3,103.1 L83.0,102.9 L83.6,103.2 L84.3,103.4 L85.0,103.1 L85.7,102.7 L86.4,102.9 L87.0,102.3 L87.7,102.6 L88.4,102.6 L89.1,102.8 L89.8,102.9 L90.4,103.1 L91.1,103.2 L91.8,103.3 L92.5,103.1 L93.2,103.4 L93.8,103.3 L94.5,103.3 L95.2,103.4 L95.9,103.3 L96.6,103.3 L97.2,103.3 L97.9,103.0 L98.6,102.5 L99.3,101.6 L100.0,99.8 L100.6,97.0 L101.3,93.2 L102.0,88.8 L102.7,84.2 L103.4,79.7 L104.0,75.2 L104.7,71.2 L105.4,67.4 L106.1,64.1 L106.8,61.0 L107.4,58.2 L108.1,55.7 L108.8,53.2 L109.5,51.3 L110.2,49.3 L110.8,47.5 L111.5,45.6 L112.2,43.9 L112.9,42.6 L113.6,41.4 L114.3,39.9 L114.9,38.8 L115.6,38.2 L116.3,37.5 L117.0,37.0 L117.7,36.8 L118.3,36.3 L119.0,36.0 L119.7,35.7 L120.4,35.4 L121.1,34.8 L121.7,34.2 L122.4,33.6 L123.1,33.4 L123.8,32.9 L124.5,33.0 L125.1,33.4 L125.8,33.1 L126.5,33.3 L127.2,33.2 L127.9,32.9 L128.5,32.6 L129.2,31.9 L129.9,31.5 L130.6,30.8 L131.3,30.0 L131.9,29.6 L132.6,29.4 L133.3,29.2 L134.0,28.9 L134.7,28.9 L135.3,28.8 L136.0,28.7 L136.7,28.8 L137.4,28.6 L138.1,29.0 L138.7,28.7 L139.4,29.1 L140.1,29.2 L140.8,29.3 L141.5,29.3 L142.1,29.4 L142.8,29.3 L143.5,29.1 L144.2,28.8 L144.9,28.5 L145.5,28.3 L146.2,27.9 L146.9,27.6 L147.6,27.1 L148.3,27.0 L148.9,27.0 L149.6,27.0 L150.3,27.2 L151.0,27.4 L151.7,27.6 L152.4,27.7 L153.0,27.3 L153.7,27.3 L154.4,27.4 L155.1,27.2 L155.8,27.0 L156.4,26.9 L157.1,27.2 L157.8,27.2 L158.5,27.3 L159.2,27.8 L159.8,27.9 L160.5,27.9 L161.2,27.9 L161.9,27.5 L162.6,27.4 L163.2,27.2 L163.9,27.0 L164.6,26.5 L165.3,26.1 L166.0,25.9 L166.6,25.5 L167.3,25.3 L168.0,25.0 L168.7,24.9 L169.4,25.0 L170.0,25.3 L170.7,25.5 L171.4,25.9 L172.1,26.1 L172.8,26.0 L173.4,26.1 L174.1,26.2 L174.8,26.0 L175.5,25.8 L176.2,25.6 L176.8,25.3 L177.5,25.0 L178.2,24.6 L178.9,24.3 L179.6,24.3 L180.2,24.5 L180.9,24.7 L181.6,25.1 L182.3,25.3 L183.0,25.5 L183.6,25.4 L184.3,25.4 L185.0,25.1 L185.7,24.8 L186.4,24.9 L187.0,24.8 L187.7,24.6 L188.4,24.6 L189.1,24.5 L189.8,24.5 L190.4,24.3 L191.1,24.3 L191.8,24.5 L192.5,24.3 L193.2,24.3 L193.9,24.3 L194.5,24.6 L195.2,24.7 L195.9,24.5 L196.6,24.6 L197.3,24.3 L197.9,24.0 L198.6,23.6 L199.3,23.4 L200.0,23.3 L200.7,22.9 L201.3,23.0 L202.0,23.0 L202.7,22.7 L203.4,22.7 L204.1,22.8 L204.7,22.5 L205.4,22.3 L206.1,22.3 L206.8,22.3 L207.5,22.0 L208.1,22.1 L208.8,22.3 L209.5,22.5 L210.2,22.5 L210.9,22.5 L211.5,22.7 L212.2,22.6 L212.9,22.5 L213.6,22.4 L214.3,22.3 L214.9,22.4 L215.6,22.3 L216.3,22.1 L217.0,22.3 L217.7,22.2 L218.3,22.2 L219.0,22.0 L219.7,22.1 L220.4,22.1 L221.1,22.1 L221.7,22.0 L222.4,21.9 L223.1,22.0 L223.8,22.2 L224.5,22.0 L225.1,22.1 L225.8,22.1 L226.5,21.7 L227.2,21.5 L227.9,21.1 L228.5,20.8 L229.2,20.5 L229.9,20.5 L230.6,20.7 L231.3,20.6 L231.9,20.9 L232.6,21.0 L233.3,21.2 L234.0,21.3 L234.7,21.4 L235.4,21.3 L236.0,21.5 L236.7,21.7 L237.4,21.7 L238.1,22.2 L238.8,22.1 L239.4,22.2 L240.1,22.3 L240.8,22.0 L241.5,21.8 L242.2,21.6 L242.8,21.4 L243.5,21.0 L244.2,21.0 L244.9,20.7 L245.6,20.3 L246.2,20.0 L246.9,19.5 L247.6,19.5 L248.3,19.6 L249.0,19.4 L249.6,19.7 L250.3,20.3 L251.0,20.5 L251.7,20.8 L252.4,21.3 L253.0,21.4 L253.7,21.5 L254.4,21.3" fill="none" stroke="#DDCC77" stroke-width="1.0" stroke-opacity="1.0" stroke-linejoin="round"/>
<path d="M50.3,104.3 L51.0,104.6 L51.7,104.5 L52.3,104.6 L53.0,104.7 L53.7,104.7 L54.4,104.1 L55.1,104.3 L55.7,104.2 L56.4,104.0 L57.1,104.1 L57.8,104.1 L58.5,104.0 L59.1,104.0 L59.8,103.7 L60.5,103.7 L61.2,103.3 L61.9,103.1 L62.5,103.3 L63.2,102.9 L63.9,103.2 L64.6,103.0 L65.3,103.3 L65.9,103.3 L66.6,103.6 L67.3,103.6 L68.0,104.0 L68.7,104.2 L69.3,104.6 L70.0,104.7 L70.7,104.7 L71.4,104.5 L72.1,104.0 L72.8,103.7 L73.4,103.5 L74.1,103.5 L74.8,103.4 L75.5,103.3 L76.2,103.5 L76.8,103.5 L77.5,103.7 L78.2,104.0 L78.9,104.2 L79.6,104.5 L80.2,104.7 L80.9,104.7 L81.6,104.4 L82.3,104.4 L83.0,104.2 L83.6,103.6 L84.3,103.6 L85.0,103.5 L85.7,103.2 L86.4,103.4 L87.0,103.7 L87.7,103.9 L88.4,104.3 L89.1,104.6 L89.8,105.1 L90.4,105.4 L91.1,105.5 L91.8,105.1 L92.5,104.8 L93.2,104.5 L93.8,103.8 L94.5,103.6 L95.2,103.2 L95.9,103.4 L96.6,103.4 L97.2,103.7 L97.9,104.0 L98.6,104.2 L99.3,104.3 L100.0,104.3 L100.6,103.9 L101.3,102.5 L102.0,101.1 L102.7,98.8 L103.4,95.8 L104.0,92.4 L104.7,88.5 L105.4,84.6 L106.1,81.4 L106.8,77.9 L107.4,74.9 L108.1,71.6 L108.8,68.9 L109.5,66.3 L110.2,63.8 L110.8,61.6 L111.5,59.6 L112.2,57.8 L112.9,56.1 L113.6,54.3 L114.3,52.8 L114.9,51.0 L115.6,50.0 L116.3,48.9 L117.0,48.0 L117.7,47.1 L118.3,46.7 L119.0,46.0 L119.7,45.5 L120.4,44.9 L121.1,44.5 L121.7,43.6 L122.4,43.3 L123.1,42.8 L123.8,42.2 L124.5,41.7 L125.1,41.0 L125.8,40.6 L126.5,39.9 L127.2,39.4 L127.9,39.1 L128.5,38.7 L129.2,38.6 L129.9,38.3 L130.6,38.2 L131.3,38.1 L131.9,37.7 L132.6,37.3 L133.3,37.3 L134.0,37.0 L134.7,36.8 L135.3,36.6 L136.0,36.4 L136.7,36.1 L137.4,36.0 L138.1,35.3 L138.7,35.0 L139.4,34.8 L140.1,34.2 L140.8,34.1 L141.5,33.8 L142.1,33.8 L142.8,33.3 L143.5,33.3 L144.2,33.3 L144.9,32.8 L145.5,32.7 L146.2,32.6 L146.9,32.4 L147.6,32.3 L148.3,31.8 L148.9,31.6 L149.6,31.3 L150.3,30.9 L151.0,30.9 L151.7,31.0 L152.4,31.1 L153.0,31.0 L153.7,31.0 L154.4,31.2 L155.1,31.2 L155.8,30.8 L156.4,30.6 L157.1,30.3 L157.8,29.7 L158.5,29.7 L159.2,29.3 L159.8,29.3 L160.5,29.0 L161.2,28.9 L161.9,28.8 L162.6,29.1 L163.2,28.8 L163.9,28.7 L164.6,28.6 L165.3,28.1 L166.0,28.2 L166.6,28.1 L167.3,27.9 L168.0,28.2 L168.7,27.9 L169.4,28.0 L170.0,28.2 L170.7,28.1 L171.4,28.1 L172.1,28.0 L172.8,28.2 L173.4,28.3 L174.1,28.5 L174.8,28.4 L175.5,28.7 L176.2,28.6 L176.8,28.5 L177.5,28.4 L178.2,28.2 L178.9,27.6 L179.6,27.4 L180.2,27.0 L180.9,26.8 L181.6,27.0 L182.3,27.1 L183.0,26.8 L183.6,27.0 L184.3,26.9 L185.0,26.4 L185.7,26.0 L186.4,25.6 L187.0,25.2 L187.7,25.0 L188.4,25.1 L189.1,25.2 L189.8,25.8 L190.4,26.1 L191.1,26.3 L191.8,26.8 L192.5,26.9 L193.2,27.2 L193.9,27.5 L194.5,27.2 L195.2,27.2 L195.9,26.7 L196.6,26.2 L197.3,25.8 L197.9,25.7 L198.6,25.4 L199.3,25.3 L200.0,25.1 L200.7,25.3 L201.3,25.0 L202.0,24.7 L202.7,24.6 L203.4,24.6 L204.1,24.4 L204.7,24.4 L205.4,24.4 L206.1,24.4 L206.8,24.3 L207.5,24.1 L208.1,23.8 L208.8,23.7 L209.5,23.8 L210.2,23.9 L210.9,24.1 L211.5,24.2 L212.2,24.6 L212.9,25.0 L213.6,25.4 L214.3,25.7 L214.9,26.0 L215.6,26.2 L216.3,26.2 L217.0,26.1 L217.7,26.0 L218.3,26.0 L219.0,25.9 L219.7,25.5 L220.4,25.5 L221.1,25.3 L221.7,25.2 L222.4,25.4 L223.1,25.6 L223.8,25.8 L224.5,26.0 L225.1,25.9 L225.8,26.0 L226.5,25.8 L227.2,25.5 L227.9,25.4 L228.5,25.2 L229.2,25.1 L229.9,25.3 L230.6,25.0 L231.3,25.0 L231.9,24.5 L232.6,24.5 L233.3,24.3 L234.0,24.1 L234.7,24.3 L235.4,24.2 L236.0,24.2 L236.7,24.4 L237.4,24.3 L238.1,24.5 L238.8,24.6 L239.4,24.7 L240.1,24.7 L240.8,24.5 L241.5,24.4 L242.2,24.5 L242.8,24.3 L243.5,24.4 L244.2,24.7 L244.9,25.0 L245.6,25.1 L246.2,25.3 L246.9,25.3 L247.6,25.1 L248.3,25.3 L249.0,25.1 L249.6,24.9 L250.3,24.8 L251.0,24.8 L251.7,24.9 L252.4,24.9 L253.0,24.8 L253.7,24.7 L254.4,24.9" fill="none" stroke="#DDCC77" stroke-width="1.0" stroke-opacity="1.0" stroke-linejoin="round"/>
<path d="M50.3,104.1 L51.0,104.3 L51.7,104.1 L52.3,104.1 L53.0,104.2 L53.7,104.0 L54.4,104.0 L55.1,103.8 L55.7,103.8 L56.4,103.5 L57.1,103.4 L57.8,103.6 L58.5,103.4 L59.1,103.7 L59.8,103.5 L60.5,103.3 L61.2,102.9 L61.9,103.0 L62.5,102.8 L63.2,103.1 L63.9,102.9 L64.6,103.0 L65.3,103.3 L65.9,103.7 L66.6,103.6 L67.3,103.6 L68.0,103.6 L68.7,103.7 L69.3,103.9 L70.0,103.8 L70.7,103.7 L71.4,104.1 L72.1,104.1 L72.8,104.5 L73.4,104.6 L74.1,104.7 L74.8,105.0 L75.5,104.7 L76.2,105.1 L76.8,105.2 L77.5,105.4 L78.2,105.4 L78.9,105.4 L79.6,105.4 L80.2,105.3 L80.9,105.0 L81.6,105.0 L82.3,105.2 L83.0,105.1 L83.6,104.9 L84.3,104.9 L85.0,104.8 L85.7,104.9 L86.4,104.7 L87.0,104.8 L87.7,104.8 L88.4,104.7 L89.1,104.6 L89.8,104.5 L90.4,104.3 L91.1,104.2 L91.8,104.0 L92.5,104.0 L93.2,103.8 L93.8,103.8 L94.5,103.9 L95.2,103.9 L95.9,104.0 L96.6,104.1 L97.2,104.2 L97.9,104.0 L98.6,104.0 L99.3,103.6 L100.0,102.8 L100.6,101.5 L101.3,99.4 L102.0,96.6 L102.7,93.0 L103.4,88.5 L104.0,84.5 L104.7,80.3 L105.4,76.6 L106.1,73.2 L106.8,69.8 L107.4,67.5 L108.1,65.0 L108.8,62.8 L109.5,60.9 L110.2,59.0 L110.8,57.0 L111.5,55.1 L112.2,53.4 L112.9,51.7 L113.6,50.6 L114.3,49.4 L114.9,48.5 L115.6,48.0 L116.3,47.7 L117.0,47.6 L117.7,46.8 L118.3,46.4 L119.0,46.0 L119.7,45.3 L120.4,45.0 L121.1,44.4 L121.7,44.0 L122.4,43.4 L123.1,43.0 L123.8,42.7 L124.5,42.3 L125.1,42.1 L125.8,42.1 L126.5,41.7 L127.2,41.5 L127.9,41.5 L128.5,41.3 L129.2,41.0 L129.9,40.8 L130.6,40.5 L131.3,40.1 L131.9,39.8 L132.6,39.2 L133.3,39.2 L134.0,39.0 L134.7,38.6 L135.3,38.4 L136.0,38.5 L136.7,38.4 L137.4,38.4 L138.1,38.1 L138.7,38.1 L139.4,38.2 L140.1,38.1 L140.8,38.0 L141.5,38.1 L142.1,37.8 L142.8,37.8 L143.5,37.7 L144.2,37.6 L144.9,37.4 L145.5,37.2 L146.2,37.1 L146.9,37.0 L147.6,37.0 L148.3,37.0 L148.9,37.1 L149.6,37.5 L150.3,37.8 L151.0,37.6 L151.7,37.8 L152.4,37.7 L153.0,37.3 L153.7,36.9 L154.4,36.5 L155.1,35.9 L155.8,35.7 L156.4,35.3 L157.1,35.2 L157.8,35.1 L158.5,35.3 L159.2,35.4 L159.8,35.6 L160.5,35.7 L161.2,35.8 L161.9,35.4 L162.6,35.3 L163.2,35.0 L163.9,34.5 L164.6,34.2 L165.3,33.9 L166.0,33.7 L166.6,33.6 L167.3,33.8 L168.0,34.1 L168.7,34.1 L169.4,33.8 L170.0,34.0 L170.7,33.6 L171.4,33.6 L172.1,33.3 L172.8,33.2 L173.4,33.2 L174.1,32.9 L174.8,32.5 L175.5,32.6 L176.2,32.3 L176.8,32.1 L177.5,31.8 L178.2,31.5 L178.9,31.3 L179.6,31.0 L180.2,31.2 L180.9,31.3 L181.6,31.5 L182.3,31.8 L183.0,32.1 L183.6,32.0 L184.3,32.3 L185.0,31.9 L185.7,31.8 L186.4,31.8 L187.0,31.7 L187.7,31.4 L188.4,31.3 L189.1,31.2 L189.8,31.5 L190.4,31.6 L191.1,31.7 L191.8,31.8 L192.5,32.0 L193.2,32.1 L193.9,32.1 L194.5,31.9 L195.2,31.7 L195.9,31.5 L196.6,31.2 L197.3,31.2 L197.9,31.3 L198.6,31.2 L199.3,31.5 L200.0,31.6 L200.7,31.3 L201.3,31.7 L202.0,31.7 L202.7,31.7 L203.4,31.4 L204.1,31.6 L204.7,31.5 L205.4,31.7 L206.1,31.9 L206.8,31.8 L207.5,31.7 L208.1,31.6 L208.8,31.1 L209.5,30.6 L210.2,30.0 L210.9,29.7 L211.5,29.5 L212.2,29.5 L212.9,29.7 L213.6,29.9 L214.3,30.4 L214.9,30.8 L215.6,30.9 L216.3,30.9 L217.0,30.9 L217.7,30.7 L218.3,30.8 L219.0,30.5 L219.7,30.3 L220.4,30.4 L221.1,30.4 L221.7,30.5 L222.4,30.7 L223.1,30.5 L223.8,30.8 L224.5,30.5 L225.1,30.5 L225.8,30.5 L226.5,30.5 L227.2,30.4 L227.9,30.5 L228.5,30.3 L229.2,30.3 L229.9,29.6 L230.6,29.3 L231.3,28.8 L231.9,28.9 L232.6,28.9 L233.3,28.8 L234.0,28.8 L234.7,28.9 L235.4,29.0 L236.0,29.0 L236.7,29.0 L237.4,29.4 L238.1,29.2 L238.8,29.8 L239.4,29.8 L240.1,29.8 L240.8,29.9 L241.5,29.6 L242.2,29.2 L242.8,29.1 L243.5,28.7 L244.2,28.6 L244.9,28.5 L245.6,28.4 L246.2,28.4 L246.9,28.4 L247.6,28.1 L248.3,28.0 L249.0,27.9 L249.6,28.0 L250.3,27.7 L251.0,27.6 L251.7,27.6 L252.4,27.7 L253.0,27.8 L253.7,28.0 L254.4,28.0" fill="none" stroke="#DDCC77" stroke-width="1.0" stroke-opacity="1.0" stroke-linejoin="round"/>
<line x1="50.30" y1="15.00" x2="50.30" y2="124.50" stroke="#262626" stroke-width="1.1" />
<line x1="49.80" y1="124.00" x2="254.90" y2="124.00" stroke="#262626" stroke-width="1.1" />
<line x1="254.40" y1="15.40" x2="254.40" y2="124.50" stroke="#262626" stroke-width="1.1" />
<line x1="46.30" y1="104.00" x2="50.30" y2="104.00" stroke="#262626" stroke-width="1.0" />
<text class="s" x="41.20" y="106.10" font-size="7" text-anchor="end" fill="#1a1a1a" >0</text>
<line x1="46.30" y1="77.80" x2="50.30" y2="77.80" stroke="#262626" stroke-width="1.0" />
<text class="s" x="41.20" y="79.90" font-size="7" text-anchor="end" fill="#1a1a1a" >2000</text>
<line x1="46.30" y1="51.60" x2="50.30" y2="51.60" stroke="#262626" stroke-width="1.0" />
<text class="s" x="41.20" y="53.70" font-size="7" text-anchor="end" fill="#1a1a1a" >4000</text>
<line x1="46.30" y1="25.40" x2="50.30" y2="25.40" stroke="#262626" stroke-width="1.0" />
<text class="s" x="41.20" y="27.50" font-size="7" text-anchor="end" fill="#1a1a1a" >6000</text>
<line x1="254.40" y1="104.20" x2="257.90" y2="104.20" stroke="#262626" stroke-width="1.0" />
<text class="s" x="262.60" y="106.50" font-size="7" text-anchor="start" fill="#1a1a1a" >0.00</text>
<line x1="254.40" y1="74.70" x2="257.90" y2="74.70" stroke="#262626" stroke-width="1.0" />
<text class="s" x="262.60" y="77.00" font-size="7" text-anchor="start" fill="#1a1a1a" >0.01</text>
<line x1="254.40" y1="45.20" x2="257.90" y2="45.20" stroke="#262626" stroke-width="1.0" />
<text class="s" x="262.60" y="47.50" font-size="7" text-anchor="start" fill="#1a1a1a" >0.02</text>
<line x1="254.40" y1="15.70" x2="257.90" y2="15.70" stroke="#262626" stroke-width="1.0" />
<text class="s" x="262.60" y="18.00" font-size="7" text-anchor="start" fill="#1a1a1a" >0.03</text>
<line x1="50.30" y1="124.00" x2="50.30" y2="128.00" stroke="#262626" stroke-width="1.0" />
<text class="s" x="50.30" y="137.60" font-size="7" text-anchor="middle" fill="#1a1a1a" >0</text>
<line x1="84.32" y1="124.00" x2="84.32" y2="128.00" stroke="#262626" stroke-width="1.0" />
<text class="s" x="84.32" y="137.60" font-size="7" text-anchor="middle" fill="#1a1a1a" >100</text>
<line x1="118.33" y1="124.00" x2="118.33" y2="128.00" stroke="#262626" stroke-width="1.0" />
<text class="s" x="118.33" y="137.60" font-size="7" text-anchor="middle" fill="#1a1a1a" >200</text>
<line x1="152.35" y1="124.00" x2="152.35" y2="128.00" stroke="#262626" stroke-width="1.0" />
<text class="s" x="152.35" y="137.60" font-size="7" text-anchor="middle" fill="#1a1a1a" >300</text>
<line x1="186.37" y1="124.00" x2="186.37" y2="128.00" stroke="#262626" stroke-width="1.0" />
<text class="s" x="186.37" y="137.60" font-size="7" text-anchor="middle" fill="#1a1a1a" >400</text>
<line x1="220.38" y1="124.00" x2="220.38" y2="128.00" stroke="#262626" stroke-width="1.0" />
<text class="s" x="220.38" y="137.60" font-size="7" text-anchor="middle" fill="#1a1a1a" >500</text>
<line x1="254.40" y1="124.00" x2="254.40" y2="128.00" stroke="#262626" stroke-width="1.0" />
<text class="s" x="254.40" y="137.60" font-size="7" text-anchor="middle" fill="#1a1a1a" >600</text>
<text x="6.70" y="17.20" font-size="14" text-anchor="start" fill="#1a1a1a" letter-spacing="0.3">(a)</text>
<text transform="translate(23.0,68.9) rotate(-90)" font-size="9.9" text-anchor="middle" fill="#1a1a1a">Γ (pg/mm<tspan dy="-3.3" font-size="6.5">2</tspan><tspan dy="3.3">)</tspan></text>
<text transform="translate(285.2,69.8) rotate(-90)" font-size="10.4" text-anchor="middle" fill="#1a1a1a">Δ<tspan font-style="italic">n</tspan><tspan dy="2" font-size="7.2" font-style="italic">c</tspan></text>
<line x1="54.20" y1="22.20" x2="64.30" y2="22.20" stroke="#332288" stroke-width="1.3" stroke-opacity="0.55"/>
<text x="67.9" y="23.95" font-size="4.7" fill="#222" textLength="29.0" lengthAdjust="spacingAndGlyphs">Δ<tspan font-style="italic">n</tspan><tspan dy="0.8" font-size="3.3" font-style="italic">c</tspan><tspan dy="-0.8"> = 0.0054</tspan></text>
<line x1="54.20" y1="29.68" x2="64.30" y2="29.68" stroke="#88CCEE" stroke-width="1.3" stroke-opacity="0.55"/>
<text x="67.9" y="31.43" font-size="4.7" fill="#222" textLength="29.0" lengthAdjust="spacingAndGlyphs">Δ<tspan font-style="italic">n</tspan><tspan dy="0.8" font-size="3.3" font-style="italic">c</tspan><tspan dy="-0.8"> = 0.0105</tspan></text>
<line x1="54.20" y1="37.16" x2="64.30" y2="37.16" stroke="#44AA99" stroke-width="1.3" stroke-opacity="0.55"/>
<text x="67.9" y="38.91" font-size="4.7" fill="#222" textLength="29.0" lengthAdjust="spacingAndGlyphs">Δ<tspan font-style="italic">n</tspan><tspan dy="0.8" font-size="3.3" font-style="italic">c</tspan><tspan dy="-0.8"> = 0.0156</tspan></text>
<line x1="54.20" y1="44.64" x2="64.30" y2="44.64" stroke="#117733" stroke-width="1.3" stroke-opacity="0.55"/>
<text x="67.9" y="46.39" font-size="4.7" fill="#222" textLength="29.0" lengthAdjust="spacingAndGlyphs">Δ<tspan font-style="italic">n</tspan><tspan dy="0.8" font-size="3.3" font-style="italic">c</tspan><tspan dy="-0.8"> = 0.0208</tspan></text>
<line x1="54.20" y1="52.12" x2="64.30" y2="52.12" stroke="#999933" stroke-width="1.3" stroke-opacity="0.55"/>
<text x="67.9" y="53.87" font-size="4.7" fill="#222" textLength="29.0" lengthAdjust="spacingAndGlyphs">Δ<tspan font-style="italic">n</tspan><tspan dy="0.8" font-size="3.3" font-style="italic">c</tspan><tspan dy="-0.8"> = 0.0262</tspan></text>
<line x1="54.20" y1="59.60" x2="64.30" y2="59.60" stroke="#DDCC77" stroke-width="1.3" stroke-opacity="0.55"/>
<text x="67.9" y="61.35" font-size="4.7" fill="#222" textLength="25.6" lengthAdjust="spacingAndGlyphs">Δ<tspan font-style="italic">n</tspan><tspan dy="0.8" font-size="3.3" font-style="italic">c</tspan><tspan dy="-0.8"> = 0.031</tspan></text>
<path d="M335.8,28.2 L336.5,28.4 L337.1,28.2 L337.8,28.1 L338.5,28.2 L339.1,28.0 L339.8,28.1 L340.5,28.2 L341.1,28.1 L341.8,28.2 L342.5,28.0 L343.1,28.2 L343.8,28.2 L344.5,28.6 L345.1,28.5 L345.8,28.7 L346.5,28.6 L347.1,28.5 L347.8,28.7 L348.4,28.8 L349.1,28.6 L349.8,28.5 L350.4,28.3 L351.1,28.7 L351.8,28.3 L352.4,28.3 L353.1,28.3 L353.8,28.2 L354.4,28.3 L355.1,28.4 L355.8,28.2 L356.4,28.0 L357.1,27.8 L357.8,28.1 L358.4,28.2 L359.1,28.4 L359.8,28.2 L360.4,28.2 L361.1,28.1 L361.8,28.2 L362.4,28.1 L363.1,28.2 L363.8,28.0 L364.4,28.3 L365.1,28.5 L365.8,28.2 L366.4,28.4 L367.1,28.5 L367.8,28.6 L368.4,28.8 L369.1,28.6 L369.7,28.8 L370.4,28.4 L371.1,28.5 L371.7,28.6 L372.4,28.2 L373.1,28.1 L373.7,28.3 L374.4,28.2 L375.1,28.4 L375.7,28.6 L376.4,28.8 L377.1,28.4 L377.7,28.5 L378.4,28.3 L379.1,28.4 L379.7,28.2 L380.4,27.8 L381.1,27.9 L381.7,27.8 L382.4,27.9 L383.1,27.8 L383.7,27.9 L384.4,28.1 L385.1,28.2 L385.7,28.5 L386.4,28.2 L387.1,28.5 L387.7,28.5 L388.4,28.4 L389.1,28.8 L389.7,29.2 L390.4,29.3 L391.1,29.5 L391.7,29.4 L392.4,29.7 L393.0,29.7 L393.7,29.5 L394.4,29.2 L395.0,29.3 L395.7,28.8 L396.4,28.7 L397.0,28.6 L397.7,28.8 L398.4,28.5 L399.0,28.4 L399.7,28.7 L400.4,28.5 L401.0,28.8 L401.7,29.0 L402.4,28.7 L403.0,28.5 L403.7,28.1 L404.4,27.9 L405.0,27.4 L405.7,27.4 L406.4,27.1 L407.0,27.1 L407.7,26.9 L408.4,26.8 L409.0,27.1 L409.7,27.2 L410.4,27.5 L411.0,27.7 L411.7,27.9 L412.4,28.1 L413.0,28.3 L413.7,28.5 L414.3,28.7 L415.0,29.0 L415.7,28.9 L416.3,29.1 L417.0,29.3 L417.7,29.0 L418.3,29.5 L419.0,29.3 L419.7,29.2 L420.3,29.2 L421.0,28.8 L421.7,29.0 L422.3,28.9 L423.0,28.5 L423.7,28.7 L424.3,28.7 L425.0,28.5 L425.7,28.5 L426.3,28.5 L427.0,28.5 L427.7,28.9 L428.3,28.9 L429.0,28.8 L429.7,29.3 L430.3,29.2 L431.0,29.1 L431.7,29.0 L432.3,29.1 L433.0,29.0 L433.7,29.0 L434.3,28.7 L435.0,28.9 L435.6,29.4 L436.3,29.6 L437.0,29.6 L437.6,29.7 L438.3,29.5 L439.0,29.5 L439.6,29.2 L440.3,29.2 L441.0,29.2 L441.6,28.9 L442.3,29.1 L443.0,29.1 L443.6,28.9 L444.3,28.8 L445.0,29.1 L445.6,28.8 L446.3,28.8 L447.0,29.0 L447.6,28.9 L448.3,29.0 L449.0,28.9 L449.6,28.9 L450.3,29.2 L451.0,29.1 L451.6,29.2 L452.3,29.3 L453.0,29.8 L453.6,29.8 L454.3,29.5 L455.0,29.6 L455.6,29.5 L456.3,29.5 L457.0,29.5 L457.6,29.4 L458.3,29.5 L458.9,29.5 L459.6,29.5 L460.3,29.7 L460.9,29.4 L461.6,29.8 L462.3,29.1 L462.9,29.4 L463.6,29.0 L464.3,28.7 L464.9,28.7 L465.6,28.5 L466.3,28.5 L466.9,28.7 L467.6,28.5 L468.3,28.5 L468.9,28.7 L469.6,28.8 L470.3,28.6 L470.9,28.4 L471.6,28.3 L472.3,28.1 L472.9,28.1 L473.6,28.0 L474.3,28.3 L474.9,27.8 L475.6,28.2 L476.3,28.2 L476.9,28.6 L477.6,28.6 L478.3,28.6 L478.9,28.2 L479.6,28.0 L480.2,27.8 L480.9,27.3 L481.6,27.4 L482.2,27.2 L482.9,27.3 L483.6,27.1 L484.2,27.3 L484.9,27.2 L485.6,27.0 L486.2,27.4 L486.9,26.8 L487.6,27.0 L488.2,27.0 L488.9,27.1 L489.6,26.9 L490.2,27.2 L490.9,26.9 L491.6,26.9 L492.2,26.5 L492.9,26.6 L493.6,26.2 L494.2,25.9 L494.9,25.5 L495.6,25.6 L496.2,25.5 L496.9,25.9 L497.6,26.1 L498.2,26.4 L498.9,26.6 L499.6,27.0 L500.2,26.9 L500.9,26.7 L501.6,26.8 L502.2,26.6 L502.9,26.5 L503.5,26.1 L504.2,26.0 L504.9,26.2 L505.5,26.2 L506.2,26.0 L506.9,26.0 L507.5,26.1 L508.2,26.1 L508.9,25.9 L509.5,25.5 L510.2,25.7 L510.9,25.2 L511.5,25.4 L512.2,25.3 L512.9,24.9 L513.5,25.0 L514.2,24.9 L514.9,25.1 L515.5,25.1 L516.2,25.2 L516.9,25.2 L517.5,25.4 L518.2,25.6 L518.9,25.3 L519.5,25.4 L520.2,25.4 L520.9,25.4 L521.5,25.7 L522.2,25.3 L522.9,25.7 L523.5,25.6 L524.2,25.5 L524.8,25.4 L525.5,25.5 L526.2,25.4 L526.8,25.4 L527.5,25.2 L528.2,25.2 L528.8,25.2 L529.5,24.9 L530.2,24.7 L530.8,24.4 L531.5,24.3 L532.2,24.0 L532.8,24.1 L533.5,24.0 L534.2,24.2 L534.8,24.3 L535.5,24.4" fill="none" stroke="#332288" stroke-width="1.0" stroke-opacity="1.0" stroke-linejoin="round"/>
<path d="M335.8,27.8 L336.5,27.7 L337.1,27.7 L337.8,27.8 L338.5,27.6 L339.1,27.5 L339.8,27.9 L340.5,27.6 L341.1,28.0 L341.8,27.9 L342.5,27.8 L343.1,28.2 L343.8,28.3 L344.5,28.6 L345.1,28.6 L345.8,28.2 L346.5,28.4 L347.1,28.6 L347.8,28.6 L348.4,28.5 L349.1,28.2 L349.8,28.5 L350.4,28.3 L351.1,28.3 L351.8,28.3 L352.4,27.8 L353.1,27.9 L353.8,27.9 L354.4,27.8 L355.1,27.7 L355.8,27.7 L356.4,27.9 L357.1,27.6 L357.8,27.9 L358.4,28.1 L359.1,28.4 L359.8,28.5 L360.4,28.7 L361.1,28.6 L361.8,28.7 L362.4,28.7 L363.1,28.7 L363.8,28.6 L364.4,28.5 L365.1,28.3 L365.8,28.2 L366.4,28.1 L367.1,27.6 L367.8,27.8 L368.4,28.1 L369.1,28.1 L369.7,28.2 L370.4,28.2 L371.1,28.2 L371.7,28.5 L372.4,28.3 L373.1,28.4 L373.7,28.2 L374.4,28.2 L375.1,28.3 L375.7,28.3 L376.4,28.4 L377.1,28.4 L377.7,28.4 L378.4,28.1 L379.1,28.0 L379.7,27.9 L380.4,27.8 L381.1,27.8 L381.7,28.0 L382.4,28.0 L383.1,27.9 L383.7,28.2 L384.4,28.1 L385.1,28.6 L385.7,28.8 L386.4,28.8 L387.1,28.9 L387.7,29.2 L388.4,29.1 L389.1,29.0 L389.7,28.9 L390.4,28.9 L391.1,28.7 L391.7,28.9 L392.4,28.7 L393.0,28.8 L393.7,28.8 L394.4,29.4 L395.0,29.5 L395.7,29.8 L396.4,29.8 L397.0,30.5 L397.7,30.6 L398.4,30.3 L399.0,30.6 L399.7,31.0 L400.4,30.9 L401.0,31.0 L401.7,31.2 L402.4,31.4 L403.0,31.7 L403.7,31.5 L404.4,31.7 L405.0,31.5 L405.7,31.6 L406.4,31.7 L407.0,31.6 L407.7,32.1 L408.4,32.3 L409.0,32.7 L409.7,33.0 L410.4,33.2 L411.0,33.3 L411.7,33.2 L412.4,32.9 L413.0,32.5 L413.7,32.3 L414.3,32.2 L415.0,31.6 L415.7,31.5 L416.3,31.2 L417.0,31.6 L417.7,31.2 L418.3,31.7 L419.0,31.6 L419.7,32.0 L420.3,31.8 L421.0,31.9 L421.7,32.0 L422.3,31.7 L423.0,31.4 L423.7,31.3 L424.3,31.6 L425.0,31.5 L425.7,31.6 L426.3,31.6 L427.0,31.7 L427.7,31.9 L428.3,32.0 L429.0,31.7 L429.7,31.7 L430.3,31.5 L431.0,31.7 L431.7,31.6 L432.3,31.9 L433.0,31.8 L433.7,31.9 L434.3,31.8 L435.0,32.0 L435.6,31.8 L436.3,31.8 L437.0,31.6 L437.6,31.4 L438.3,30.9 L439.0,31.2 L439.6,31.0 L440.3,31.1 L441.0,31.0 L441.6,31.2 L442.3,31.3 L443.0,31.6 L443.6,31.6 L444.3,31.9 L445.0,32.4 L445.6,32.1 L446.3,32.1 L447.0,32.3 L447.6,32.0 L448.3,31.9 L449.0,31.9 L449.6,31.8 L450.3,32.1 L451.0,31.8 L451.6,32.0 L452.3,32.1 L453.0,32.4 L453.6,32.4 L454.3,32.6 L455.0,32.4 L455.6,32.4 L456.3,32.2 L457.0,32.4 L457.6,32.1 L458.3,32.4 L458.9,32.4 L459.6,32.7 L460.3,32.7 L460.9,33.0 L461.6,33.1 L462.3,33.2 L462.9,33.5 L463.6,33.4 L464.3,33.2 L464.9,33.2 L465.6,33.1 L466.3,32.8 L466.9,32.6 L467.6,32.5 L468.3,32.4 L468.9,32.7 L469.6,32.6 L470.3,32.6 L470.9,32.9 L471.6,32.8 L472.3,32.9 L472.9,32.7 L473.6,32.3 L474.3,32.4 L474.9,32.4 L475.6,32.0 L476.3,31.9 L476.9,31.6 L477.6,31.9 L478.3,31.8 L478.9,31.7 L479.6,32.0 L480.2,31.7 L480.9,32.2 L481.6,32.2 L482.2,32.3 L482.9,32.3 L483.6,32.1 L484.2,32.3 L484.9,32.3 L485.6,32.5 L486.2,33.0 L486.9,32.8 L487.6,33.2 L488.2,33.0 L488.9,33.0 L489.6,32.9 L490.2,32.6 L490.9,32.8 L491.6,32.4 L492.2,32.5 L492.9,32.3 L493.6,32.3 L494.2,32.1 L494.9,32.1 L495.6,31.8 L496.2,32.1 L496.9,31.9 L497.6,32.0 L498.2,32.1 L498.9,32.1 L499.6,32.3 L500.2,32.2 L500.9,32.3 L501.6,32.4 L502.2,32.3 L502.9,32.5 L503.5,32.5 L504.2,32.2 L504.9,32.1 L505.5,31.7 L506.2,32.1 L506.9,32.1 L507.5,32.4 L508.2,32.5 L508.9,33.0 L509.5,33.1 L510.2,33.4 L510.9,33.6 L511.5,33.6 L512.2,33.4 L512.9,32.9 L513.5,32.9 L514.2,32.7 L514.9,32.5 L515.5,32.5 L516.2,32.4 L516.9,32.5 L517.5,32.6 L518.2,32.7 L518.9,33.1 L519.5,32.8 L520.2,32.6 L520.9,32.8 L521.5,32.5 L522.2,32.4 L522.9,32.4 L523.5,32.6 L524.2,32.8 L524.8,32.8 L525.5,32.7 L526.2,32.7 L526.8,32.3 L527.5,32.4 L528.2,32.4 L528.8,32.3 L529.5,32.2 L530.2,32.4 L530.8,32.4 L531.5,32.7 L532.2,32.7 L532.8,33.0 L533.5,33.0 L534.2,33.3 L534.8,33.2 L535.5,32.8" fill="none" stroke="#332288" stroke-width="1.0" stroke-opacity="1.0" stroke-linejoin="round"/>
<path d="M335.8,26.5 L336.5,26.7 L337.1,27.0 L337.8,26.9 L338.5,27.1 L339.1,27.2 L339.8,27.4 L340.5,27.2 L341.1,27.7 L341.8,27.6 L342.5,27.4 L343.1,27.6 L343.8,27.5 L344.5,27.5 L345.1,27.8 L345.8,27.4 L346.5,27.3 L347.1,27.3 L347.8,27.4 L348.4,27.0 L349.1,27.1 L349.8,26.9 L350.4,26.8 L351.1,27.0 L351.8,27.3 L352.4,27.2 L353.1,27.4 L353.8,27.6 L354.4,27.7 L355.1,27.4 L355.8,27.5 L356.4,27.4 L357.1,27.4 L357.8,27.3 L358.4,27.4 L359.1,27.6 L359.8,28.0 L360.4,28.0 L361.1,28.0 L361.8,27.9 L362.4,27.6 L363.1,27.5 L363.8,27.4 L364.4,27.3 L365.1,27.3 L365.8,27.1 L366.4,27.2 L367.1,27.2 L367.8,27.2 L368.4,27.1 L369.1,27.1 L369.7,26.8 L370.4,27.0 L371.1,27.0 L371.7,26.8 L372.4,27.0 L373.1,26.8 L373.7,26.9 L374.4,26.6 L375.1,27.2 L375.7,27.1 L376.4,27.1 L377.1,27.0 L377.7,27.0 L378.4,27.3 L379.1,27.3 L379.7,27.3 L380.4,27.2 L381.1,27.5 L381.7,27.6 L382.4,27.2 L383.1,27.2 L383.7,27.1 L384.4,27.2 L385.1,26.9 L385.7,26.6 L386.4,26.3 L387.1,26.3 L387.7,26.2 L388.4,26.1 L389.1,26.5 L389.7,26.9 L390.4,27.2 L391.1,27.7 L391.7,28.0 L392.4,28.5 L393.0,28.9 L393.7,28.9 L394.4,29.3 L395.0,29.6 L395.7,29.5 L396.4,29.8 L397.0,29.7 L397.7,29.7 L398.4,29.8 L399.0,29.7 L399.7,29.6 L400.4,29.8 L401.0,29.7 L401.7,29.6 L402.4,29.6 L403.0,29.6 L403.7,29.3 L404.4,29.6 L405.0,29.8 L405.7,30.0 L406.4,30.2 L407.0,30.4 L407.7,30.9 L408.4,30.9 L409.0,31.5 L409.7,31.4 L410.4,31.5 L411.0,31.7 L411.7,31.4 L412.4,31.3 L413.0,31.4 L413.7,31.0 L414.3,31.3 L415.0,31.6 L415.7,31.7 L416.3,31.8 L417.0,31.8 L417.7,31.8 L418.3,32.1 L419.0,32.1 L419.7,32.1 L420.3,32.2 L421.0,32.3 L421.7,32.3 L422.3,32.2 L423.0,32.0 L423.7,32.0 L424.3,32.2 L425.0,31.7 L425.7,31.5 L426.3,31.5 L427.0,31.4 L427.7,31.6 L428.3,32.0 L429.0,32.4 L429.7,32.1 L430.3,32.4 L431.0,32.3 L431.7,32.4 L432.3,32.3 L433.0,31.9 L433.7,32.2 L434.3,31.9 L435.0,32.0 L435.6,31.9 L436.3,31.9 L437.0,32.0 L437.6,32.3 L438.3,32.7 L439.0,32.7 L439.6,32.7 L440.3,32.8 L441.0,32.6 L441.6,32.7 L442.3,32.7 L443.0,32.5 L443.6,32.3 L444.3,32.1 L445.0,32.5 L445.6,32.3 L446.3,32.4 L447.0,32.8 L447.6,32.6 L448.3,32.8 L449.0,32.7 L449.6,32.7 L450.3,32.5 L451.0,32.8 L451.6,32.6 L452.3,33.1 L453.0,33.0 L453.6,33.1 L454.3,32.8 L455.0,32.8 L455.6,32.7 L456.3,32.5 L457.0,32.1 L457.6,32.1 L458.3,31.6 L458.9,32.4 L459.6,32.2 L460.3,32.7 L460.9,32.4 L461.6,32.8 L462.3,32.6 L462.9,33.0 L463.6,32.9 L464.3,33.1 L464.9,33.1 L465.6,33.3 L466.3,33.7 L466.9,33.4 L467.6,33.4 L468.3,32.9 L468.9,32.9 L469.6,33.1 L470.3,33.2 L470.9,33.5 L471.6,33.9 L472.3,33.8 L472.9,34.2 L473.6,34.3 L474.3,34.5 L474.9,34.4 L475.6,34.3 L476.3,34.3 L476.9,34.3 L477.6,34.1 L478.3,34.1 L478.9,33.7 L479.6,33.7 L480.2,33.4 L480.9,33.2 L481.6,32.8 L482.2,32.8 L482.9,33.0 L483.6,33.2 L484.2,33.2 L484.9,33.1 L485.6,33.0 L486.2,33.4 L486.9,33.2 L487.6,33.1 L488.2,33.1 L488.9,33.1 L489.6,33.1 L490.2,33.5 L490.9,33.1 L491.6,33.5 L492.2,33.4 L492.9,33.4 L493.6,33.4 L494.2,33.5 L494.9,33.4 L495.6,33.3 L496.2,33.3 L496.9,33.0 L497.6,32.8 L498.2,33.0 L498.9,33.2 L499.6,33.2 L500.2,33.0 L500.9,33.2 L501.6,33.5 L502.2,33.6 L502.9,33.6 L503.5,33.6 L504.2,34.2 L504.9,34.1 L505.5,34.0 L506.2,33.9 L506.9,33.7 L507.5,33.5 L508.2,33.1 L508.9,33.3 L509.5,32.2 L510.2,32.4 L510.9,32.3 L511.5,32.5 L512.2,32.4 L512.9,32.2 L513.5,32.3 L514.2,32.7 L514.9,33.0 L515.5,32.9 L516.2,33.1 L516.9,33.0 L517.5,33.3 L518.2,33.1 L518.9,33.0 L519.5,33.1 L520.2,32.9 L520.9,33.3 L521.5,33.4 L522.2,33.4 L522.9,33.3 L523.5,33.5 L524.2,33.6 L524.8,33.4 L525.5,33.5 L526.2,33.7 L526.8,33.6 L527.5,33.7 L528.2,33.7 L528.8,33.8 L529.5,34.0 L530.2,34.0 L530.8,34.0 L531.5,33.9 L532.2,33.9 L532.8,34.0 L533.5,33.8 L534.2,33.8 L534.8,33.7 L535.5,33.8" fill="none" stroke="#332288" stroke-width="1.0" stroke-opacity="1.0" stroke-linejoin="round"/>
<path d="M335.8,28.8 L336.5,28.7 L337.1,28.8 L337.8,28.9 L338.5,29.0 L339.1,29.0 L339.8,29.2 L340.5,29.5 L341.1,29.7 L341.8,29.7 L342.5,29.5 L343.1,29.7 L343.8,30.0 L344.5,29.9 L345.1,29.9 L345.8,30.0 L346.5,30.1 L347.1,29.9 L347.8,29.9 L348.4,29.6 L349.1,29.1 L349.8,28.9 L350.4,28.9 L351.1,28.7 L351.8,28.5 L352.4,28.6 L353.1,28.4 L353.8,28.4 L354.4,28.6 L355.1,28.4 L355.8,28.5 L356.4,28.6 L357.1,28.2 L357.8,28.2 L358.4,28.2 L359.1,28.0 L359.8,28.1 L360.4,28.4 L361.1,28.3 L361.8,28.4 L362.4,28.6 L363.1,28.2 L363.8,28.3 L364.4,28.8 L365.1,28.7 L365.8,29.1 L366.4,28.9 L367.1,29.1 L367.8,29.3 L368.4,29.1 L369.1,29.4 L369.7,29.6 L370.4,29.5 L371.1,29.8 L371.7,29.6 L372.4,29.7 L373.1,29.4 L373.7,29.2 L374.4,29.0 L375.1,29.1 L375.7,28.6 L376.4,28.9 L377.1,28.7 L377.7,29.1 L378.4,29.1 L379.1,29.2 L379.7,29.0 L380.4,29.2 L381.1,29.1 L381.7,29.4 L382.4,29.3 L383.1,29.2 L383.7,29.3 L384.4,29.5 L385.1,29.2 L385.7,29.4 L386.4,29.1 L387.1,29.6 L387.7,29.6 L388.4,30.3 L389.1,30.8 L389.7,31.5 L390.4,31.9 L391.1,32.3 L391.7,33.1 L392.4,33.1 L393.0,33.8 L393.7,34.1 L394.4,34.8 L395.0,34.8 L395.7,35.1 L396.4,35.4 L397.0,35.5 L397.7,35.7 L398.4,35.6 L399.0,35.4 L399.7,35.7 L400.4,35.7 L401.0,35.8 L401.7,36.2 L402.4,36.4 L403.0,36.7 L403.7,37.0 L404.4,36.7 L405.0,37.1 L405.7,36.8 L406.4,37.0 L407.0,37.5 L407.7,37.4 L408.4,37.4 L409.0,37.6 L409.7,38.0 L410.4,37.9 L411.0,38.1 L411.7,38.2 L412.4,38.1 L413.0,38.1 L413.7,38.1 L414.3,38.3 L415.0,38.3 L415.7,38.5 L416.3,38.3 L417.0,38.0 L417.7,37.3 L418.3,37.4 L419.0,37.1 L419.7,36.6 L420.3,36.2 L421.0,36.5 L421.7,36.4 L422.3,36.7 L423.0,36.6 L423.7,37.0 L424.3,37.4 L425.0,37.7 L425.7,37.9 L426.3,37.9 L427.0,38.0 L427.7,38.0 L428.3,37.9 L429.0,37.7 L429.7,37.8 L430.3,37.4 L431.0,37.8 L431.7,37.4 L432.3,37.4 L433.0,37.4 L433.7,37.8 L434.3,38.0 L435.0,38.0 L435.6,37.7 L436.3,37.7 L437.0,37.5 L437.6,37.3 L438.3,37.1 L439.0,37.0 L439.6,37.2 L440.3,37.1 L441.0,37.1 L441.6,37.3 L442.3,37.7 L443.0,37.9 L443.6,37.8 L444.3,38.0 L445.0,38.0 L445.6,37.7 L446.3,37.4 L447.0,37.2 L447.6,37.3 L448.3,37.1 L449.0,37.2 L449.6,37.1 L450.3,37.4 L451.0,37.6 L451.6,38.0 L452.3,38.2 L453.0,38.3 L453.6,38.9 L454.3,38.3 L455.0,38.5 L455.6,38.5 L456.3,38.5 L457.0,38.4 L457.6,38.2 L458.3,38.4 L458.9,38.1 L459.6,38.1 L460.3,38.2 L460.9,38.4 L461.6,38.2 L462.3,38.4 L462.9,38.1 L463.6,37.9 L464.3,37.9 L464.9,38.0 L465.6,38.0 L466.3,38.0 L466.9,37.9 L467.6,38.0 L468.3,38.0 L468.9,38.3 L469.6,38.1 L470.3,38.1 L470.9,38.2 L471.6,38.1 L472.3,38.6 L472.9,38.6 L473.6,38.4 L474.3,38.6 L474.9,38.4 L475.6,38.2 L476.3,38.1 L476.9,38.1 L477.6,37.8 L478.3,37.6 L478.9,37.9 L479.6,37.8 L480.2,37.6 L480.9,37.8 L481.6,38.0 L482.2,37.9 L482.9,37.7 L483.6,37.9 L484.2,37.7 L484.9,37.6 L485.6,37.6 L486.2,37.3 L486.9,37.2 L487.6,37.1 L488.2,37.2 L488.9,37.6 L489.6,37.4 L490.2,37.7 L490.9,37.9 L491.6,38.4 L492.2,38.4 L492.9,38.7 L493.6,39.1 L494.2,38.9 L494.9,39.3 L495.6,39.3 L496.2,39.1 L496.9,39.2 L497.6,39.0 L498.2,39.0 L498.9,38.8 L499.6,38.6 L500.2,38.5 L500.9,38.1 L501.6,37.9 L502.2,37.9 L502.9,37.6 L503.5,37.5 L504.2,37.7 L504.9,37.7 L505.5,37.8 L506.2,38.1 L506.9,38.6 L507.5,38.4 L508.2,38.5 L508.9,38.5 L509.5,38.4 L510.2,38.4 L510.9,38.2 L511.5,38.3 L512.2,38.3 L512.9,38.1 L513.5,38.0 L514.2,37.8 L514.9,37.7 L515.5,37.7 L516.2,37.6 L516.9,37.8 L517.5,37.8 L518.2,37.5 L518.9,37.9 L519.5,37.8 L520.2,38.1 L520.9,38.7 L521.5,38.6 L522.2,38.3 L522.9,38.7 L523.5,38.4 L524.2,38.4 L524.8,38.2 L525.5,38.1 L526.2,38.1 L526.8,37.9 L527.5,38.1 L528.2,37.8 L528.8,37.8 L529.5,37.5 L530.2,37.4 L530.8,37.4 L531.5,37.3 L532.2,37.4 L532.8,37.5 L533.5,37.3 L534.2,37.8 L534.8,37.6 L535.5,37.5" fill="none" stroke="#88CCEE" stroke-width="1.0" stroke-opacity="1.0" stroke-linejoin="round"/>
<path d="M335.8,29.1 L336.5,29.4 L337.1,29.1 L337.8,28.9 L338.5,29.0 L339.1,29.2 L339.8,29.0 L340.5,28.9 L341.1,28.8 L341.8,28.7 L342.5,28.6 L343.1,28.5 L343.8,28.7 L344.5,28.4 L345.1,28.6 L345.8,28.2 L346.5,28.1 L347.1,28.0 L347.8,27.5 L348.4,27.6 L349.1,27.5 L349.8,28.0 L350.4,28.2 L351.1,28.3 L351.8,28.5 L352.4,28.4 L353.1,28.4 L353.8,28.3 L354.4,28.2 L355.1,27.8 L355.8,28.0 L356.4,28.1 L357.1,27.9 L357.8,28.0 L358.4,28.0 L359.1,28.0 L359.8,28.0 L360.4,27.8 L361.1,27.9 L361.8,27.6 L362.4,27.5 L363.1,27.2 L363.8,27.1 L364.4,27.4 L365.1,27.6 L365.8,27.5 L366.4,27.9 L367.1,27.9 L367.8,28.1 L368.4,28.4 L369.1,28.3 L369.7,28.4 L370.4,28.6 L371.1,28.5 L371.7,28.6 L372.4,28.2 L373.1,28.2 L373.7,28.4 L374.4,28.2 L375.1,28.4 L375.7,27.8 L376.4,27.5 L377.1,27.3 L377.7,27.4 L378.4,27.2 L379.1,27.4 L379.7,27.4 L380.4,27.9 L381.1,27.9 L381.7,28.1 L382.4,28.0 L383.1,28.0 L383.7,27.8 L384.4,27.9 L385.1,28.0 L385.7,28.1 L386.4,28.4 L387.1,28.6 L387.7,29.0 L388.4,29.5 L389.1,30.1 L389.7,30.7 L390.4,31.3 L391.1,32.0 L391.7,32.6 L392.4,32.8 L393.0,33.3 L393.7,33.9 L394.4,34.0 L395.0,34.8 L395.7,35.0 L396.4,35.5 L397.0,35.9 L397.7,36.1 L398.4,36.3 L399.0,36.6 L399.7,36.9 L400.4,37.0 L401.0,36.9 L401.7,36.8 L402.4,37.1 L403.0,37.5 L403.7,37.7 L404.4,37.9 L405.0,38.0 L405.7,38.5 L406.4,38.4 L407.0,38.5 L407.7,38.7 L408.4,38.6 L409.0,38.2 L409.7,38.2 L410.4,38.1 L411.0,38.0 L411.7,37.9 L412.4,38.0 L413.0,37.9 L413.7,38.3 L414.3,38.5 L415.0,38.5 L415.7,38.6 L416.3,38.6 L417.0,38.5 L417.7,38.4 L418.3,38.6 L419.0,38.6 L419.7,38.7 L420.3,38.7 L421.0,38.4 L421.7,38.4 L422.3,38.6 L423.0,38.7 L423.7,38.7 L424.3,39.1 L425.0,39.5 L425.7,39.7 L426.3,39.7 L427.0,39.9 L427.7,39.9 L428.3,40.0 L429.0,40.0 L429.7,40.0 L430.3,40.0 L431.0,39.7 L431.7,39.7 L432.3,39.8 L433.0,39.6 L433.7,39.6 L434.3,39.6 L435.0,39.7 L435.6,39.4 L436.3,39.4 L437.0,39.7 L437.6,39.5 L438.3,39.8 L439.0,39.9 L439.6,39.9 L440.3,40.1 L441.0,40.0 L441.6,40.2 L442.3,40.0 L443.0,40.2 L443.6,40.5 L444.3,40.2 L445.0,40.5 L445.6,40.2 L446.3,40.0 L447.0,39.9 L447.6,40.0 L448.3,39.7 L449.0,39.7 L449.6,39.7 L450.3,39.7 L451.0,39.9 L451.6,40.2 L452.3,40.8 L453.0,41.1 L453.6,41.2 L454.3,41.2 L455.0,41.6 L455.6,41.3 L456.3,40.9 L457.0,41.1 L457.6,40.8 L458.3,40.6 L458.9,40.3 L459.6,40.3 L460.3,40.4 L460.9,40.6 L461.6,40.4 L462.3,40.4 L462.9,40.4 L463.6,40.2 L464.3,40.0 L464.9,40.1 L465.6,40.0 L466.3,39.9 L466.9,39.9 L467.6,40.1 L468.3,39.8 L468.9,39.6 L469.6,39.8 L470.3,39.6 L470.9,40.3 L471.6,40.1 L472.3,40.1 L472.9,40.2 L473.6,40.7 L474.3,40.9 L474.9,40.8 L475.6,41.0 L476.3,40.9 L476.9,41.0 L477.6,40.7 L478.3,40.6 L478.9,40.4 L479.6,40.5 L480.2,40.5 L480.9,40.3 L481.6,40.3 L482.2,39.9 L482.9,39.8 L483.6,39.7 L484.2,39.8 L484.9,40.3 L485.6,40.2 L486.2,40.3 L486.9,40.6 L487.6,40.3 L488.2,40.6 L488.9,40.2 L489.6,40.4 L490.2,40.5 L490.9,40.6 L491.6,40.6 L492.2,40.9 L492.9,40.9 L493.6,40.9 L494.2,40.6 L494.9,40.7 L495.6,40.5 L496.2,40.6 L496.9,41.0 L497.6,40.9 L498.2,41.0 L498.9,41.0 L499.6,40.9 L500.2,40.8 L500.9,40.7 L501.6,40.6 L502.2,40.9 L502.9,41.0 L503.5,41.1 L504.2,41.1 L504.9,41.4 L505.5,41.2 L506.2,41.9 L506.9,41.6 L507.5,41.4 L508.2,41.2 L508.9,40.9 L509.5,40.8 L510.2,40.7 L510.9,40.3 L511.5,40.1 L512.2,40.5 L512.9,40.1 L513.5,40.3 L514.2,40.5 L514.9,40.6 L515.5,40.7 L516.2,40.8 L516.9,40.9 L517.5,41.1 L518.2,40.9 L518.9,41.1 L519.5,41.2 L520.2,41.4 L520.9,41.5 L521.5,41.6 L522.2,41.8 L522.9,41.8 L523.5,42.1 L524.2,41.8 L524.8,41.8 L525.5,41.8 L526.2,41.7 L526.8,42.0 L527.5,41.6 L528.2,41.5 L528.8,41.5 L529.5,40.9 L530.2,40.8 L530.8,40.4 L531.5,40.2 L532.2,39.9 L532.8,39.8 L533.5,39.7 L534.2,39.5 L534.8,39.4 L535.5,39.9" fill="none" stroke="#88CCEE" stroke-width="1.0" stroke-opacity="1.0" stroke-linejoin="round"/>
<path d="M335.8,28.9 L336.5,28.9 L337.1,29.3 L337.8,29.6 L338.5,29.5 L339.1,30.1 L339.8,30.1 L340.5,30.1 L341.1,30.6 L341.8,30.3 L342.5,30.5 L343.1,30.6 L343.8,30.5 L344.5,30.7 L345.1,30.7 L345.8,30.1 L346.5,30.2 L347.1,30.0 L347.8,29.8 L348.4,29.8 L349.1,29.7 L349.8,29.6 L350.4,29.4 L351.1,29.5 L351.8,29.5 L352.4,29.8 L353.1,29.9 L353.8,30.0 L354.4,30.1 L355.1,30.2 L355.8,30.1 L356.4,30.2 L357.1,30.2 L357.8,29.8 L358.4,29.9 L359.1,29.8 L359.8,29.7 L360.4,29.8 L361.1,29.9 L361.8,29.7 L362.4,29.7 L363.1,29.7 L363.8,29.5 L364.4,29.5 L365.1,29.5 L365.8,29.6 L366.4,29.5 L367.1,29.3 L367.8,29.5 L368.4,29.7 L369.1,30.0 L369.7,30.0 L370.4,30.3 L371.1,30.4 L371.7,30.4 L372.4,30.8 L373.1,30.7 L373.7,30.8 L374.4,30.7 L375.1,31.1 L375.7,30.9 L376.4,30.9 L377.1,30.7 L377.7,30.9 L378.4,30.6 L379.1,30.3 L379.7,30.4 L380.4,30.4 L381.1,30.0 L381.7,30.1 L382.4,30.2 L383.1,29.9 L383.7,29.7 L384.4,29.5 L385.1,29.9 L385.7,30.0 L386.4,30.2 L387.1,30.7 L387.7,30.8 L388.4,31.4 L389.1,31.5 L389.7,32.2 L390.4,32.5 L391.1,32.8 L391.7,33.5 L392.4,34.1 L393.0,34.5 L393.7,34.6 L394.4,35.2 L395.0,35.5 L395.7,36.0 L396.4,36.3 L397.0,36.7 L397.7,36.8 L398.4,37.0 L399.0,36.9 L399.7,37.1 L400.4,37.4 L401.0,37.6 L401.7,38.1 L402.4,38.0 L403.0,38.2 L403.7,38.4 L404.4,39.3 L405.0,39.6 L405.7,39.5 L406.4,39.8 L407.0,39.8 L407.7,39.8 L408.4,39.7 L409.0,40.1 L409.7,40.0 L410.4,40.0 L411.0,40.2 L411.7,40.5 L412.4,40.4 L413.0,40.5 L413.7,40.7 L414.3,40.5 L415.0,40.5 L415.7,40.5 L416.3,40.4 L417.0,40.6 L417.7,40.4 L418.3,40.7 L419.0,41.0 L419.7,41.1 L420.3,41.1 L421.0,41.4 L421.7,41.5 L422.3,41.6 L423.0,41.7 L423.7,41.5 L424.3,41.3 L425.0,41.4 L425.7,41.4 L426.3,41.3 L427.0,41.4 L427.7,41.5 L428.3,41.7 L429.0,41.6 L429.7,42.2 L430.3,42.5 L431.0,42.8 L431.7,42.9 L432.3,43.2 L433.0,43.2 L433.7,43.1 L434.3,42.9 L435.0,43.1 L435.6,42.7 L436.3,42.6 L437.0,42.3 L437.6,41.8 L438.3,41.8 L439.0,41.8 L439.6,41.7 L440.3,41.8 L441.0,41.9 L441.6,42.3 L442.3,42.5 L443.0,42.9 L443.6,43.1 L444.3,43.3 L445.0,43.4 L445.6,43.3 L446.3,43.0 L447.0,42.9 L447.6,42.7 L448.3,42.3 L449.0,42.4 L449.6,42.1 L450.3,42.2 L451.0,42.8 L451.6,42.8 L452.3,43.1 L453.0,43.1 L453.6,43.3 L454.3,43.8 L455.0,43.9 L455.6,43.9 L456.3,43.9 L457.0,43.8 L457.6,43.6 L458.3,43.6 L458.9,43.3 L459.6,43.2 L460.3,43.1 L460.9,43.0 L461.6,42.9 L462.3,42.5 L462.9,42.5 L463.6,42.5 L464.3,42.8 L464.9,42.9 L465.6,43.0 L466.3,43.0 L466.9,43.3 L467.6,43.4 L468.3,43.6 L468.9,43.5 L469.6,43.6 L470.3,43.8 L470.9,43.4 L471.6,43.7 L472.3,43.3 L472.9,43.4 L473.6,43.3 L474.3,43.4 L474.9,43.4 L475.6,43.3 L476.3,43.4 L476.9,43.4 L477.6,43.1 L478.3,43.0 L478.9,42.9 L479.6,42.8 L480.2,42.4 L480.9,42.7 L481.6,42.6 L482.2,42.8 L482.9,43.3 L483.6,43.6 L484.2,43.6 L484.9,43.8 L485.6,44.0 L486.2,44.2 L486.9,44.3 L487.6,44.1 L488.2,44.3 L488.9,44.4 L489.6,44.0 L490.2,43.8 L490.9,43.6 L491.6,43.2 L492.2,42.9 L492.9,42.9 L493.6,43.0 L494.2,43.4 L494.9,43.3 L495.6,43.6 L496.2,43.7 L496.9,43.9 L497.6,44.2 L498.2,44.2 L498.9,44.4 L499.6,44.3 L500.2,44.3 L500.9,44.0 L501.6,43.6 L502.2,43.3 L502.9,43.3 L503.5,43.1 L504.2,42.9 L504.9,43.6 L505.5,43.7 L506.2,43.9 L506.9,44.0 L507.5,44.0 L508.2,44.2 L508.9,44.3 L509.5,44.3 L510.2,44.0 L510.9,43.7 L511.5,43.3 L512.2,43.2 L512.9,42.6 L513.5,42.8 L514.2,42.6 L514.9,42.7 L515.5,43.0 L516.2,43.0 L516.9,43.2 L517.5,43.4 L518.2,43.4 L518.9,43.7 L519.5,43.4 L520.2,43.5 L520.9,43.7 L521.5,43.8 L522.2,43.1 L522.9,43.0 L523.5,42.9 L524.2,43.0 L524.8,43.1 L525.5,43.3 L526.2,43.0 L526.8,43.3 L527.5,43.8 L528.2,43.6 L528.8,44.0 L529.5,43.6 L530.2,43.4 L530.8,43.5 L531.5,43.3 L532.2,43.4 L532.8,43.3 L533.5,43.2 L534.2,43.4 L534.8,43.5 L535.5,43.4" fill="none" stroke="#88CCEE" stroke-width="1.0" stroke-opacity="1.0" stroke-linejoin="round"/>
<path d="M335.8,21.5 L336.5,21.8 L337.1,21.6 L337.8,21.8 L338.5,22.0 L339.1,21.7 L339.8,21.9 L340.5,21.7 L341.1,21.6 L341.8,21.8 L342.5,21.9 L343.1,22.3 L343.8,22.2 L344.5,22.5 L345.1,22.7 L345.8,23.0 L346.5,23.4 L347.1,23.7 L347.8,24.6 L348.4,25.2 L349.1,26.0 L349.8,26.6 L350.4,26.6 L351.1,26.7 L351.8,26.4 L352.4,26.3 L353.1,26.5 L353.8,26.4 L354.4,26.9 L355.1,27.4 L355.8,27.9 L356.4,28.4 L357.1,28.6 L357.8,28.8 L358.4,29.0 L359.1,29.2 L359.8,29.2 L360.4,29.4 L361.1,29.8 L361.8,29.7 L362.4,29.8 L363.1,29.9 L363.8,29.7 L364.4,29.4 L365.1,29.6 L365.8,29.6 L366.4,29.3 L367.1,28.8 L367.8,29.3 L368.4,29.2 L369.1,29.2 L369.7,29.0 L370.4,28.9 L371.1,29.0 L371.7,28.7 L372.4,28.9 L373.1,28.7 L373.7,28.8 L374.4,28.6 L375.1,28.7 L375.7,28.6 L376.4,28.8 L377.1,28.6 L377.7,28.6 L378.4,28.7 L379.1,28.8 L379.7,28.9 L380.4,28.9 L381.1,29.0 L381.7,29.1 L382.4,29.1 L383.1,28.8 L383.7,28.9 L384.4,28.9 L385.1,29.2 L385.7,30.2 L386.4,31.9 L387.1,34.0 L387.7,36.0 L388.4,38.3 L389.1,40.2 L389.7,41.5 L390.4,42.5 L391.1,43.5 L391.7,44.5 L392.4,45.1 L393.0,45.8 L393.7,46.5 L394.4,47.0 L395.0,47.5 L395.7,47.9 L396.4,48.1 L397.0,48.6 L397.7,48.6 L398.4,48.6 L399.0,48.7 L399.7,49.0 L400.4,49.1 L401.0,49.3 L401.7,49.1 L402.4,48.8 L403.0,49.4 L403.7,49.3 L404.4,48.9 L405.0,48.9 L405.7,49.2 L406.4,49.1 L407.0,49.3 L407.7,49.8 L408.4,49.8 L409.0,50.4 L409.7,50.2 L410.4,50.4 L411.0,50.6 L411.7,50.7 L412.4,50.6 L413.0,50.7 L413.7,50.9 L414.3,51.1 L415.0,51.1 L415.7,51.1 L416.3,51.4 L417.0,51.4 L417.7,51.6 L418.3,51.9 L419.0,52.2 L419.7,52.4 L420.3,52.9 L421.0,52.9 L421.7,53.3 L422.3,52.9 L423.0,52.7 L423.7,52.7 L424.3,52.2 L425.0,52.3 L425.7,51.4 L426.3,51.3 L427.0,51.0 L427.7,50.7 L428.3,50.6 L429.0,50.8 L429.7,51.1 L430.3,51.4 L431.0,51.7 L431.7,52.3 L432.3,52.6 L433.0,53.1 L433.7,53.2 L434.3,53.2 L435.0,53.0 L435.6,52.9 L436.3,52.6 L437.0,52.7 L437.6,52.8 L438.3,52.8 L439.0,53.2 L439.6,53.5 L440.3,53.5 L441.0,53.7 L441.6,53.9 L442.3,54.0 L443.0,54.2 L443.6,54.2 L444.3,54.1 L445.0,54.0 L445.6,53.8 L446.3,53.7 L447.0,53.5 L447.6,53.6 L448.3,52.9 L449.0,53.0 L449.6,52.7 L450.3,52.2 L451.0,52.6 L451.6,52.9 L452.3,52.7 L453.0,53.1 L453.6,53.3 L454.3,53.5 L455.0,53.7 L455.6,53.9 L456.3,54.3 L457.0,54.4 L457.6,55.0 L458.3,55.0 L458.9,55.4 L459.6,55.4 L460.3,55.8 L460.9,55.9 L461.6,55.7 L462.3,56.1 L462.9,56.0 L463.6,55.6 L464.3,55.5 L464.9,55.3 L465.6,55.1 L466.3,54.6 L466.9,54.8 L467.6,54.5 L468.3,54.3 L468.9,54.2 L469.6,53.9 L470.3,53.8 L470.9,53.9 L471.6,53.6 L472.3,53.9 L472.9,53.8 L473.6,53.9 L474.3,53.7 L474.9,54.6 L475.6,54.7 L476.3,54.7 L476.9,55.5 L477.6,55.5 L478.3,55.7 L478.9,55.8 L479.6,55.3 L480.2,55.1 L480.9,54.5 L481.6,54.4 L482.2,53.9 L482.9,54.2 L483.6,54.0 L484.2,54.0 L484.9,54.2 L485.6,54.4 L486.2,54.4 L486.9,54.4 L487.6,54.1 L488.2,54.6 L488.9,54.7 L489.6,55.0 L490.2,55.2 L490.9,55.2 L491.6,55.5 L492.2,55.6 L492.9,55.5 L493.6,55.5 L494.2,55.4 L494.9,55.4 L495.6,55.4 L496.2,55.5 L496.9,55.3 L497.6,55.4 L498.2,55.5 L498.9,55.3 L499.6,55.3 L500.2,55.5 L500.9,55.2 L501.6,54.9 L502.2,55.0 L502.9,54.9 L503.5,55.2 L504.2,55.3 L504.9,55.2 L505.5,55.0 L506.2,55.3 L506.9,55.2 L507.5,54.9 L508.2,55.1 L508.9,55.1 L509.5,55.1 L510.2,55.3 L510.9,55.5 L511.5,55.6 L512.2,55.8 L512.9,55.6 L513.5,55.5 L514.2,55.6 L514.9,55.4 L515.5,55.4 L516.2,55.1 L516.9,55.2 L517.5,55.2 L518.2,55.3 L518.9,55.4 L519.5,55.6 L520.2,56.0 L520.9,56.0 L521.5,56.4 L522.2,56.1 L522.9,56.5 L523.5,56.3 L524.2,56.2 L524.8,55.4 L525.5,54.8 L526.2,54.6 L526.8,54.1 L527.5,54.0 L528.2,54.2 L528.8,54.2 L529.5,54.4 L530.2,55.1 L530.8,54.9 L531.5,55.1 L532.2,54.9 L532.8,55.3 L533.5,55.0 L534.2,54.8 L534.8,55.0 L535.5,54.8" fill="none" stroke="#44AA99" stroke-width="1.0" stroke-opacity="1.0" stroke-linejoin="round"/>
<path d="M335.8,29.3 L336.5,29.0 L337.1,29.0 L337.8,28.5 L338.5,28.5 L339.1,27.8 L339.8,27.5 L340.5,27.8 L341.1,27.7 L341.8,27.9 L342.5,28.0 L343.1,28.5 L343.8,28.5 L344.5,28.6 L345.1,28.8 L345.8,29.1 L346.5,28.9 L347.1,28.8 L347.8,28.6 L348.4,28.7 L349.1,28.6 L349.8,28.3 L350.4,28.3 L351.1,28.3 L351.8,28.4 L352.4,28.4 L353.1,28.6 L353.8,29.2 L354.4,29.2 L355.1,29.4 L355.8,29.7 L356.4,29.8 L357.1,30.2 L357.8,30.2 L358.4,30.5 L359.1,30.3 L359.8,30.4 L360.4,30.6 L361.1,30.6 L361.8,30.4 L362.4,30.4 L363.1,30.4 L363.8,30.3 L364.4,30.1 L365.1,29.7 L365.8,29.8 L366.4,29.3 L367.1,29.7 L367.8,29.5 L368.4,29.6 L369.1,29.6 L369.7,29.9 L370.4,29.9 L371.1,29.9 L371.7,29.4 L372.4,29.3 L373.1,29.2 L373.7,28.9 L374.4,28.7 L375.1,28.6 L375.7,28.3 L376.4,28.8 L377.1,28.4 L377.7,28.6 L378.4,28.6 L379.1,28.6 L379.7,28.6 L380.4,28.4 L381.1,28.3 L381.7,28.4 L382.4,28.1 L383.1,28.1 L383.7,28.1 L384.4,28.4 L385.1,28.9 L385.7,29.5 L386.4,30.9 L387.1,31.9 L387.7,33.9 L388.4,35.7 L389.1,37.1 L389.7,38.7 L390.4,40.1 L391.1,41.3 L391.7,42.5 L392.4,43.4 L393.0,44.0 L393.7,44.6 L394.4,45.1 L395.0,45.3 L395.7,45.8 L396.4,46.6 L397.0,47.2 L397.7,47.8 L398.4,48.3 L399.0,48.4 L399.7,48.6 L400.4,48.6 L401.0,48.8 L401.7,49.0 L402.4,48.7 L403.0,48.6 L403.7,49.1 L404.4,48.9 L405.0,48.8 L405.7,49.1 L406.4,49.2 L407.0,49.0 L407.7,49.1 L408.4,49.2 L409.0,49.0 L409.7,49.1 L410.4,49.2 L411.0,49.4 L411.7,49.6 L412.4,49.5 L413.0,49.7 L413.7,49.5 L414.3,49.7 L415.0,50.1 L415.7,50.1 L416.3,50.2 L417.0,50.5 L417.7,50.9 L418.3,50.9 L419.0,51.1 L419.7,51.1 L420.3,51.3 L421.0,51.5 L421.7,51.5 L422.3,51.6 L423.0,51.9 L423.7,51.9 L424.3,51.4 L425.0,51.1 L425.7,50.7 L426.3,50.5 L427.0,50.3 L427.7,50.5 L428.3,50.4 L429.0,50.5 L429.7,51.1 L430.3,51.5 L431.0,51.4 L431.7,51.6 L432.3,51.6 L433.0,51.9 L433.7,51.9 L434.3,51.8 L435.0,52.2 L435.6,52.2 L436.3,52.0 L437.0,52.3 L437.6,51.8 L438.3,52.0 L439.0,52.0 L439.6,51.9 L440.3,51.8 L441.0,51.7 L441.6,51.7 L442.3,51.9 L443.0,52.3 L443.6,52.3 L444.3,52.6 L445.0,52.5 L445.6,53.2 L446.3,52.7 L447.0,52.7 L447.6,52.7 L448.3,52.7 L449.0,52.8 L449.6,52.9 L450.3,53.1 L451.0,52.7 L451.6,53.1 L452.3,53.3 L453.0,53.5 L453.6,54.0 L454.3,53.8 L455.0,53.7 L455.6,53.5 L456.3,53.6 L457.0,53.4 L457.6,53.4 L458.3,53.4 L458.9,53.6 L459.6,53.6 L460.3,53.8 L460.9,54.2 L461.6,53.9 L462.3,53.9 L462.9,54.3 L463.6,54.1 L464.3,54.3 L464.9,54.1 L465.6,53.6 L466.3,53.5 L466.9,53.1 L467.6,53.1 L468.3,52.8 L468.9,52.9 L469.6,52.6 L470.3,52.6 L470.9,52.7 L471.6,53.0 L472.3,53.0 L472.9,53.3 L473.6,53.3 L474.3,53.6 L474.9,54.0 L475.6,54.1 L476.3,54.5 L476.9,54.2 L477.6,54.3 L478.3,54.1 L478.9,54.2 L479.6,54.1 L480.2,54.1 L480.9,53.6 L481.6,53.8 L482.2,53.3 L482.9,53.4 L483.6,53.3 L484.2,53.6 L484.9,53.7 L485.6,53.8 L486.2,53.8 L486.9,54.1 L487.6,53.9 L488.2,54.0 L488.9,53.7 L489.6,53.7 L490.2,53.8 L490.9,53.7 L491.6,53.7 L492.2,53.9 L492.9,53.7 L493.6,53.9 L494.2,53.5 L494.9,53.5 L495.6,53.1 L496.2,53.2 L496.9,53.1 L497.6,53.1 L498.2,53.5 L498.9,53.7 L499.6,53.7 L500.2,53.7 L500.9,53.7 L501.6,53.9 L502.2,53.6 L502.9,53.7 L503.5,53.6 L504.2,53.8 L504.9,53.7 L505.5,53.7 L506.2,54.1 L506.9,54.2 L507.5,54.3 L508.2,54.4 L508.9,54.5 L509.5,54.4 L510.2,54.4 L510.9,54.0 L511.5,53.9 L512.2,53.5 L512.9,53.7 L513.5,53.1 L514.2,53.0 L514.9,53.2 L515.5,53.3 L516.2,53.2 L516.9,53.0 L517.5,53.0 L518.2,53.2 L518.9,52.9 L519.5,52.8 L520.2,52.6 L520.9,52.4 L521.5,52.0 L522.2,51.9 L522.9,51.7 L523.5,52.0 L524.2,52.0 L524.8,52.5 L525.5,52.8 L526.2,53.1 L526.8,53.4 L527.5,53.9 L528.2,53.6 L528.8,53.7 L529.5,53.7 L530.2,53.5 L530.8,53.3 L531.5,53.2 L532.2,53.2 L532.8,53.5 L533.5,53.6 L534.2,53.8 L534.8,54.1 L535.5,53.8" fill="none" stroke="#44AA99" stroke-width="1.0" stroke-opacity="1.0" stroke-linejoin="round"/>
<path d="M335.8,29.6 L336.5,29.5 L337.1,29.6 L337.8,29.3 L338.5,29.5 L339.1,29.5 L339.8,29.7 L340.5,29.6 L341.1,29.5 L341.8,29.4 L342.5,29.6 L343.1,29.5 L343.8,29.7 L344.5,30.3 L345.1,30.3 L345.8,30.7 L346.5,30.4 L347.1,30.4 L347.8,30.0 L348.4,29.6 L349.1,29.2 L349.8,28.7 L350.4,28.7 L351.1,28.5 L351.8,28.4 L352.4,28.5 L353.1,28.7 L353.8,29.1 L354.4,29.6 L355.1,29.7 L355.8,30.1 L356.4,30.2 L357.1,30.2 L357.8,30.4 L358.4,30.2 L359.1,29.9 L359.8,29.7 L360.4,29.6 L361.1,29.0 L361.8,29.1 L362.4,28.8 L363.1,29.3 L363.8,29.3 L364.4,29.5 L365.1,29.7 L365.8,29.6 L366.4,29.7 L367.1,29.7 L367.8,29.7 L368.4,30.1 L369.1,29.9 L369.7,29.9 L370.4,29.6 L371.1,29.8 L371.7,29.7 L372.4,29.7 L373.1,29.8 L373.7,29.4 L374.4,29.5 L375.1,29.3 L375.7,28.7 L376.4,28.2 L377.1,28.1 L377.7,27.9 L378.4,27.7 L379.1,27.6 L379.7,27.8 L380.4,27.8 L381.1,28.3 L381.7,28.3 L382.4,29.1 L383.1,29.0 L383.7,29.3 L384.4,29.4 L385.1,29.7 L385.7,29.6 L386.4,30.3 L387.1,31.3 L387.7,32.6 L388.4,34.2 L389.1,36.0 L389.7,38.0 L390.4,39.8 L391.1,41.4 L391.7,43.1 L392.4,44.3 L393.0,46.0 L393.7,46.8 L394.4,47.5 L395.0,48.4 L395.7,48.8 L396.4,49.3 L397.0,49.8 L397.7,50.0 L398.4,50.8 L399.0,51.2 L399.7,51.8 L400.4,52.0 L401.0,52.1 L401.7,52.3 L402.4,52.2 L403.0,52.3 L403.7,51.9 L404.4,51.9 L405.0,51.8 L405.7,51.4 L406.4,51.6 L407.0,51.6 L407.7,51.8 L408.4,52.0 L409.0,52.4 L409.7,52.9 L410.4,52.8 L411.0,52.9 L411.7,52.9 L412.4,52.9 L413.0,52.5 L413.7,52.7 L414.3,52.4 L415.0,52.3 L415.7,52.4 L416.3,52.4 L417.0,52.3 L417.7,52.5 L418.3,52.9 L419.0,53.5 L419.7,53.5 L420.3,53.6 L421.0,53.6 L421.7,53.4 L422.3,53.3 L423.0,53.1 L423.7,52.9 L424.3,53.5 L425.0,53.1 L425.7,53.4 L426.3,53.4 L427.0,53.5 L427.7,53.9 L428.3,54.0 L429.0,54.0 L429.7,54.2 L430.3,54.2 L431.0,54.4 L431.7,54.1 L432.3,54.3 L433.0,53.9 L433.7,54.2 L434.3,53.9 L435.0,53.7 L435.6,54.0 L436.3,53.9 L437.0,53.8 L437.6,53.8 L438.3,53.8 L439.0,53.9 L439.6,53.7 L440.3,53.9 L441.0,53.7 L441.6,53.5 L442.3,53.9 L443.0,54.3 L443.6,54.9 L444.3,55.2 L445.0,55.8 L445.6,55.8 L446.3,55.7 L447.0,55.8 L447.6,55.7 L448.3,55.6 L449.0,55.5 L449.6,55.8 L450.3,55.7 L451.0,55.3 L451.6,55.6 L452.3,55.3 L453.0,55.2 L453.6,54.6 L454.3,54.8 L455.0,55.0 L455.6,55.3 L456.3,55.3 L457.0,55.8 L457.6,56.1 L458.3,56.4 L458.9,56.4 L459.6,56.2 L460.3,56.1 L460.9,56.1 L461.6,55.8 L462.3,55.4 L462.9,54.9 L463.6,55.1 L464.3,55.1 L464.9,55.1 L465.6,55.4 L466.3,55.7 L466.9,55.5 L467.6,55.7 L468.3,55.7 L468.9,55.9 L469.6,55.9 L470.3,56.2 L470.9,56.3 L471.6,56.6 L472.3,56.4 L472.9,56.5 L473.6,56.3 L474.3,56.4 L474.9,56.4 L475.6,56.5 L476.3,56.6 L476.9,56.8 L477.6,56.9 L478.3,57.1 L478.9,57.2 L479.6,57.4 L480.2,57.3 L480.9,57.5 L481.6,57.7 L482.2,57.7 L482.9,57.3 L483.6,57.0 L484.2,56.7 L484.9,56.1 L485.6,56.2 L486.2,56.1 L486.9,55.8 L487.6,55.8 L488.2,55.7 L488.9,56.1 L489.6,55.8 L490.2,55.7 L490.9,55.2 L491.6,55.1 L492.2,55.1 L492.9,55.0 L493.6,55.4 L494.2,55.7 L494.9,56.1 L495.6,56.7 L496.2,57.2 L496.9,57.6 L497.6,58.0 L498.2,58.1 L498.9,58.4 L499.6,58.7 L500.2,59.0 L500.9,58.8 L501.6,58.5 L502.2,58.3 L502.9,58.2 L503.5,57.8 L504.2,57.5 L504.9,57.5 L505.5,57.3 L506.2,57.2 L506.9,57.2 L507.5,57.1 L508.2,56.8 L508.9,56.6 L509.5,56.6 L510.2,56.6 L510.9,56.3 L511.5,55.9 L512.2,56.0 L512.9,55.6 L513.5,55.7 L514.2,55.7 L514.9,56.1 L515.5,56.2 L516.2,56.6 L516.9,56.9 L517.5,57.5 L518.2,57.4 L518.9,57.9 L519.5,57.8 L520.2,57.7 L520.9,57.8 L521.5,57.6 L522.2,57.6 L522.9,57.6 L523.5,57.8 L524.2,57.7 L524.8,57.7 L525.5,58.1 L526.2,58.1 L526.8,57.9 L527.5,57.8 L528.2,57.3 L528.8,56.8 L529.5,56.4 L530.2,56.0 L530.8,56.0 L531.5,56.2 L532.2,56.3 L532.8,56.1 L533.5,56.0 L534.2,56.3 L534.8,56.4 L535.5,56.1" fill="none" stroke="#44AA99" stroke-width="1.0" stroke-opacity="1.0" stroke-linejoin="round"/>
<path d="M335.8,28.8 L336.5,28.6 L337.1,28.6 L337.8,28.3 L338.5,28.0 L339.1,28.3 L339.8,27.8 L340.5,28.0 L341.1,27.8 L341.8,28.0 L342.5,27.7 L343.1,28.1 L343.8,28.1 L344.5,28.1 L345.1,28.6 L345.8,28.8 L346.5,28.5 L347.1,28.6 L347.8,28.4 L348.4,28.3 L349.1,28.2 L349.8,27.8 L350.4,27.8 L351.1,28.0 L351.8,27.8 L352.4,27.7 L353.1,27.3 L353.8,27.4 L354.4,27.0 L355.1,27.2 L355.8,27.5 L356.4,27.7 L357.1,28.2 L357.8,28.4 L358.4,29.1 L359.1,29.5 L359.8,29.7 L360.4,29.6 L361.1,29.9 L361.8,29.9 L362.4,29.3 L363.1,29.2 L363.8,29.0 L364.4,28.7 L365.1,28.2 L365.8,28.4 L366.4,27.6 L367.1,27.6 L367.8,27.4 L368.4,27.5 L369.1,27.2 L369.7,27.8 L370.4,27.9 L371.1,28.6 L371.7,28.4 L372.4,28.4 L373.1,28.7 L373.7,28.7 L374.4,28.3 L375.1,28.1 L375.7,28.1 L376.4,28.4 L377.1,28.4 L377.7,28.7 L378.4,28.3 L379.1,28.6 L379.7,28.3 L380.4,28.4 L381.1,28.3 L381.7,28.0 L382.4,28.4 L383.1,28.3 L383.7,28.8 L384.4,29.5 L385.1,30.6 L385.7,32.0 L386.4,34.1 L387.1,36.4 L387.7,38.7 L388.4,40.3 L389.1,42.0 L389.7,43.5 L390.4,44.7 L391.1,46.2 L391.7,46.7 L392.4,47.3 L393.0,47.7 L393.7,48.0 L394.4,48.1 L395.0,48.3 L395.7,48.3 L396.4,48.4 L397.0,48.2 L397.7,48.4 L398.4,48.4 L399.0,48.3 L399.7,48.5 L400.4,48.6 L401.0,48.9 L401.7,48.8 L402.4,46.9 L403.0,48.7 L403.7,48.9 L404.4,46.8 L405.0,49.3 L405.7,49.4 L406.4,48.3 L407.0,49.9 L407.7,49.4 L408.4,49.6 L409.0,47.9 L409.7,49.9 L410.4,50.3 L411.0,50.0 L411.7,50.2 L412.4,48.3 L413.0,50.2 L413.7,50.3 L414.3,49.4 L415.0,48.4 L415.7,49.6 L416.3,51.1 L417.0,51.2 L417.7,51.0 L418.3,51.2 L419.0,51.2 L419.7,51.2 L420.3,51.3 L421.0,51.2 L421.7,51.2 L422.3,51.0 L423.0,50.9 L423.7,50.8 L424.3,51.0 L425.0,50.9 L425.7,50.9 L426.3,50.8 L427.0,49.0 L427.7,49.0 L428.3,51.6 L429.0,52.1 L429.7,52.7 L430.3,52.7 L431.0,52.9 L431.7,53.1 L432.3,51.4 L433.0,52.2 L433.7,53.7 L434.3,53.8 L435.0,54.0 L435.6,53.5 L436.3,53.7 L437.0,51.4 L437.6,53.0 L438.3,52.6 L439.0,52.4 L439.6,52.3 L440.3,52.1 L441.0,50.3 L441.6,52.5 L442.3,52.2 L443.0,50.4 L443.6,52.4 L444.3,52.4 L445.0,52.6 L445.6,52.6 L446.3,52.8 L447.0,52.6 L447.6,52.5 L448.3,52.6 L449.0,52.7 L449.6,52.4 L450.3,51.8 L451.0,52.9 L451.6,53.1 L452.3,53.0 L453.0,52.9 L453.6,53.2 L454.3,53.2 L455.0,53.3 L455.6,53.5 L456.3,52.1 L457.0,52.2 L457.6,54.1 L458.3,54.2 L458.9,53.0 L459.6,54.5 L460.3,54.6 L460.9,54.6 L461.6,54.4 L462.3,54.2 L462.9,53.7 L463.6,53.9 L464.3,53.5 L464.9,53.4 L465.6,53.6 L466.3,53.4 L466.9,54.0 L467.6,53.8 L468.3,53.2 L468.9,54.0 L469.6,54.0 L470.3,54.1 L470.9,51.6 L471.6,51.2 L472.3,53.6 L472.9,51.6 L473.6,52.9 L474.3,52.8 L474.9,52.8 L475.6,52.6 L476.3,52.8 L476.9,50.4 L477.6,52.8 L478.3,52.8 L478.9,52.8 L479.6,53.0 L480.2,52.7 L480.9,53.0 L481.6,53.3 L482.2,53.5 L482.9,54.1 L483.6,51.4 L484.2,54.3 L484.9,54.2 L485.6,54.3 L486.2,53.9 L486.9,54.0 L487.6,53.8 L488.2,53.6 L488.9,52.4 L489.6,54.0 L490.2,54.0 L490.9,53.9 L491.6,53.8 L492.2,53.4 L492.9,51.8 L493.6,53.1 L494.2,51.4 L494.9,52.5 L495.6,52.3 L496.2,52.3 L496.9,52.3 L497.6,52.5 L498.2,52.6 L498.9,51.7 L499.6,52.8 L500.2,51.4 L500.9,52.8 L501.6,52.7 L502.2,52.6 L502.9,52.8 L503.5,53.3 L504.2,53.2 L504.9,53.8 L505.5,53.9 L506.2,54.1 L506.9,51.0 L507.5,54.9 L508.2,55.1 L508.9,55.1 L509.5,52.6 L510.2,55.7 L510.9,55.5 L511.5,55.3 L512.2,55.1 L512.9,55.1 L513.5,54.8 L514.2,55.0 L514.9,52.6 L515.5,55.2 L516.2,50.1 L516.9,55.0 L517.5,54.9 L518.2,55.4 L518.9,55.0 L519.5,53.3 L520.2,55.2 L520.9,53.1 L521.5,55.1 L522.2,55.3 L522.9,55.4 L523.5,55.3 L524.2,51.3 L524.8,55.0 L525.5,55.0 L526.2,51.6 L526.8,55.0 L527.5,53.0 L528.2,51.3 L528.8,55.3 L529.5,55.4 L530.2,55.3 L530.8,55.7 L531.5,55.5 L532.2,55.3 L532.8,55.2 L533.5,55.4 L534.2,55.3 L534.8,55.2 L535.5,55.0" fill="none" stroke="#117733" stroke-width="1.0" stroke-opacity="1.0" stroke-linejoin="round"/>
<path d="M335.8,29.2 L336.5,29.0 L337.1,28.9 L337.8,28.7 L338.5,28.3 L339.1,28.0 L339.8,28.1 L340.5,27.7 L341.1,27.7 L341.8,27.8 L342.5,28.0 L343.1,28.1 L343.8,28.5 L344.5,28.8 L345.1,29.1 L345.8,29.5 L346.5,29.4 L347.1,29.7 L347.8,29.6 L348.4,29.3 L349.1,29.3 L349.8,29.2 L350.4,29.5 L351.1,29.9 L351.8,29.9 L352.4,30.4 L353.1,30.7 L353.8,31.1 L354.4,31.1 L355.1,31.5 L355.8,31.1 L356.4,31.4 L357.1,30.9 L357.8,31.0 L358.4,30.5 L359.1,30.0 L359.8,30.2 L360.4,30.2 L361.1,29.6 L361.8,29.9 L362.4,29.9 L363.1,29.6 L363.8,30.2 L364.4,30.2 L365.1,30.4 L365.8,30.5 L366.4,30.8 L367.1,30.4 L367.8,30.2 L368.4,30.1 L369.1,29.8 L369.7,29.6 L370.4,29.0 L371.1,28.9 L371.7,28.5 L372.4,28.2 L373.1,28.3 L373.7,28.6 L374.4,28.6 L375.1,28.4 L375.7,28.6 L376.4,28.5 L377.1,29.0 L377.7,28.8 L378.4,28.8 L379.1,28.9 L379.7,28.8 L380.4,28.5 L381.1,28.4 L381.7,28.5 L382.4,28.2 L383.1,28.1 L383.7,28.4 L384.4,28.4 L385.1,28.8 L385.7,30.0 L386.4,31.2 L387.1,33.4 L387.7,35.4 L388.4,37.6 L389.1,39.7 L389.7,41.4 L390.4,42.8 L391.1,43.8 L391.7,44.6 L392.4,45.2 L393.0,46.1 L393.7,46.8 L394.4,47.3 L395.0,48.2 L395.7,48.9 L396.4,49.3 L397.0,50.0 L397.7,50.4 L398.4,50.8 L399.0,51.1 L399.7,51.4 L400.4,51.5 L401.0,51.3 L401.7,50.9 L402.4,50.7 L403.0,50.4 L403.7,48.3 L404.4,50.6 L405.0,50.9 L405.7,49.6 L406.4,51.3 L407.0,51.8 L407.7,50.7 L408.4,52.4 L409.0,52.3 L409.7,52.4 L410.4,52.7 L411.0,52.6 L411.7,52.4 L412.4,52.6 L413.0,52.8 L413.7,53.0 L414.3,52.9 L415.0,52.6 L415.7,52.1 L416.3,51.9 L417.0,51.7 L417.7,51.5 L418.3,51.3 L419.0,51.7 L419.7,51.7 L420.3,51.8 L421.0,51.9 L421.7,52.4 L422.3,53.0 L423.0,53.1 L423.7,53.4 L424.3,50.8 L425.0,53.2 L425.7,53.2 L426.3,53.2 L427.0,53.3 L427.7,53.4 L428.3,53.3 L429.0,51.5 L429.7,53.4 L430.3,51.5 L431.0,53.8 L431.7,53.5 L432.3,53.6 L433.0,53.6 L433.7,53.8 L434.3,53.9 L435.0,54.1 L435.6,51.5 L436.3,54.7 L437.0,55.1 L437.6,53.4 L438.3,55.4 L439.0,55.8 L439.6,55.9 L440.3,56.0 L441.0,55.9 L441.6,53.2 L442.3,55.6 L443.0,53.6 L443.6,55.0 L444.3,54.6 L445.0,54.8 L445.6,54.3 L446.3,54.3 L447.0,54.2 L447.6,53.8 L448.3,53.6 L449.0,53.6 L449.6,53.7 L450.3,54.0 L451.0,54.1 L451.6,54.5 L452.3,54.7 L453.0,54.9 L453.6,55.0 L454.3,54.9 L455.0,55.2 L455.6,52.3 L456.3,54.8 L457.0,54.4 L457.6,54.5 L458.3,54.9 L458.9,54.8 L459.6,54.7 L460.3,54.7 L460.9,54.5 L461.6,54.1 L462.3,53.7 L462.9,53.5 L463.6,53.7 L464.3,53.7 L464.9,53.8 L465.6,54.2 L466.3,54.6 L466.9,54.7 L467.6,54.6 L468.3,52.9 L468.9,54.7 L469.6,54.9 L470.3,55.0 L470.9,54.7 L471.6,54.9 L472.3,54.6 L472.9,54.9 L473.6,54.8 L474.3,54.8 L474.9,54.4 L475.6,54.6 L476.3,55.0 L476.9,55.5 L477.6,55.4 L478.3,55.9 L478.9,56.5 L479.6,56.7 L480.2,56.6 L480.9,56.6 L481.6,56.4 L482.2,56.2 L482.9,56.1 L483.6,55.9 L484.2,55.7 L484.9,55.6 L485.6,55.6 L486.2,55.4 L486.9,55.0 L487.6,55.4 L488.2,55.7 L488.9,56.2 L489.6,56.4 L490.2,56.5 L490.9,56.6 L491.6,56.8 L492.2,56.3 L492.9,55.7 L493.6,55.0 L494.2,54.8 L494.9,54.7 L495.6,54.7 L496.2,55.0 L496.9,55.3 L497.6,55.6 L498.2,56.4 L498.9,56.3 L499.6,56.6 L500.2,54.9 L500.9,57.0 L501.6,57.0 L502.2,56.7 L502.9,56.6 L503.5,53.8 L504.2,56.1 L504.9,56.4 L505.5,56.1 L506.2,56.1 L506.9,56.0 L507.5,54.5 L508.2,56.7 L508.9,56.7 L509.5,52.6 L510.2,56.5 L510.9,56.6 L511.5,56.5 L512.2,52.9 L512.9,56.4 L513.5,56.3 L514.2,51.4 L514.9,56.6 L515.5,51.9 L516.2,56.4 L516.9,56.5 L517.5,56.3 L518.2,56.3 L518.9,56.2 L519.5,56.3 L520.2,56.1 L520.9,55.9 L521.5,55.9 L522.2,56.3 L522.9,56.7 L523.5,56.8 L524.2,56.9 L524.8,57.3 L525.5,57.2 L526.2,57.4 L526.8,57.5 L527.5,57.4 L528.2,57.2 L528.8,56.8 L529.5,56.9 L530.2,56.8 L530.8,56.6 L531.5,56.4 L532.2,56.5 L532.8,56.4 L533.5,56.5 L534.2,56.5 L534.8,56.5 L535.5,56.7" fill="none" stroke="#117733" stroke-width="1.0" stroke-opacity="1.0" stroke-linejoin="round"/>
<path d="M335.8,30.2 L336.5,30.2 L337.1,30.0 L337.8,29.8 L338.5,30.1 L339.1,29.9 L339.8,29.8 L340.5,29.9 L341.1,30.2 L341.8,30.0 L342.5,30.1 L343.1,29.9 L343.8,30.0 L344.5,29.7 L345.1,30.0 L345.8,29.8 L346.5,29.9 L347.1,29.6 L347.8,29.7 L348.4,30.1 L349.1,30.0 L349.8,30.1 L350.4,30.2 L351.1,30.1 L351.8,29.9 L352.4,29.8 L353.1,30.1 L353.8,30.1 L354.4,30.2 L355.1,30.3 L355.8,30.4 L356.4,30.1 L357.1,29.9 L357.8,30.1 L358.4,29.6 L359.1,29.5 L359.8,29.5 L360.4,29.1 L361.1,29.4 L361.8,29.3 L362.4,29.3 L363.1,29.4 L363.8,29.2 L364.4,29.7 L365.1,30.0 L365.8,30.2 L366.4,30.3 L367.1,30.6 L367.8,30.7 L368.4,30.4 L369.1,30.1 L369.7,30.0 L370.4,29.5 L371.1,29.5 L371.7,29.4 L372.4,29.2 L373.1,28.9 L373.7,29.0 L374.4,28.7 L375.1,28.7 L375.7,28.8 L376.4,28.8 L377.1,28.9 L377.7,29.2 L378.4,29.6 L379.1,30.0 L379.7,30.7 L380.4,31.2 L381.1,31.5 L381.7,31.4 L382.4,31.2 L383.1,30.9 L383.7,30.4 L384.4,30.2 L385.1,30.0 L385.7,30.1 L386.4,30.7 L387.1,32.3 L387.7,34.0 L388.4,36.0 L389.1,38.5 L389.7,40.3 L390.4,42.1 L391.1,43.5 L391.7,44.6 L392.4,45.7 L393.0,46.3 L393.7,47.0 L394.4,47.5 L395.0,47.8 L395.7,48.4 L396.4,49.0 L397.0,49.2 L397.7,49.7 L398.4,50.1 L399.0,50.5 L399.7,50.8 L400.4,51.1 L401.0,51.4 L401.7,51.7 L402.4,52.1 L403.0,52.4 L403.7,52.4 L404.4,53.2 L405.0,53.7 L405.7,53.7 L406.4,54.3 L407.0,54.5 L407.7,54.6 L408.4,54.7 L409.0,54.6 L409.7,54.6 L410.4,54.5 L411.0,54.2 L411.7,54.2 L412.4,54.3 L413.0,54.2 L413.7,54.2 L414.3,53.8 L415.0,53.8 L415.7,53.4 L416.3,53.8 L417.0,53.6 L417.7,54.1 L418.3,54.4 L419.0,54.5 L419.7,54.5 L420.3,54.5 L421.0,54.9 L421.7,54.7 L422.3,54.8 L423.0,54.6 L423.7,54.4 L424.3,54.0 L425.0,54.2 L425.7,54.3 L426.3,54.8 L427.0,54.9 L427.7,55.2 L428.3,55.2 L429.0,55.5 L429.7,55.3 L430.3,55.0 L431.0,54.5 L431.7,53.9 L432.3,53.8 L433.0,53.3 L433.7,53.3 L434.3,53.3 L435.0,53.3 L435.6,53.5 L436.3,53.7 L437.0,53.7 L437.6,54.1 L438.3,54.7 L439.0,55.1 L439.6,55.2 L440.3,55.8 L441.0,55.9 L441.6,55.9 L442.3,55.9 L443.0,55.7 L443.6,55.4 L444.3,55.1 L445.0,55.1 L445.6,54.8 L446.3,54.8 L447.0,55.0 L447.6,54.9 L448.3,55.1 L449.0,55.4 L449.6,55.3 L450.3,55.2 L451.0,55.2 L451.6,55.4 L452.3,55.5 L453.0,55.3 L453.6,55.1 L454.3,55.2 L455.0,55.4 L455.6,55.3 L456.3,55.5 L457.0,55.6 L457.6,55.6 L458.3,55.5 L458.9,55.6 L459.6,55.7 L460.3,55.7 L460.9,55.9 L461.6,56.0 L462.3,56.5 L462.9,56.5 L463.6,56.6 L464.3,56.2 L464.9,56.0 L465.6,56.0 L466.3,55.2 L466.9,55.2 L467.6,55.1 L468.3,55.1 L468.9,55.1 L469.6,55.3 L470.3,55.3 L470.9,55.4 L471.6,55.7 L472.3,55.8 L472.9,56.2 L473.6,56.2 L474.3,56.4 L474.9,56.5 L475.6,56.5 L476.3,56.7 L476.9,56.6 L477.6,56.8 L478.3,57.0 L478.9,56.8 L479.6,56.9 L480.2,57.4 L480.9,57.6 L481.6,57.5 L482.2,57.5 L482.9,57.6 L483.6,57.7 L484.2,57.8 L484.9,57.6 L485.6,57.5 L486.2,57.5 L486.9,57.3 L487.6,57.1 L488.2,57.3 L488.9,57.4 L489.6,57.5 L490.2,57.3 L490.9,57.4 L491.6,57.4 L492.2,57.5 L492.9,57.5 L493.6,57.4 L494.2,57.6 L494.9,57.3 L495.6,57.3 L496.2,57.2 L496.9,57.0 L497.6,56.7 L498.2,56.4 L498.9,56.4 L499.6,56.0 L500.2,56.2 L500.9,56.2 L501.6,56.6 L502.2,56.4 L502.9,56.5 L503.5,57.0 L504.2,57.0 L504.9,57.1 L505.5,57.4 L506.2,57.2 L506.9,57.3 L507.5,57.6 L508.2,57.9 L508.9,58.0 L509.5,58.2 L510.2,58.7 L510.9,58.7 L511.5,58.6 L512.2,58.9 L512.9,58.3 L513.5,57.9 L514.2,58.1 L514.9,57.7 L515.5,58.0 L516.2,58.1 L516.9,58.4 L517.5,58.8 L518.2,59.1 L518.9,58.7 L519.5,59.3 L520.2,59.0 L520.9,58.6 L521.5,58.4 L522.2,58.1 L522.9,58.1 L523.5,57.8 L524.2,57.9 L524.8,58.0 L525.5,57.8 L526.2,57.8 L526.8,58.0 L527.5,57.9 L528.2,57.5 L528.8,57.2 L529.5,57.3 L530.2,56.9 L530.8,56.9 L531.5,57.1 L532.2,57.4 L532.8,57.3 L533.5,57.6 L534.2,57.8 L534.8,58.4 L535.5,58.6" fill="none" stroke="#117733" stroke-width="1.0" stroke-opacity="1.0" stroke-linejoin="round"/>
<path d="M335.8,29.4 L336.5,29.3 L337.1,29.2 L337.8,29.4 L338.5,29.2 L339.1,29.0 L339.8,28.9 L340.5,28.9 L341.1,28.5 L341.8,28.5 L342.5,28.1 L343.1,27.9 L343.8,27.8 L344.5,27.8 L345.1,27.6 L345.8,27.6 L346.5,27.5 L347.1,27.5 L347.8,27.2 L348.4,26.9 L349.1,27.1 L349.8,27.1 L350.4,27.4 L351.1,27.7 L351.8,28.5 L352.4,28.4 L353.1,28.9 L353.8,29.3 L354.4,29.4 L355.1,29.3 L355.8,29.4 L356.4,29.2 L357.1,28.9 L357.8,28.9 L358.4,28.6 L359.1,28.5 L359.8,28.7 L360.4,29.0 L361.1,29.1 L361.8,29.0 L362.4,29.4 L363.1,29.2 L363.8,29.0 L364.4,28.7 L365.1,28.8 L365.8,28.7 L366.4,28.6 L367.1,29.1 L367.8,29.7 L368.4,29.9 L369.1,30.4 L369.7,30.4 L370.4,30.8 L371.1,30.4 L371.7,30.0 L372.4,30.0 L373.1,29.6 L373.7,29.3 L374.4,29.2 L375.1,29.3 L375.7,29.4 L376.4,29.8 L377.1,30.0 L377.7,29.8 L378.4,30.2 L379.1,30.1 L379.7,30.0 L380.4,29.8 L381.1,29.8 L381.7,29.8 L382.4,29.8 L383.1,30.2 L383.7,31.1 L384.4,32.1 L385.1,33.7 L385.7,36.3 L386.4,39.4 L387.1,42.7 L387.7,45.4 L388.4,47.6 L389.1,49.9 L389.7,51.8 L390.4,53.7 L391.1,54.9 L391.7,55.7 L392.4,56.5 L393.0,56.8 L393.7,57.4 L394.4,57.5 L395.0,57.9 L395.7,58.4 L396.4,58.6 L397.0,59.1 L397.7,59.7 L398.4,60.3 L399.0,60.8 L399.7,61.4 L400.4,61.7 L401.0,61.8 L401.7,61.8 L402.4,61.6 L403.0,61.8 L403.7,61.9 L404.4,61.7 L405.0,61.8 L405.7,61.5 L406.4,61.4 L407.0,61.2 L407.7,61.0 L408.4,60.8 L409.0,60.8 L409.7,61.0 L410.4,60.6 L411.0,60.8 L411.7,60.5 L412.4,60.5 L413.0,60.3 L413.7,60.7 L414.3,61.0 L415.0,61.5 L415.7,61.8 L416.3,62.3 L417.0,62.7 L417.7,62.7 L418.3,62.6 L419.0,62.7 L419.7,62.6 L420.3,62.9 L421.0,62.9 L421.7,63.0 L422.3,63.3 L423.0,62.9 L423.7,63.3 L424.3,62.9 L425.0,62.9 L425.7,62.5 L426.3,62.2 L427.0,62.0 L427.7,62.1 L428.3,62.1 L429.0,62.0 L429.7,62.3 L430.3,62.5 L431.0,62.5 L431.7,63.0 L432.3,62.6 L433.0,62.3 L433.7,62.2 L434.3,62.3 L435.0,62.6 L435.6,62.6 L436.3,62.7 L437.0,63.3 L437.6,63.3 L438.3,63.2 L439.0,63.1 L439.6,63.2 L440.3,63.1 L441.0,63.0 L441.6,63.0 L442.3,63.1 L443.0,63.6 L443.6,63.8 L444.3,64.0 L445.0,64.0 L445.6,64.5 L446.3,65.0 L447.0,64.8 L447.6,64.9 L448.3,64.6 L449.0,64.2 L449.6,63.9 L450.3,63.9 L451.0,63.7 L451.6,63.4 L452.3,63.4 L453.0,63.4 L453.6,63.7 L454.3,64.0 L455.0,64.0 L455.6,64.0 L456.3,63.9 L457.0,63.6 L457.6,63.2 L458.3,62.9 L458.9,63.0 L459.6,63.0 L460.3,63.3 L460.9,63.7 L461.6,64.1 L462.3,64.5 L462.9,64.9 L463.6,65.6 L464.3,65.4 L464.9,65.4 L465.6,65.2 L466.3,64.8 L466.9,64.5 L467.6,63.9 L468.3,63.7 L468.9,63.3 L469.6,63.3 L470.3,63.5 L470.9,63.5 L471.6,63.4 L472.3,63.5 L472.9,63.5 L473.6,63.7 L474.3,63.6 L474.9,63.4 L475.6,63.4 L476.3,63.6 L476.9,63.9 L477.6,64.0 L478.3,64.1 L478.9,64.3 L479.6,64.3 L480.2,64.2 L480.9,64.3 L481.6,64.0 L482.2,64.1 L482.9,64.2 L483.6,64.6 L484.2,64.7 L484.9,64.6 L485.6,64.6 L486.2,64.4 L486.9,64.2 L487.6,64.2 L488.2,63.8 L488.9,64.1 L489.6,64.3 L490.2,64.1 L490.9,64.5 L491.6,64.3 L492.2,64.4 L492.9,64.3 L493.6,64.3 L494.2,64.3 L494.9,64.1 L495.6,63.8 L496.2,63.6 L496.9,63.6 L497.6,63.3 L498.2,63.1 L498.9,62.9 L499.6,62.9 L500.2,62.9 L500.9,63.3 L501.6,63.4 L502.2,63.8 L502.9,64.1 L503.5,64.6 L504.2,64.5 L504.9,64.4 L505.5,64.6 L506.2,63.9 L506.9,63.7 L507.5,63.4 L508.2,63.3 L508.9,63.2 L509.5,63.4 L510.2,63.6 L510.9,63.6 L511.5,63.8 L512.2,64.3 L512.9,64.1 L513.5,64.2 L514.2,64.3 L514.9,64.8 L515.5,64.8 L516.2,65.2 L516.9,65.4 L517.5,65.7 L518.2,65.8 L518.9,65.7 L519.5,65.5 L520.2,65.0 L520.9,64.9 L521.5,64.6 L522.2,64.2 L522.9,64.1 L523.5,64.2 L524.2,64.1 L524.8,64.1 L525.5,64.0 L526.2,64.3 L526.8,64.5 L527.5,64.6 L528.2,64.4 L528.8,64.3 L529.5,64.5 L530.2,64.4 L530.8,64.8 L531.5,64.7 L532.2,64.8 L532.8,65.5 L533.5,65.4 L534.2,65.7 L534.8,65.9 L535.5,66.2" fill="none" stroke="#999933" stroke-width="1.0" stroke-opacity="1.0" stroke-linejoin="round"/>
<path d="M335.8,28.2 L336.5,28.3 L337.1,28.0 L337.8,27.7 L338.5,27.5 L339.1,27.2 L339.8,27.2 L340.5,27.0 L341.1,26.8 L341.8,26.8 L342.5,27.0 L343.1,26.9 L343.8,27.1 L344.5,27.4 L345.1,27.3 L345.8,27.5 L346.5,27.9 L347.1,27.8 L347.8,28.1 L348.4,28.3 L349.1,28.6 L349.8,28.4 L350.4,28.4 L351.1,28.1 L351.8,28.1 L352.4,27.8 L353.1,27.4 L353.8,27.5 L354.4,27.5 L355.1,27.3 L355.8,27.5 L356.4,27.8 L357.1,27.7 L357.8,28.3 L358.4,28.2 L359.1,28.4 L359.8,28.4 L360.4,28.6 L361.1,29.1 L361.8,29.3 L362.4,29.5 L363.1,29.7 L363.8,29.9 L364.4,29.9 L365.1,29.8 L365.8,30.1 L366.4,30.2 L367.1,29.9 L367.8,29.8 L368.4,29.7 L369.1,29.3 L369.7,29.1 L370.4,28.8 L371.1,28.7 L371.7,28.6 L372.4,28.7 L373.1,28.6 L373.7,28.8 L374.4,28.7 L375.1,28.9 L375.7,29.0 L376.4,29.1 L377.1,29.3 L377.7,29.3 L378.4,29.4 L379.1,29.7 L379.7,29.3 L380.4,29.2 L381.1,28.8 L381.7,28.2 L382.4,27.9 L383.1,27.3 L383.7,27.1 L384.4,28.0 L385.1,28.9 L385.7,31.1 L386.4,34.1 L387.1,37.6 L387.7,41.2 L388.4,44.7 L389.1,47.3 L389.7,49.7 L390.4,51.6 L391.1,53.4 L391.7,55.0 L392.4,56.3 L393.0,57.3 L393.7,58.3 L394.4,59.6 L395.0,60.3 L395.7,61.1 L396.4,61.7 L397.0,62.3 L397.7,62.8 L398.4,63.3 L399.0,63.5 L399.7,63.9 L400.4,64.1 L401.0,64.1 L401.7,64.1 L402.4,64.1 L403.0,64.3 L403.7,64.4 L404.4,64.6 L405.0,64.3 L405.7,64.4 L406.4,64.3 L407.0,64.1 L407.7,63.9 L408.4,63.7 L409.0,63.8 L409.7,64.2 L410.4,64.4 L411.0,64.8 L411.7,65.0 L412.4,65.1 L413.0,64.8 L413.7,64.9 L414.3,65.1 L415.0,65.0 L415.7,65.1 L416.3,65.3 L417.0,65.4 L417.7,66.3 L418.3,66.7 L419.0,67.0 L419.7,67.3 L420.3,67.8 L421.0,67.4 L421.7,67.4 L422.3,67.1 L423.0,67.0 L423.7,66.5 L424.3,66.1 L425.0,66.4 L425.7,66.6 L426.3,66.8 L427.0,66.3 L427.7,66.1 L428.3,66.3 L429.0,65.8 L429.7,66.0 L430.3,65.9 L431.0,65.7 L431.7,65.9 L432.3,65.7 L433.0,65.7 L433.7,65.9 L434.3,65.9 L435.0,65.8 L435.6,66.1 L436.3,66.2 L437.0,66.4 L437.6,66.9 L438.3,66.6 L439.0,66.8 L439.6,66.9 L440.3,66.7 L441.0,66.7 L441.6,66.6 L442.3,66.6 L443.0,66.6 L443.6,66.6 L444.3,66.6 L445.0,66.8 L445.6,66.9 L446.3,67.1 L447.0,67.0 L447.6,67.6 L448.3,67.5 L449.0,67.3 L449.6,67.7 L450.3,67.7 L451.0,67.7 L451.6,68.1 L452.3,68.6 L453.0,68.6 L453.6,68.8 L454.3,68.5 L455.0,68.3 L455.6,68.3 L456.3,68.1 L457.0,68.0 L457.6,67.6 L458.3,67.7 L458.9,67.5 L459.6,67.3 L460.3,67.0 L460.9,67.0 L461.6,67.0 L462.3,67.0 L462.9,66.9 L463.6,67.0 L464.3,67.1 L464.9,67.2 L465.6,67.3 L466.3,67.4 L466.9,67.8 L467.6,68.1 L468.3,68.2 L468.9,68.4 L469.6,68.4 L470.3,68.6 L470.9,68.7 L471.6,68.4 L472.3,68.6 L472.9,68.7 L473.6,68.3 L474.3,68.4 L474.9,68.4 L475.6,68.2 L476.3,68.6 L476.9,68.5 L477.6,68.5 L478.3,68.5 L478.9,68.6 L479.6,68.6 L480.2,68.5 L480.9,68.3 L481.6,68.7 L482.2,68.4 L482.9,68.5 L483.6,68.3 L484.2,68.6 L484.9,68.3 L485.6,68.7 L486.2,68.7 L486.9,69.1 L487.6,69.7 L488.2,69.7 L488.9,69.8 L489.6,69.8 L490.2,70.0 L490.9,69.9 L491.6,69.5 L492.2,69.6 L492.9,69.3 L493.6,69.3 L494.2,69.5 L494.9,69.4 L495.6,69.4 L496.2,69.4 L496.9,69.0 L497.6,68.7 L498.2,68.6 L498.9,68.8 L499.6,68.7 L500.2,69.1 L500.9,69.2 L501.6,69.4 L502.2,69.5 L502.9,69.6 L503.5,69.9 L504.2,70.1 L504.9,70.4 L505.5,70.7 L506.2,71.0 L506.9,70.8 L507.5,70.9 L508.2,70.4 L508.9,70.0 L509.5,69.8 L510.2,69.2 L510.9,68.5 L511.5,68.4 L512.2,68.2 L512.9,68.2 L513.5,68.2 L514.2,68.3 L514.9,68.6 L515.5,68.5 L516.2,68.9 L516.9,69.0 L517.5,69.0 L518.2,69.1 L518.9,69.0 L519.5,68.9 L520.2,69.4 L520.9,69.4 L521.5,69.3 L522.2,69.5 L522.9,69.5 L523.5,70.0 L524.2,69.9 L524.8,70.6 L525.5,70.4 L526.2,70.6 L526.8,70.6 L527.5,71.3 L528.2,71.2 L528.8,71.3 L529.5,71.4 L530.2,71.0 L530.8,70.9 L531.5,70.7 L532.2,70.6 L532.8,70.4 L533.5,70.5 L534.2,70.7 L534.8,70.3 L535.5,70.5" fill="none" stroke="#999933" stroke-width="1.0" stroke-opacity="1.0" stroke-linejoin="round"/>
<path d="M335.8,28.3 L336.5,27.9 L337.1,28.0 L337.8,28.2 L338.5,28.5 L339.1,28.8 L339.8,28.7 L340.5,28.6 L341.1,28.7 L341.8,28.2 L342.5,27.8 L343.1,27.6 L343.8,27.0 L344.5,27.0 L345.1,26.8 L345.8,26.6 L346.5,26.6 L347.1,26.5 L347.8,27.1 L348.4,27.4 L349.1,27.6 L349.8,27.9 L350.4,28.5 L351.1,28.3 L351.8,28.7 L352.4,28.0 L353.1,28.0 L353.8,27.7 L354.4,27.2 L355.1,27.3 L355.8,27.4 L356.4,27.3 L357.1,27.1 L357.8,27.3 L358.4,27.3 L359.1,27.0 L359.8,26.9 L360.4,26.5 L361.1,26.2 L361.8,25.7 L362.4,25.6 L363.1,25.4 L363.8,25.4 L364.4,25.5 L365.1,26.2 L365.8,26.2 L366.4,26.6 L367.1,26.5 L367.8,26.7 L368.4,27.0 L369.1,27.3 L369.7,27.6 L370.4,27.9 L371.1,27.6 L371.7,27.8 L372.4,27.7 L373.1,27.6 L373.7,27.4 L374.4,27.1 L375.1,27.3 L375.7,27.0 L376.4,27.2 L377.1,26.9 L377.7,26.8 L378.4,26.6 L379.1,26.3 L379.7,26.5 L380.4,26.6 L381.1,26.8 L381.7,26.9 L382.4,27.0 L383.1,27.1 L383.7,27.1 L384.4,27.3 L385.1,27.8 L385.7,29.2 L386.4,31.0 L387.1,33.9 L387.7,37.3 L388.4,41.2 L389.1,44.5 L389.7,47.2 L390.4,49.9 L391.1,51.8 L391.7,53.6 L392.4,55.1 L393.0,56.4 L393.7,57.4 L394.4,58.4 L395.0,59.4 L395.7,59.8 L396.4,60.6 L397.0,61.3 L397.7,61.5 L398.4,62.1 L399.0,62.9 L399.7,63.5 L400.4,64.0 L401.0,64.4 L401.7,65.2 L402.4,65.3 L403.0,65.8 L403.7,65.9 L404.4,66.3 L405.0,66.3 L405.7,66.4 L406.4,66.4 L407.0,66.8 L407.7,66.5 L408.4,67.0 L409.0,66.8 L409.7,66.7 L410.4,66.8 L411.0,66.7 L411.7,67.1 L412.4,66.9 L413.0,66.7 L413.7,66.8 L414.3,67.0 L415.0,66.9 L415.7,67.0 L416.3,67.4 L417.0,67.3 L417.7,67.8 L418.3,68.2 L419.0,68.3 L419.7,68.6 L420.3,68.7 L421.0,68.8 L421.7,69.1 L422.3,69.1 L423.0,69.4 L423.7,69.4 L424.3,69.9 L425.0,69.9 L425.7,69.8 L426.3,69.7 L427.0,69.9 L427.7,69.5 L428.3,69.0 L429.0,68.7 L429.7,68.5 L430.3,68.4 L431.0,68.3 L431.7,68.6 L432.3,68.8 L433.0,68.7 L433.7,69.0 L434.3,69.4 L435.0,69.7 L435.6,69.6 L436.3,70.0 L437.0,70.1 L437.6,69.7 L438.3,69.9 L439.0,69.5 L439.6,69.3 L440.3,69.4 L441.0,69.5 L441.6,69.6 L442.3,70.1 L443.0,70.3 L443.6,70.5 L444.3,71.0 L445.0,71.0 L445.6,71.4 L446.3,71.5 L447.0,71.6 L447.6,71.4 L448.3,71.4 L449.0,71.2 L449.6,70.8 L450.3,70.7 L451.0,70.9 L451.6,70.4 L452.3,70.5 L453.0,70.4 L453.6,70.3 L454.3,70.2 L455.0,70.3 L455.6,70.1 L456.3,70.1 L457.0,70.3 L457.6,70.4 L458.3,70.4 L458.9,70.6 L459.6,70.8 L460.3,71.0 L460.9,71.0 L461.6,71.3 L462.3,71.3 L462.9,71.5 L463.6,71.7 L464.3,72.2 L464.9,72.3 L465.6,72.2 L466.3,72.3 L466.9,72.4 L467.6,72.5 L468.3,72.5 L468.9,72.3 L469.6,72.1 L470.3,71.7 L470.9,71.1 L471.6,71.0 L472.3,70.5 L472.9,70.2 L473.6,70.4 L474.3,70.4 L474.9,70.3 L475.6,70.6 L476.3,71.0 L476.9,71.0 L477.6,71.6 L478.3,71.3 L478.9,71.6 L479.6,71.6 L480.2,71.3 L480.9,71.1 L481.6,70.9 L482.2,70.6 L482.9,70.6 L483.6,70.5 L484.2,70.1 L484.9,70.0 L485.6,70.4 L486.2,70.4 L486.9,70.7 L487.6,70.9 L488.2,70.9 L488.9,71.0 L489.6,71.3 L490.2,71.5 L490.9,71.9 L491.6,71.9 L492.2,71.7 L492.9,71.8 L493.6,71.6 L494.2,71.5 L494.9,71.5 L495.6,71.4 L496.2,71.6 L496.9,71.8 L497.6,72.3 L498.2,72.0 L498.9,72.2 L499.6,72.4 L500.2,72.5 L500.9,72.5 L501.6,72.3 L502.2,72.4 L502.9,72.1 L503.5,72.1 L504.2,71.9 L504.9,71.9 L505.5,71.9 L506.2,72.0 L506.9,71.7 L507.5,71.6 L508.2,72.1 L508.9,71.6 L509.5,71.9 L510.2,72.2 L510.9,72.3 L511.5,72.6 L512.2,72.7 L512.9,72.6 L513.5,72.8 L514.2,72.7 L514.9,72.7 L515.5,72.6 L516.2,72.5 L516.9,72.2 L517.5,72.2 L518.2,71.8 L518.9,72.0 L519.5,72.0 L520.2,72.2 L520.9,72.6 L521.5,73.2 L522.2,73.3 L522.9,74.1 L523.5,73.9 L524.2,74.6 L524.8,74.4 L525.5,74.2 L526.2,74.1 L526.8,74.1 L527.5,73.9 L528.2,73.5 L528.8,73.8 L529.5,73.6 L530.2,73.7 L530.8,73.8 L531.5,74.0 L532.2,74.0 L532.8,73.9 L533.5,73.3 L534.2,73.2 L534.8,73.0 L535.5,72.9" fill="none" stroke="#999933" stroke-width="1.0" stroke-opacity="1.0" stroke-linejoin="round"/>
<path d="M335.8,30.8 L336.5,31.4 L337.1,30.9 L337.8,30.9 L338.5,30.9 L339.1,30.4 L339.8,30.2 L340.5,29.9 L341.1,29.6 L341.8,28.8 L342.5,29.2 L343.1,28.8 L343.8,28.7 L344.5,29.0 L345.1,29.3 L345.8,29.5 L346.5,29.8 L347.1,30.0 L347.8,30.2 L348.4,30.5 L349.1,30.6 L349.8,30.3 L350.4,30.6 L351.1,30.5 L351.8,30.0 L352.4,30.3 L353.1,30.2 L353.8,30.0 L354.4,29.5 L355.1,29.6 L355.8,29.5 L356.4,29.8 L357.1,29.7 L357.8,29.6 L358.4,29.6 L359.1,29.4 L359.8,29.5 L360.4,30.1 L361.1,30.1 L361.8,30.3 L362.4,30.5 L363.1,30.7 L363.8,30.8 L364.4,31.2 L365.1,31.2 L365.8,30.6 L366.4,30.5 L367.1,30.4 L367.8,29.8 L368.4,29.4 L369.1,29.2 L369.7,29.0 L370.4,28.6 L371.1,28.9 L371.7,28.8 L372.4,28.9 L373.1,29.2 L373.7,29.0 L374.4,29.8 L375.1,29.6 L375.7,30.6 L376.4,30.9 L377.1,31.2 L377.7,31.4 L378.4,31.5 L379.1,31.5 L379.7,31.4 L380.4,31.0 L381.1,30.8 L381.7,30.9 L382.4,30.7 L383.1,30.9 L383.7,31.3 L384.4,32.4 L385.1,34.0 L385.7,36.0 L386.4,39.1 L387.1,41.6 L387.7,44.0 L388.4,46.5 L389.1,47.8 L389.7,49.3 L390.4,51.1 L391.1,52.3 L391.7,53.6 L392.4,55.0 L393.0,56.2 L393.7,57.0 L394.4,57.6 L395.0,58.3 L395.7,58.6 L396.4,58.9 L397.0,59.1 L397.7,59.1 L398.4,59.3 L399.0,59.2 L399.7,58.9 L400.4,59.1 L401.0,58.8 L401.7,58.7 L402.4,58.6 L403.0,58.6 L403.7,58.4 L404.4,58.0 L405.0,57.7 L405.7,57.7 L406.4,57.6 L407.0,57.6 L407.7,57.5 L408.4,58.0 L409.0,57.7 L409.7,57.9 L410.4,58.2 L411.0,58.6 L411.7,58.5 L412.4,58.8 L413.0,58.5 L413.7,58.7 L414.3,58.7 L415.0,58.6 L415.7,58.8 L416.3,58.9 L417.0,59.0 L417.7,59.3 L418.3,59.4 L419.0,59.3 L419.7,59.2 L420.3,59.1 L421.0,58.8 L421.7,58.7 L422.3,58.7 L423.0,58.6 L423.7,58.8 L424.3,58.8 L425.0,58.9 L425.7,58.9 L426.3,59.0 L427.0,59.0 L427.7,58.7 L428.3,58.5 L429.0,58.3 L429.7,58.2 L430.3,58.0 L431.0,58.4 L431.7,58.7 L432.3,58.8 L433.0,59.2 L433.7,59.5 L434.3,59.6 L435.0,59.5 L435.6,60.1 L436.3,59.9 L437.0,59.6 L437.6,59.5 L438.3,59.1 L439.0,58.7 L439.6,58.7 L440.3,58.7 L441.0,58.6 L441.6,59.1 L442.3,59.0 L443.0,59.1 L443.6,59.1 L444.3,59.3 L445.0,59.3 L445.6,59.2 L446.3,59.1 L447.0,59.4 L447.6,59.5 L448.3,60.2 L449.0,60.2 L449.6,60.3 L450.3,60.6 L451.0,60.3 L451.6,60.0 L452.3,59.6 L453.0,59.2 L453.6,59.0 L454.3,58.9 L455.0,58.7 L455.6,58.6 L456.3,58.5 L457.0,58.7 L457.6,58.9 L458.3,59.0 L458.9,59.1 L459.6,59.1 L460.3,59.1 L460.9,59.2 L461.6,59.1 L462.3,59.6 L462.9,59.6 L463.6,60.0 L464.3,60.1 L464.9,60.5 L465.6,60.7 L466.3,61.1 L466.9,61.4 L467.6,61.2 L468.3,61.2 L468.9,60.9 L469.6,60.8 L470.3,60.6 L470.9,60.4 L471.6,60.3 L472.3,59.9 L472.9,60.2 L473.6,60.0 L474.3,59.9 L474.9,59.8 L475.6,59.7 L476.3,59.6 L476.9,59.6 L477.6,59.4 L478.3,59.5 L478.9,59.7 L479.6,59.7 L480.2,59.8 L480.9,60.1 L481.6,60.4 L482.2,60.6 L482.9,60.7 L483.6,61.0 L484.2,61.2 L484.9,61.2 L485.6,60.9 L486.2,61.1 L486.9,60.9 L487.6,60.9 L488.2,60.4 L488.9,60.7 L489.6,60.8 L490.2,60.8 L490.9,61.0 L491.6,60.7 L492.2,60.3 L492.9,60.3 L493.6,60.1 L494.2,59.9 L494.9,59.7 L495.6,59.8 L496.2,59.7 L496.9,59.9 L497.6,60.4 L498.2,60.5 L498.9,61.2 L499.6,61.3 L500.2,61.1 L500.9,61.0 L501.6,60.8 L502.2,61.0 L502.9,60.5 L503.5,60.3 L504.2,59.8 L504.9,59.6 L505.5,59.5 L506.2,59.4 L506.9,59.7 L507.5,59.7 L508.2,60.1 L508.9,60.1 L509.5,60.5 L510.2,60.7 L510.9,61.1 L511.5,61.3 L512.2,61.3 L512.9,61.0 L513.5,61.2 L514.2,60.6 L514.9,60.6 L515.5,60.6 L516.2,60.2 L516.9,60.3 L517.5,60.1 L518.2,60.2 L518.9,60.1 L519.5,60.2 L520.2,60.2 L520.9,60.4 L521.5,60.1 L522.2,60.2 L522.9,60.1 L523.5,60.1 L524.2,60.2 L524.8,60.6 L525.5,60.6 L526.2,61.0 L526.8,60.9 L527.5,60.9 L528.2,60.8 L528.8,60.8 L529.5,60.4 L530.2,60.4 L530.8,60.4 L531.5,60.9 L532.2,61.2 L532.8,61.6 L533.5,61.8 L534.2,62.3 L534.8,62.2 L535.5,62.0" fill="none" stroke="#DDCC77" stroke-width="1.0" stroke-opacity="1.0" stroke-linejoin="round"/>
<path d="M335.8,28.8 L336.5,28.6 L337.1,28.9 L337.8,28.8 L338.5,28.5 L339.1,28.1 L339.8,28.3 L340.5,28.1 L341.1,28.3 L341.8,27.9 L342.5,27.7 L343.1,27.3 L343.8,27.2 L344.5,26.5 L345.1,26.7 L345.8,26.3 L346.5,26.8 L347.1,26.8 L347.8,27.2 L348.4,27.5 L349.1,28.1 L349.8,28.5 L350.4,28.2 L351.1,28.3 L351.8,28.1 L352.4,27.9 L353.1,27.8 L353.8,27.5 L354.4,27.6 L355.1,27.6 L355.8,27.6 L356.4,27.8 L357.1,27.7 L357.8,27.6 L358.4,27.5 L359.1,27.7 L359.8,27.7 L360.4,27.6 L361.1,27.4 L361.8,27.3 L362.4,27.2 L363.1,27.4 L363.8,27.3 L364.4,27.5 L365.1,28.0 L365.8,28.5 L366.4,29.0 L367.1,29.7 L367.8,29.9 L368.4,30.4 L369.1,30.2 L369.7,30.1 L370.4,29.4 L371.1,29.0 L371.7,28.6 L372.4,28.7 L373.1,28.7 L373.7,28.8 L374.4,28.8 L375.1,28.8 L375.7,29.0 L376.4,29.0 L377.1,29.2 L377.7,28.7 L378.4,28.6 L379.1,28.7 L379.7,28.9 L380.4,28.6 L381.1,28.4 L381.7,28.0 L382.4,28.1 L383.1,28.1 L383.7,28.0 L384.4,28.4 L385.1,29.6 L385.7,31.4 L386.4,33.8 L387.1,37.1 L387.7,40.2 L388.4,43.5 L389.1,46.4 L389.7,48.6 L390.4,50.5 L391.1,52.1 L391.7,53.5 L392.4,54.4 L393.0,55.4 L393.7,56.3 L394.4,56.8 L395.0,57.3 L395.7,58.0 L396.4,58.2 L397.0,58.9 L397.7,59.5 L398.4,59.7 L399.0,60.2 L399.7,60.2 L400.4,60.6 L401.0,60.4 L401.7,60.5 L402.4,60.3 L403.0,60.1 L403.7,60.0 L404.4,60.3 L405.0,60.4 L405.7,60.8 L406.4,61.0 L407.0,61.3 L407.7,62.0 L408.4,62.2 L409.0,62.6 L409.7,62.5 L410.4,62.5 L411.0,62.5 L411.7,62.5 L412.4,62.6 L413.0,62.6 L413.7,62.4 L414.3,62.3 L415.0,62.7 L415.7,62.8 L416.3,63.0 L417.0,63.1 L417.7,62.7 L418.3,62.5 L419.0,62.4 L419.7,61.8 L420.3,61.0 L421.0,60.9 L421.7,60.6 L422.3,60.7 L423.0,60.7 L423.7,61.1 L424.3,61.4 L425.0,61.8 L425.7,61.7 L426.3,61.8 L427.0,62.3 L427.7,62.3 L428.3,62.2 L429.0,62.2 L429.7,62.1 L430.3,62.1 L431.0,61.8 L431.7,62.1 L432.3,62.0 L433.0,61.8 L433.7,62.1 L434.3,61.8 L435.0,62.3 L435.6,62.5 L436.3,62.7 L437.0,63.2 L437.6,63.5 L438.3,63.8 L439.0,63.7 L439.6,63.7 L440.3,63.8 L441.0,63.5 L441.6,63.2 L442.3,63.1 L443.0,63.1 L443.6,62.8 L444.3,62.6 L445.0,62.9 L445.6,63.0 L446.3,62.9 L447.0,62.7 L447.6,62.5 L448.3,62.4 L449.0,62.2 L449.6,62.2 L450.3,61.7 L451.0,61.5 L451.6,61.4 L452.3,61.4 L453.0,61.0 L453.6,61.6 L454.3,61.7 L455.0,62.1 L455.6,62.9 L456.3,63.4 L457.0,63.6 L457.6,63.6 L458.3,63.4 L458.9,63.0 L459.6,62.9 L460.3,62.6 L460.9,62.3 L461.6,61.9 L462.3,61.8 L462.9,62.1 L463.6,62.3 L464.3,62.6 L464.9,63.4 L465.6,63.8 L466.3,64.2 L466.9,64.7 L467.6,64.6 L468.3,64.5 L468.9,64.2 L469.6,63.5 L470.3,63.3 L470.9,62.6 L471.6,62.3 L472.3,61.9 L472.9,62.0 L473.6,61.7 L474.3,61.8 L474.9,61.8 L475.6,62.0 L476.3,62.6 L476.9,62.7 L477.6,63.1 L478.3,63.0 L478.9,63.0 L479.6,63.3 L480.2,63.3 L480.9,63.2 L481.6,63.5 L482.2,63.7 L482.9,64.1 L483.6,64.1 L484.2,64.1 L484.9,64.5 L485.6,64.3 L486.2,64.4 L486.9,64.3 L487.6,64.0 L488.2,64.0 L488.9,63.6 L489.6,63.7 L490.2,63.4 L490.9,63.5 L491.6,63.3 L492.2,63.2 L492.9,62.7 L493.6,62.9 L494.2,62.8 L494.9,62.4 L495.6,62.5 L496.2,62.8 L496.9,63.0 L497.6,63.4 L498.2,63.5 L498.9,63.6 L499.6,63.7 L500.2,63.8 L500.9,63.8 L501.6,64.0 L502.2,64.3 L502.9,64.3 L503.5,64.2 L504.2,64.4 L504.9,64.3 L505.5,64.8 L506.2,64.7 L506.9,64.8 L507.5,64.7 L508.2,64.9 L508.9,64.8 L509.5,64.4 L510.2,64.4 L510.9,63.8 L511.5,63.4 L512.2,63.5 L512.9,63.3 L513.5,63.6 L514.2,63.7 L514.9,63.7 L515.5,63.8 L516.2,63.8 L516.9,64.1 L517.5,63.9 L518.2,64.2 L518.9,64.6 L519.5,64.5 L520.2,65.0 L520.9,64.7 L521.5,64.9 L522.2,65.0 L522.9,65.0 L523.5,64.8 L524.2,64.6 L524.8,64.1 L525.5,63.6 L526.2,63.4 L526.8,63.3 L527.5,63.3 L528.2,63.6 L528.8,64.0 L529.5,64.3 L530.2,64.2 L530.8,64.8 L531.5,64.7 L532.2,64.8 L532.8,65.0 L533.5,64.8 L534.2,64.8 L534.8,64.5 L535.5,64.3" fill="none" stroke="#DDCC77" stroke-width="1.0" stroke-opacity="1.0" stroke-linejoin="round"/>
<path d="M335.8,28.5 L336.5,28.3 L337.1,28.2 L337.8,28.2 L338.5,28.5 L339.1,28.4 L339.8,28.5 L340.5,28.5 L341.1,28.6 L341.8,28.3 L342.5,28.6 L343.1,29.0 L343.8,29.0 L344.5,29.1 L345.1,29.2 L345.8,29.3 L346.5,29.6 L347.1,29.4 L347.8,29.7 L348.4,30.0 L349.1,30.2 L349.8,30.1 L350.4,30.1 L351.1,30.0 L351.8,29.4 L352.4,29.0 L353.1,29.0 L353.8,29.0 L354.4,28.6 L355.1,29.0 L355.8,29.0 L356.4,29.2 L357.1,28.9 L357.8,29.5 L358.4,29.2 L359.1,29.8 L359.8,29.6 L360.4,29.9 L361.1,30.3 L361.8,30.1 L362.4,30.2 L363.1,30.2 L363.8,29.7 L364.4,29.4 L365.1,28.9 L365.8,28.7 L366.4,28.3 L367.1,28.2 L367.8,28.0 L368.4,28.2 L369.1,28.3 L369.7,28.0 L370.4,28.1 L371.1,27.8 L371.7,27.7 L372.4,27.8 L373.1,27.9 L373.7,27.7 L374.4,27.8 L375.1,27.9 L375.7,28.1 L376.4,28.2 L377.1,28.4 L377.7,28.4 L378.4,27.8 L379.1,28.0 L379.7,28.3 L380.4,28.0 L381.1,28.0 L381.7,28.2 L382.4,28.0 L383.1,27.8 L383.7,27.7 L384.4,27.8 L385.1,28.5 L385.7,29.3 L386.4,30.7 L387.1,32.6 L387.7,35.1 L388.4,38.2 L389.1,40.9 L389.7,43.6 L390.4,46.0 L391.1,48.2 L391.7,49.9 L392.4,51.8 L393.0,53.6 L393.7,55.6 L394.4,56.8 L395.0,57.8 L395.7,59.1 L396.4,60.0 L397.0,60.3 L397.7,60.7 L398.4,61.0 L399.0,61.0 L399.7,61.0 L400.4,61.1 L401.0,61.1 L401.7,61.2 L402.4,61.0 L403.0,60.9 L403.7,61.1 L404.4,61.3 L405.0,61.7 L405.7,61.5 L406.4,62.0 L407.0,61.9 L407.7,62.3 L408.4,62.3 L409.0,62.5 L409.7,62.9 L410.4,63.4 L411.0,63.5 L411.7,63.5 L412.4,63.7 L413.0,63.8 L413.7,63.9 L414.3,64.4 L415.0,64.7 L415.7,64.6 L416.3,64.8 L417.0,64.5 L417.7,64.3 L418.3,64.3 L419.0,63.6 L419.7,63.1 L420.3,63.2 L421.0,62.8 L421.7,62.8 L422.3,63.0 L423.0,63.2 L423.7,63.2 L424.3,63.6 L425.0,63.9 L425.7,64.1 L426.3,64.5 L427.0,64.8 L427.7,65.3 L428.3,65.6 L429.0,65.3 L429.7,65.6 L430.3,65.3 L431.0,65.2 L431.7,64.9 L432.3,65.1 L433.0,65.4 L433.7,65.3 L434.3,65.2 L435.0,65.6 L435.6,65.6 L436.3,65.3 L437.0,65.4 L437.6,65.6 L438.3,65.5 L439.0,65.6 L439.6,65.7 L440.3,65.6 L441.0,65.2 L441.6,65.2 L442.3,64.9 L443.0,64.9 L443.6,64.9 L444.3,64.8 L445.0,65.0 L445.6,64.9 L446.3,65.1 L447.0,65.1 L447.6,65.1 L448.3,65.2 L449.0,64.8 L449.6,65.1 L450.3,64.7 L451.0,64.8 L451.6,64.3 L452.3,64.3 L453.0,64.2 L453.6,64.1 L454.3,64.1 L455.0,64.2 L455.6,64.4 L456.3,64.6 L457.0,65.0 L457.6,65.2 L458.3,65.5 L458.9,65.7 L459.6,65.8 L460.3,65.6 L460.9,65.9 L461.6,65.3 L462.3,65.5 L462.9,65.3 L463.6,65.5 L464.3,65.8 L464.9,66.0 L465.6,66.3 L466.3,66.9 L466.9,67.1 L467.6,67.2 L468.3,66.8 L468.9,66.8 L469.6,66.7 L470.3,66.7 L470.9,66.8 L471.6,66.4 L472.3,66.6 L472.9,66.4 L473.6,66.2 L474.3,66.4 L474.9,66.5 L475.6,66.9 L476.3,66.7 L476.9,66.9 L477.6,67.1 L478.3,67.1 L478.9,67.3 L479.6,67.1 L480.2,66.8 L480.9,66.4 L481.6,66.3 L482.2,66.3 L482.9,66.2 L483.6,66.1 L484.2,66.5 L484.9,66.5 L485.6,66.5 L486.2,66.6 L486.9,66.5 L487.6,66.7 L488.2,66.6 L488.9,66.7 L489.6,66.9 L490.2,67.1 L490.9,67.7 L491.6,67.8 L492.2,68.1 L492.9,68.3 L493.6,68.3 L494.2,68.2 L494.9,68.1 L495.6,68.1 L496.2,67.5 L496.9,67.7 L497.6,67.3 L498.2,67.2 L498.9,66.6 L499.6,67.0 L500.2,66.5 L500.9,66.2 L501.6,65.9 L502.2,66.0 L502.9,66.0 L503.5,65.8 L504.2,66.0 L504.9,66.3 L505.5,66.5 L506.2,66.8 L506.9,66.9 L507.5,67.3 L508.2,67.2 L508.9,67.4 L509.5,67.3 L510.2,67.4 L510.9,67.6 L511.5,67.3 L512.2,67.3 L512.9,67.5 L513.5,67.6 L514.2,67.6 L514.9,67.5 L515.5,67.5 L516.2,67.9 L516.9,67.9 L517.5,67.7 L518.2,67.7 L518.9,67.6 L519.5,67.4 L520.2,67.3 L520.9,66.9 L521.5,66.9 L522.2,67.0 L522.9,66.8 L523.5,66.7 L524.2,66.9 L524.8,67.0 L525.5,67.2 L526.2,67.3 L526.8,67.3 L527.5,67.3 L528.2,67.7 L528.8,67.8 L529.5,67.6 L530.2,67.4 L530.8,67.6 L531.5,67.1 L532.2,66.9 L532.8,66.8 L533.5,66.6 L534.2,66.5 L534.8,67.0 L535.5,67.0" fill="none" stroke="#DDCC77" stroke-width="1.0" stroke-opacity="1.0" stroke-linejoin="round"/>
<line x1="335.80" y1="13.20" x2="335.80" y2="115.80" stroke="#262626" stroke-width="1.1" />
<line x1="335.30" y1="115.30" x2="536.00" y2="115.30" stroke="#262626" stroke-width="1.1" />
<line x1="331.80" y1="86.50" x2="335.80" y2="86.50" stroke="#262626" stroke-width="1.0" />
<text class="s" x="326.20" y="88.50" font-size="6.3" text-anchor="end" fill="#1a1a1a" >20</text>
<line x1="331.80" y1="53.20" x2="335.80" y2="53.20" stroke="#262626" stroke-width="1.0" />
<text class="s" x="326.20" y="55.20" font-size="6.3" text-anchor="end" fill="#1a1a1a" >22</text>
<line x1="331.80" y1="19.90" x2="335.80" y2="19.90" stroke="#262626" stroke-width="1.0" />
<text class="s" x="326.20" y="21.90" font-size="6.3" text-anchor="end" fill="#1a1a1a" >24</text>
<line x1="335.80" y1="115.30" x2="335.80" y2="119.30" stroke="#262626" stroke-width="1.0" />
<text class="s" x="335.80" y="129.10" font-size="7" text-anchor="middle" fill="#1a1a1a" >0</text>
<line x1="369.08" y1="115.30" x2="369.08" y2="119.30" stroke="#262626" stroke-width="1.0" />
<text class="s" x="369.08" y="129.10" font-size="7" text-anchor="middle" fill="#1a1a1a" >100</text>
<line x1="402.37" y1="115.30" x2="402.37" y2="119.30" stroke="#262626" stroke-width="1.0" />
<text class="s" x="402.37" y="129.10" font-size="7" text-anchor="middle" fill="#1a1a1a" >200</text>
<line x1="435.65" y1="115.30" x2="435.65" y2="119.30" stroke="#262626" stroke-width="1.0" />
<text class="s" x="435.65" y="129.10" font-size="7" text-anchor="middle" fill="#1a1a1a" >300</text>
<line x1="468.93" y1="115.30" x2="468.93" y2="119.30" stroke="#262626" stroke-width="1.0" />
<text class="s" x="468.93" y="129.10" font-size="7" text-anchor="middle" fill="#1a1a1a" >400</text>
<line x1="502.22" y1="115.30" x2="502.22" y2="119.30" stroke="#262626" stroke-width="1.0" />
<text class="s" x="502.22" y="129.10" font-size="7" text-anchor="middle" fill="#1a1a1a" >500</text>
<line x1="535.50" y1="115.30" x2="535.50" y2="119.30" stroke="#262626" stroke-width="1.0" />
<text class="s" x="535.50" y="129.10" font-size="7" text-anchor="middle" fill="#1a1a1a" >600</text>
<text x="435.75" y="137.50" font-size="9.8" text-anchor="middle" fill="#1a1a1a" >time (s)</text>
<text x="301.20" y="17.20" font-size="14" text-anchor="start" fill="#1a1a1a" letter-spacing="0.3">(b)</text>
<text transform="translate(315.7,64.2) rotate(-90)" font-size="9.8" text-anchor="middle" fill="#1a1a1a">Γ<tspan dy="2.2" font-size="6.8">coh</tspan><tspan dy="-2.2"> (pg/mm</tspan><tspan dy="-3.3" font-size="6.5">2</tspan><tspan dy="3.3">)</tspan></text>
<line x1="339.30" y1="70.60" x2="349.90" y2="70.60" stroke="#332288" stroke-width="1.3" stroke-opacity="0.65"/>
<text x="353.2" y="72.35" font-size="4.7" fill="#222" textLength="29.0" lengthAdjust="spacingAndGlyphs">Δ<tspan font-style="italic">n</tspan><tspan dy="0.8" font-size="3.3" font-style="italic">c</tspan><tspan dy="-0.8"> = 0.0054</tspan></text>
<line x1="339.30" y1="77.98" x2="349.90" y2="77.98" stroke="#88CCEE" stroke-width="1.3" stroke-opacity="0.65"/>
<text x="353.2" y="79.73" font-size="4.7" fill="#222" textLength="29.0" lengthAdjust="spacingAndGlyphs">Δ<tspan font-style="italic">n</tspan><tspan dy="0.8" font-size="3.3" font-style="italic">c</tspan><tspan dy="-0.8"> = 0.0105</tspan></text>
<line x1="339.30" y1="85.36" x2="349.90" y2="85.36" stroke="#44AA99" stroke-width="1.3" stroke-opacity="0.65"/>
<text x="353.2" y="87.11" font-size="4.7" fill="#222" textLength="29.0" lengthAdjust="spacingAndGlyphs">Δ<tspan font-style="italic">n</tspan><tspan dy="0.8" font-size="3.3" font-style="italic">c</tspan><tspan dy="-0.8"> = 0.0156</tspan></text>
<line x1="339.30" y1="92.74" x2="349.90" y2="92.74" stroke="#117733" stroke-width="1.3" stroke-opacity="0.65"/>
<text x="353.2" y="94.49" font-size="4.7" fill="#222" textLength="29.0" lengthAdjust="spacingAndGlyphs">Δ<tspan font-style="italic">n</tspan><tspan dy="0.8" font-size="3.3" font-style="italic">c</tspan><tspan dy="-0.8"> = 0.0208</tspan></text>
<line x1="339.30" y1="100.12" x2="349.90" y2="100.12" stroke="#999933" stroke-width="1.3" stroke-opacity="0.65"/>
<text x="353.2" y="101.87" font-size="4.7" fill="#222" textLength="29.0" lengthAdjust="spacingAndGlyphs">Δ<tspan font-style="italic">n</tspan><tspan dy="0.8" font-size="3.3" font-style="italic">c</tspan><tspan dy="-0.8"> = 0.0262</tspan></text>
<line x1="339.30" y1="107.50" x2="349.90" y2="107.50" stroke="#DDCC77" stroke-width="1.3" stroke-opacity="0.65"/>
<text x="353.2" y="109.25" font-size="4.7" fill="#222" textLength="25.6" lengthAdjust="spacingAndGlyphs">Δ<tspan font-style="italic">n</tspan><tspan dy="0.8" font-size="3.3" font-style="italic">c</tspan><tspan dy="-0.8"> = 0.031</tspan></text>
<line x1="52.30" y1="160.20" x2="52.30" y2="261.20" stroke="#262626" stroke-width="1.1" />
<line x1="51.80" y1="260.70" x2="284.40" y2="260.70" stroke="#262626" stroke-width="1.1" />
<line x1="48.30" y1="239.60" x2="52.30" y2="239.60" stroke="#262626" stroke-width="1.0" />
<text class="s" x="43.60" y="242.10" font-size="7.2" text-anchor="end" fill="#1a1a1a" textLength="17.8" lengthAdjust="spacingAndGlyphs">2000</text>
<line x1="48.30" y1="209.60" x2="52.30" y2="209.60" stroke="#262626" stroke-width="1.0" />
<text class="s" x="43.60" y="212.10" font-size="7.2" text-anchor="end" fill="#1a1a1a" textLength="17.8" lengthAdjust="spacingAndGlyphs">4000</text>
<line x1="48.30" y1="179.60" x2="52.30" y2="179.60" stroke="#262626" stroke-width="1.0" />
<text class="s" x="43.60" y="182.10" font-size="7.2" text-anchor="end" fill="#1a1a1a" textLength="17.8" lengthAdjust="spacingAndGlyphs">6000</text>
<line x1="63.10" y1="260.70" x2="63.10" y2="264.70" stroke="#262626" stroke-width="1.0" />
<text class="s" x="63.10" y="274.60" font-size="7.2" text-anchor="middle" fill="#1a1a1a" textLength="24.6" lengthAdjust="spacingAndGlyphs">0.0054</text>
<line x1="104.91" y1="260.70" x2="104.91" y2="264.70" stroke="#262626" stroke-width="1.0" />
<text class="s" x="104.91" y="274.60" font-size="7.2" text-anchor="middle" fill="#1a1a1a" textLength="24.6" lengthAdjust="spacingAndGlyphs">0.0105</text>
<line x1="146.73" y1="260.70" x2="146.73" y2="264.70" stroke="#262626" stroke-width="1.0" />
<text class="s" x="146.73" y="274.60" font-size="7.2" text-anchor="middle" fill="#1a1a1a" textLength="24.6" lengthAdjust="spacingAndGlyphs">0.0156</text>
<line x1="189.36" y1="260.70" x2="189.36" y2="264.70" stroke="#262626" stroke-width="1.0" />
<text class="s" x="189.36" y="274.60" font-size="7.2" text-anchor="middle" fill="#1a1a1a" textLength="24.6" lengthAdjust="spacingAndGlyphs">0.0208</text>
<line x1="233.64" y1="260.70" x2="233.64" y2="264.70" stroke="#262626" stroke-width="1.0" />
<text class="s" x="233.64" y="274.60" font-size="7.2" text-anchor="middle" fill="#1a1a1a" textLength="24.6" lengthAdjust="spacingAndGlyphs">0.0262</text>
<line x1="272.99" y1="260.70" x2="272.99" y2="264.70" stroke="#262626" stroke-width="1.0" />
<text class="s" x="272.99" y="274.60" font-size="7.2" text-anchor="middle" fill="#1a1a1a" textLength="24.6" lengthAdjust="spacingAndGlyphs">0.0310</text>
<line x1="63.00" y1="250.30" x2="273.90" y2="164.60" stroke="#999" stroke-width="0.9" />
<rect x="62.10" y="249.50" width="2" height="2" fill="#1a1a8a"/>
<rect x="62.10" y="251.50" width="2" height="2" fill="#1a1a8a"/>
<rect x="62.10" y="255.10" width="2" height="2" fill="#1a1a8a"/>
<rect x="103.91" y="241.10" width="2" height="2" fill="#1a1a8a"/>
<rect x="103.91" y="242.90" width="2" height="2" fill="#1a1a8a"/>
<rect x="145.73" y="218.50" width="2" height="2" fill="#1a1a8a"/>
<rect x="145.73" y="222.50" width="2" height="2" fill="#1a1a8a"/>
<rect x="145.73" y="225.90" width="2" height="2" fill="#1a1a8a"/>
<rect x="188.36" y="208.50" width="2" height="2" fill="#1a1a8a"/>
<rect x="188.36" y="210.20" width="2" height="2" fill="#1a1a8a"/>
<rect x="232.64" y="192.80" width="2" height="2" fill="#1a1a8a"/>
<rect x="232.64" y="195.50" width="2" height="2" fill="#1a1a8a"/>
<rect x="271.99" y="174.60" width="2" height="2" fill="#1a1a8a"/>
<rect x="271.99" y="178.30" width="2" height="2" fill="#1a1a8a"/>
<rect x="271.99" y="181.30" width="2" height="2" fill="#1a1a8a"/>
<text x="72.90" y="190.50" font-size="9.7" text-anchor="start" fill="#1a1a1a" >ΔΓ</text>
<text x="83.40" y="190.50" font-size="9.7" text-anchor="start" fill="#1a1a1a" textLength="4.0" lengthAdjust="spacingAndGlyphs">/</text>
<text x="87.70" y="190.50" font-size="9.7" text-anchor="start" fill="#1a1a1a" >Δn</text>
<text x="99.20" y="194.40" font-size="5.6" text-anchor="start" fill="#1a1a1a" >c</text>
<text x="102.60" y="190.50" font-size="9.7" text-anchor="start" fill="#1a1a1a" >=</text>
<text x="111.00" y="190.50" font-size="9.7" text-anchor="start" fill="#1a1a1a" textLength="35.3" lengthAdjust="spacing">225,000</text>
<text x="148.20" y="190.50" font-size="9.7" text-anchor="start" fill="#1a1a1a" textLength="30.1" lengthAdjust="spacing">pg/mm</text>
<text x="178.60" y="186.50" font-size="5.8" text-anchor="start" fill="#1a1a1a" >2</text>
<text x="181.70" y="190.50" font-size="9.7" text-anchor="start" fill="#1a1a1a" textLength="19.5" lengthAdjust="spacing">/RIU</text>
<text x="6.70" y="164.50" font-size="14" text-anchor="start" fill="#1a1a1a" letter-spacing="0.3">(c)</text>
<text transform="translate(23.5,209.3) rotate(-90)" font-size="11.3" text-anchor="middle" fill="#1a1a1a">Γ (pg/mm<tspan dy="-3.7" font-size="7.5">2</tspan><tspan dy="3.7">)</tspan></text>
<text x="159.5" y="284" font-size="10.2" fill="#1a1a1a">Δ<tspan font-style="italic">n</tspan><tspan dy="2" font-size="7" font-style="italic">c</tspan></text>
<line x1="336.20" y1="161.50" x2="336.20" y2="262.80" stroke="#262626" stroke-width="1.1" />
<line x1="335.70" y1="262.30" x2="534.50" y2="262.30" stroke="#262626" stroke-width="1.1" />
<line x1="332.20" y1="171.80" x2="336.20" y2="171.80" stroke="#262626" stroke-width="1.0" />
<text class="s" x="327.80" y="174.20" font-size="7" text-anchor="end" fill="#1a1a1a" >0</text>
<line x1="332.20" y1="200.07" x2="336.20" y2="200.07" stroke="#262626" stroke-width="1.0" />
<text class="s" x="327.80" y="202.47" font-size="7" text-anchor="end" fill="#1a1a1a" >−1</text>
<line x1="332.20" y1="228.34" x2="336.20" y2="228.34" stroke="#262626" stroke-width="1.0" />
<text class="s" x="327.80" y="230.74" font-size="7" text-anchor="end" fill="#1a1a1a" >−2</text>
<line x1="332.20" y1="256.61" x2="336.20" y2="256.61" stroke="#262626" stroke-width="1.0" />
<text class="s" x="327.80" y="259.01" font-size="7" text-anchor="end" fill="#1a1a1a" >−3</text>
<line x1="377.20" y1="262.30" x2="377.20" y2="266.30" stroke="#262626" stroke-width="1.0" />
<text class="s" x="377.20" y="276.50" font-size="7" text-anchor="middle" fill="#1a1a1a" >0.0054</text>
<line x1="406.90" y1="262.30" x2="406.90" y2="266.30" stroke="#262626" stroke-width="1.0" />
<text class="s" x="406.90" y="276.50" font-size="7" text-anchor="middle" fill="#1a1a1a" >0.0105</text>
<line x1="436.90" y1="262.30" x2="436.90" y2="266.30" stroke="#262626" stroke-width="1.0" />
<text class="s" x="436.90" y="276.50" font-size="7" text-anchor="middle" fill="#1a1a1a" >0.0156</text>
<line x1="467.20" y1="262.30" x2="467.20" y2="266.30" stroke="#262626" stroke-width="1.0" />
<text class="s" x="467.20" y="276.50" font-size="7" text-anchor="middle" fill="#1a1a1a" >0.0208</text>
<line x1="498.80" y1="262.30" x2="498.80" y2="266.30" stroke="#262626" stroke-width="1.0" />
<text class="s" x="498.80" y="276.50" font-size="7" text-anchor="middle" fill="#1a1a1a" >0.0262</text>
<line x1="526.80" y1="262.30" x2="526.80" y2="266.30" stroke="#262626" stroke-width="1.0" />
<text class="s" x="526.80" y="276.50" font-size="7" text-anchor="middle" fill="#1a1a1a" >0.0310</text>
<line x1="345.20" y1="171.90" x2="533.20" y2="234.60" stroke="#999" stroke-width="0.9" />
<rect x="376.20" y="164.80" width="2" height="2" fill="#1a1a8a"/>
<rect x="376.20" y="174.90" width="2" height="2" fill="#1a1a8a"/>
<rect x="376.20" y="179.00" width="2" height="2" fill="#1a1a8a"/>
<rect x="405.90" y="183.90" width="2" height="2" fill="#1a1a8a"/>
<rect x="405.90" y="190.70" width="2" height="2" fill="#1a1a8a"/>
<rect x="405.90" y="194.00" width="2" height="2" fill="#1a1a8a"/>
<rect x="435.90" y="212.30" width="2" height="2" fill="#1a1a8a"/>
<rect x="435.90" y="214.00" width="2" height="2" fill="#1a1a8a"/>
<rect x="435.90" y="215.70" width="2" height="2" fill="#1a1a8a"/>
<rect x="466.20" y="211.40" width="2" height="2" fill="#1a1a8a"/>
<rect x="466.20" y="215.40" width="2" height="2" fill="#1a1a8a"/>
<rect x="497.80" y="233.50" width="2" height="2" fill="#1a1a8a"/>
<rect x="497.80" y="243.90" width="2" height="2" fill="#1a1a8a"/>
<rect x="497.80" y="257.10" width="2" height="2" fill="#1a1a8a"/>
<rect x="525.80" y="225.80" width="2" height="2" fill="#1a1a8a"/>
<rect x="525.80" y="240.90" width="2" height="2" fill="#1a1a8a"/>
<text x="353.00" y="240.90" font-size="9.7" text-anchor="start" fill="#1a1a1a" >ΔΓ</text>
<text x="363.80" y="244.30" font-size="5.6" text-anchor="start" fill="#1a1a1a" >coh</text>
<text x="373.00" y="240.90" font-size="9.7" text-anchor="start" fill="#1a1a1a" textLength="4.0" lengthAdjust="spacingAndGlyphs">/</text>
<text x="376.50" y="240.90" font-size="9.7" text-anchor="start" fill="#1a1a1a" >Δn</text>
<text x="388.80" y="244.80" font-size="5.6" text-anchor="start" fill="#1a1a1a" >c</text>
<text x="391.10" y="240.90" font-size="9.7" text-anchor="start" fill="#1a1a1a" >=</text>
<text x="399.50" y="240.90" font-size="9.7" text-anchor="start" fill="#1a1a1a" textLength="24.6" lengthAdjust="spacing">−69.3</text>
<text x="427.50" y="240.90" font-size="9.7" text-anchor="start" fill="#1a1a1a" textLength="28.6" lengthAdjust="spacing">pg/mm</text>
<text x="456.00" y="236.90" font-size="5.8" text-anchor="start" fill="#1a1a1a" >2</text>
<text x="459.40" y="240.90" font-size="9.7" text-anchor="start" fill="#1a1a1a" textLength="19.3" lengthAdjust="spacing">/RIU</text>
<text x="301.50" y="164.50" font-size="14" text-anchor="start" fill="#1a1a1a" letter-spacing="0.3">(d)</text>
<text transform="translate(315.7,210.1) rotate(-90)" font-size="9.8" text-anchor="middle" fill="#1a1a1a">Γ<tspan dy="2.2" font-size="6.8">coh</tspan><tspan dy="-2.2"> (pg/mm</tspan><tspan dy="-3.3" font-size="6.5">2</tspan><tspan dy="3.3">)</tspan></text>
<text x="430.7" y="285.4" font-size="9.4" fill="#1a1a1a">Δ<tspan font-style="italic">n</tspan><tspan dy="2" font-size="6.6" font-style="italic">c</tspan></text>
</svg>
</body></html>
